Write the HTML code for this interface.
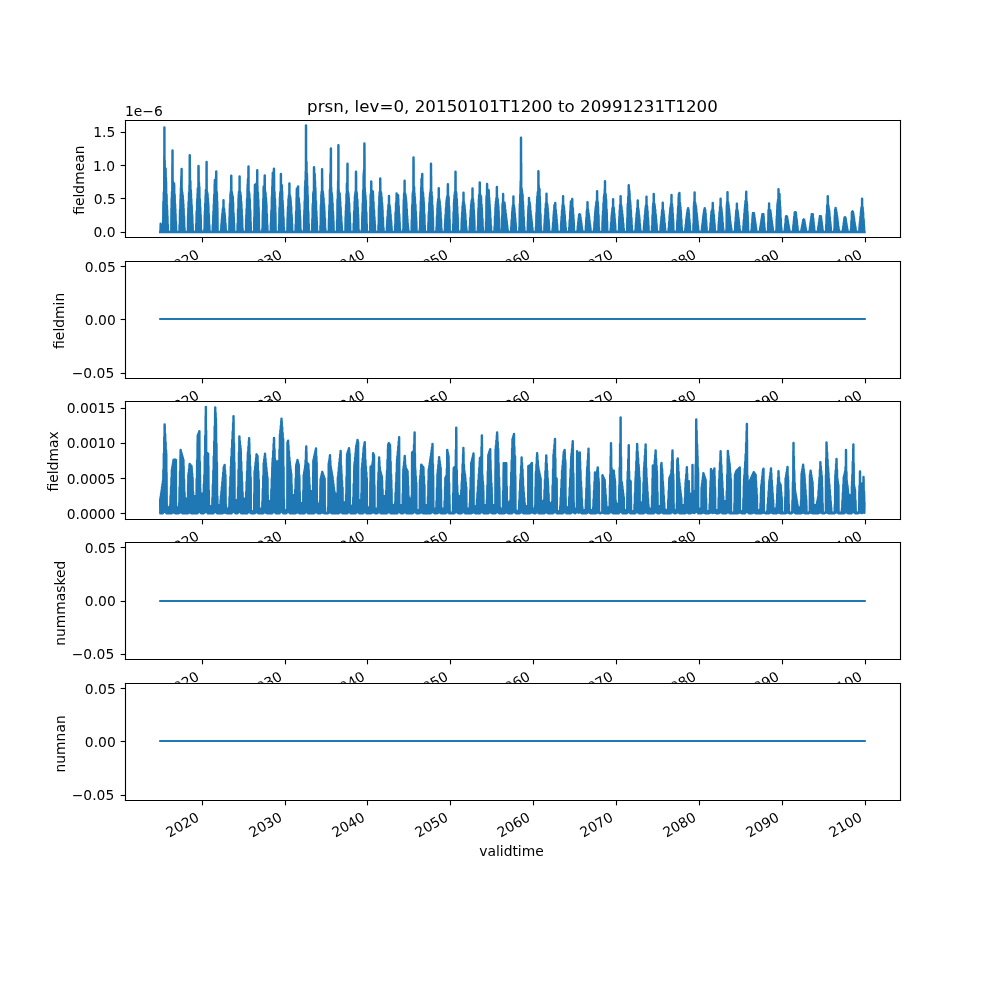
<!DOCTYPE html>
<html lang="en"><head><meta charset="utf-8"><title>prsn, lev=0</title>
<style>html,body{margin:0;padding:0;background:#fff;overflow:hidden;width:1000px;height:1000px}svg{display:block;will-change:transform;transform:translateZ(0)}text{font-family:"DejaVu Sans","Liberation Sans",sans-serif}</style></head>
<body>
<svg width="1000" height="1000" viewBox="0 0 720 720"><defs><style type="text/css">*{stroke-linejoin: round; stroke-linecap: butt}</style></defs><g id="figure_1"><g id="patch_1"><path d="M 0 720 L 720 720 L 720 0 L 0 0 z" style="fill: #ffffff"/></g><g id="axes_1"><g id="patch_2"><path d="M 90 170.81 L 648 170.81 L 648 86.4 L 90 86.4 z" style="fill: #ffffff"/></g><g id="matplotlib.axis_1"><g id="xtick_1"><g id="line2d_1"><defs><path id="m1504cfccaf" d="M 0 0 L 0 3.5" style="stroke: #000000; stroke-width: 0.8"/></defs><g><use href="#m1504cfccaf" x="145.8" y="171" style="stroke: #000000; stroke-width: 0.8"/></g></g><g id="text_1"><g transform="translate(0 0.9)"><text style="font-size: 10px; font-family: 'DejaVu Sans', 'Liberation Sans', sans-serif" transform="translate(122.111965 197.119233) rotate(-30)">2020</text></g></g></g><g id="xtick_2"><g id="line2d_2"><g><use href="#m1504cfccaf" x="205.56" y="171" style="stroke: #000000; stroke-width: 0.8"/></g></g><g id="text_2"><g transform="translate(0 0.9)"><text style="font-size: 10px; font-family: 'DejaVu Sans', 'Liberation Sans', sans-serif" transform="translate(181.801682 197.119233) rotate(-30)">2030</text></g></g></g><g id="xtick_3"><g id="line2d_3"><g><use href="#m1504cfccaf" x="264.6" y="171" style="stroke: #000000; stroke-width: 0.8"/></g></g><g id="text_3"><g transform="translate(0 0.9)"><text style="font-size: 10px; font-family: 'DejaVu Sans', 'Liberation Sans', sans-serif" transform="translate(241.475059 197.119233) rotate(-30)">2040</text></g></g></g><g id="xtick_4"><g id="line2d_4"><g><use href="#m1504cfccaf" x="324.36" y="171" style="stroke: #000000; stroke-width: 0.8"/></g></g><g id="text_4"><g transform="translate(0.18 0.9)"><text style="font-size: 10px; font-family: 'DejaVu Sans', 'Liberation Sans', sans-serif" transform="translate(301.164777 197.119233) rotate(-30)">2050</text></g></g></g><g id="xtick_5"><g id="line2d_5"><g><use href="#m1504cfccaf" x="384.12" y="171" style="stroke: #000000; stroke-width: 0.8"/></g></g><g id="text_5"><g transform="translate(-0.36 0.9)"><text style="font-size: 10px; font-family: 'DejaVu Sans', 'Liberation Sans', sans-serif" transform="translate(360.838154 197.119233) rotate(-30)">2060</text></g></g></g><g id="xtick_6"><g id="line2d_6"><g><use href="#m1504cfccaf" x="443.88" y="171" style="stroke: #000000; stroke-width: 0.8"/></g></g><g id="text_6"><g transform="translate(-0.36 0.9)"><text style="font-size: 10px; font-family: 'DejaVu Sans', 'Liberation Sans', sans-serif" transform="translate(420.527871 197.119233) rotate(-30)">2070</text></g></g></g><g id="xtick_7"><g id="line2d_7"><g><use href="#m1504cfccaf" x="503.64" y="171" style="stroke: #000000; stroke-width: 0.8"/></g></g><g id="text_7"><g transform="translate(-0.36 0.9)"><text style="font-size: 10px; font-family: 'DejaVu Sans', 'Liberation Sans', sans-serif" transform="translate(480.201249 197.119233) rotate(-30)">2080</text></g></g></g><g id="xtick_8"><g id="line2d_8"><g><use href="#m1504cfccaf" x="563.4" y="171" style="stroke: #000000; stroke-width: 0.8"/></g></g><g id="text_8"><g transform="translate(-0.18 0.9)"><text style="font-size: 10px; font-family: 'DejaVu Sans', 'Liberation Sans', sans-serif" transform="translate(539.890966 197.119233) rotate(-30)">2090</text></g></g></g><g id="xtick_9"><g id="line2d_9"><g><use href="#m1504cfccaf" x="623.16" y="171" style="stroke: #000000; stroke-width: 0.8"/></g></g><g id="text_9"><g transform="translate(-0.18 0.9)"><text style="font-size: 10px; font-family: 'DejaVu Sans', 'Liberation Sans', sans-serif" transform="translate(599.564343 197.119233) rotate(-30)">2100</text></g></g></g></g><g id="matplotlib.axis_2"><g id="ytick_1"><g id="line2d_10"><defs><path id="m5d545ce8f8" d="M 0 0 L -3.5 0" style="stroke: #000000; stroke-width: 0.8"/></defs><g><use href="#m5d545ce8f8" x="90.36" y="167.4" style="stroke: #000000; stroke-width: 0.8"/></g></g><g id="text_10"><g transform="translate(0.18 0)"><text style="font-size: 10px; font-family: 'DejaVu Sans', 'Liberation Sans', sans-serif; text-anchor: end" x="83" y="170.776021" transform="rotate(-0 83 170.776021)">0.0</text></g></g></g><g id="ytick_2"><g id="line2d_11"><g><use href="#m5d545ce8f8" x="90.36" y="142.92" style="stroke: #000000; stroke-width: 0.8"/></g></g><g id="text_11"><g transform="translate(0.36 0)"><text style="font-size: 10px; font-family: 'DejaVu Sans', 'Liberation Sans', sans-serif; text-anchor: end" x="83" y="146.69852" transform="rotate(-0 83 146.69852)">0.5</text></g></g></g><g id="ytick_3"><g id="line2d_12"><g><use href="#m5d545ce8f8" x="90.36" y="119.16" style="stroke: #000000; stroke-width: 0.8"/></g></g><g id="text_12"><g transform="translate(-0.18 0.72)"><text style="font-size: 10px; font-family: 'DejaVu Sans', 'Liberation Sans', sans-serif; text-anchor: end" x="83" y="122.621019" transform="rotate(-0 83 122.621019)">1.0</text></g></g></g><g id="ytick_4"><g id="line2d_13"><g><use href="#m5d545ce8f8" x="90.36" y="95.4" style="stroke: #000000; stroke-width: 0.8"/></g></g><g id="text_13"><text style="font-size: 10px; font-family: 'DejaVu Sans', 'Liberation Sans', sans-serif; text-anchor: end" x="83" y="98.543518" transform="rotate(-0 83 98.543518)">1.5</text></g></g><g id="text_14"><g transform="translate(-0.72 1.08)"><text style="font-size: 10px; font-family: 'DejaVu Sans', 'Liberation Sans', sans-serif; text-anchor: middle" x="61.017187" y="128.606897" transform="rotate(-90 61.017187 128.606897)">fieldmean</text></g></g><g id="text_15"><text style="font-size: 10px; font-family: 'DejaVu Sans', 'Liberation Sans', sans-serif; text-anchor: start" x="90" y="83.4" transform="rotate(-0 90 83.4)">1e−6</text></g></g><g id="line2d_14"><path d="M 115.36 166.98 L 115.53 166.98 L 115.69 161.04 L 115.85 166.98 L 116.01 163.6 L 116.17 166.98 L 117.27 166.98 L 117.31 162.04 L 117.47 166.98 L 117.63 146.66 L 117.66 166.98 L 117.67 145.15 L 117.81 166.98 L 117.96 138.5 L 118.01 138.18 L 118.06 166.98 L 118.12 138.18 L 118.2 166.98 L 118.28 112.69 L 118.32 166.98 L 118.37 91.83 L 118.47 166.98 L 118.57 115.53 L 118.67 166.98 L 118.73 121.25 L 118.83 166.98 L 118.93 121.25 L 118.97 166.98 L 119.02 121.25 L 119.13 166.98 L 119.23 121.25 L 119.24 166.98 L 119.25 121.79 L 119.36 166.98 L 119.47 127.9 L 119.52 166.98 L 119.58 130.9 L 119.74 166.98 L 119.9 140 L 119.94 166.98 L 119.95 141.48 L 120.09 166.98 L 120.22 147.89 L 120.3 166.98 L 120.37 151.27 L 120.46 166.98 L 120.55 155.54 L 120.68 166.98 L 120.82 161.88 L 120.95 166.98 L 123.33 166.98 L 123.46 149.83 L 123.54 166.98 L 123.62 142.79 L 123.71 166.98 L 123.84 138.18 L 123.95 137.68 L 124 166.98 L 124.11 118.68 L 124.16 166.98 L 124.2 108.39 L 124.32 166.98 L 124.44 130.49 L 124.52 166.98 L 124.56 132.05 L 124.66 166.98 L 124.76 132.05 L 124.84 166.98 L 124.92 132.05 L 125 166.98 L 125.08 132.05 L 125.22 166.98 L 125.35 132.05 L 125.38 166.98 L 125.41 133.22 L 125.57 166.98 L 125.73 140.09 L 125.76 166.98 L 125.78 141.2 L 125.92 166.98 L 126.06 146.96 L 126.14 166.98 L 126.22 150.36 L 126.3 166.98 L 126.38 153.82 L 126.51 166.98 L 126.65 159.51 L 126.68 166.98 L 126.7 160.69 L 126.85 166.98 L 129.23 166.98 L 129.3 161.9 L 129.46 166.98 L 129.62 151.41 L 129.63 166.98 L 129.64 150.94 L 129.79 166.98 L 129.94 143.52 L 130.03 166.98 L 130.11 139.69 L 130.19 166.98 L 130.27 135.23 L 130.33 166.98 L 130.46 129.6 L 130.54 166.98 L 130.59 126.74 L 130.67 166.98 L 130.75 121.71 L 130.83 166.98 L 130.92 136.17 L 131.03 166.98 L 131.11 138.18 L 131.18 166.98 L 131.24 138.51 L 131.39 166.98 L 131.54 140.68 L 131.55 166.98 L 131.56 140.91 L 131.7 166.98 L 131.83 144 L 131.95 166.98 L 132.02 146.86 L 132.11 166.98 L 132.21 150.21 L 132.35 166.98 L 132.49 155.75 L 132.51 166.98 L 132.54 156.68 L 132.7 166.98 L 132.86 164.22 L 132.91 166.98 L 132.97 166.97 L 135.29 166.98 L 135.45 154.62 L 135.53 166.98 L 135.6 149.78 L 135.69 166.98 L 135.78 145.18 L 135.93 166.98 L 136.08 139.52 L 136.1 139.29 L 136.18 166.98 L 136.26 138.18 L 136.4 166.98 L 136.42 133.32 L 136.49 166.98 L 136.62 111.81 L 136.68 166.98 L 136.75 121.17 L 136.81 166.98 L 136.87 130.32 L 137.01 166.98 L 137.05 130.32 L 137.07 130.7 L 137.23 166.98 L 137.4 137 L 137.45 166.98 L 137.51 139.2 L 137.61 166.98 L 137.72 143.3 L 137.85 166.98 L 137.98 147.66 L 138.01 166.98 L 138.04 148.6 L 138.21 166.98 L 138.37 154.42 L 138.41 166.98 L 138.46 156.27 L 138.58 166.98 L 138.69 161.22 L 138.81 166.98 L 141.19 166.98 L 141.28 161.11 L 141.43 166.98 L 141.57 153.13 L 141.59 166.98 L 141.61 152.25 L 141.77 166.98 L 141.93 145.22 L 141.99 166.98 L 142.05 143.17 L 142.15 166.98 L 142.26 139.46 L 142.34 166.98 L 142.42 135.65 L 142.54 166.98 L 142.67 135.65 L 142.79 166.98 L 142.9 120.54 L 142.96 166.98 L 142.92 119.48 L 143 123.35 L 143.09 166.98 L 143.17 131.58 L 143.25 166.98 L 143.28 131.58 L 143.41 166.98 L 143.48 134.42 L 143.55 136.13 L 143.71 166.98 L 143.88 143.51 L 143.91 166.98 L 143.95 144.8 L 144.08 166.98 L 144.2 149.33 L 144.31 166.98 L 144.43 154.33 L 144.48 166.98 L 144.52 156.62 L 144.69 166.98 L 144.85 165.31 L 144.88 166.98 L 144.9 166.97 L 146.63 166.98 L 147.09 166.98 L 147.12 165.16 L 147.28 166.98 L 147.44 154.74 L 147.49 166.98 L 147.54 151.91 L 147.65 166.98 L 147.76 146.46 L 147.89 166.98 L 148.02 141.68 L 148.05 166.98 L 148.09 140.65 L 148.17 166.98 L 148.25 136.8 L 148.32 166.98 L 148.41 136.8 L 148.5 166.98 L 148.5 136.8 L 148.62 166.98 L 148.74 117.99 L 148.74 166.98 L 148.75 116.67 L 148.86 166.98 L 148.97 138.18 L 149.09 166.98 L 149.11 138.18 L 149.25 166.98 L 149.38 139.45 L 149.41 166.98 L 149.44 139.97 L 149.58 166.98 L 149.71 142.9 L 149.81 166.98 L 149.92 146.05 L 149.98 166.98 L 150.03 147.93 L 150.19 166.98 L 150.36 154.31 L 150.38 166.98 L 150.4 155.2 L 150.54 166.98 L 150.68 161.9 L 150.87 166.98 L 153.14 166.98 L 153.25 162.14 L 153.26 166.98 L 153.27 161.71 L 153.43 166.98 L 153.6 154.57 L 153.65 166.98 L 153.7 152.25 L 153.81 166.98 L 153.92 147.43 L 154.03 166.98 L 154.15 142.36 L 154.2 166.98 L 154.24 140.28 L 154.41 166.98 L 154.57 133.14 L 154.6 132.47 L 154.66 166.98 L 154.73 129.6 L 154.81 166.98 L 154.89 129.6 L 154.97 166.98 L 155.05 129.6 L 155.13 166.98 L 155.22 129.6 L 155.28 166.98 L 155.34 129.6 L 155.47 166.98 L 155.54 127.39 L 155.62 166.98 L 155.7 123.51 L 155.78 166.98 L 155.86 137.6 L 156.01 166.98 L 156.06 138.18 L 156.12 166.98 L 156.19 139.58 L 156.29 166.98 L 156.39 145.12 L 156.45 166.98 L 156.51 149.73 L 156.67 166.98 L 156.84 166.64 L 156.84 166.98 L 159.05 166.98 L 159.1 165.64 L 159.27 166.98 L 159.43 161.56 L 159.45 166.98 L 159.48 160.95 L 159.61 166.98 L 159.75 157.7 L 159.85 166.98 L 159.95 155.44 L 160.01 166.98 L 160.08 154.13 L 160.24 166.98 L 160.4 151.03 L 160.43 150.79 L 160.49 166.98 L 160.56 149.9 L 160.7 166.98 L 160.72 149.9 L 160.81 166.98 L 160.92 144.21 L 160.98 166.98 L 161.05 149.9 L 161.11 166.98 L 161.17 149.9 L 161.33 166.98 L 161.37 150.49 L 161.38 150.57 L 161.54 166.98 L 161.7 153.5 L 161.78 166.98 L 161.86 155.23 L 161.94 166.98 L 162.02 157.07 L 162.18 166.98 L 162.33 160.84 L 162.34 166.98 L 162.34 160.97 L 162.51 166.98 L 162.67 165.11 L 162.81 166.98 L 165.11 166.98 L 165.26 156.09 L 165.35 166.98 L 165.45 150.24 L 165.51 166.98 L 165.58 146.51 L 165.75 166.98 L 165.91 140.12 L 165.91 166.98 L 165.92 139.94 L 166.03 166.98 L 166.14 138.18 L 166.24 166.98 L 166.25 138.18 L 166.32 166.98 L 166.4 134.74 L 166.45 166.98 L 166.5 126.46 L 166.56 129.84 L 166.65 166.98 L 166.75 138.18 L 166.87 166.98 L 166.87 138.18 L 166.88 138.19 L 167.04 166.98 L 167.2 139.82 L 167.28 166.98 L 167.35 141.13 L 167.44 166.98 L 167.53 141.84 L 167.59 166.98 L 167.65 141.84 L 167.74 166.98 L 167.83 145.72 L 167.85 146.3 L 168.01 166.98 L 168.18 153.53 L 168.24 166.98 L 168.3 156.08 L 168.4 166.98 L 168.5 160.36 L 168.64 166.98 L 171.01 166.98 L 171.09 161.15 L 171.25 166.98 L 171.41 150.75 L 171.41 166.98 L 171.42 150.69 L 171.58 166.98 L 171.74 142.94 L 171.81 166.98 L 171.89 140.42 L 171.98 166.98 L 172.06 138.54 L 172.15 138.18 L 172.21 166.98 L 172.37 138.18 L 172.39 136.96 L 172.45 166.98 L 172.51 127.11 L 172.61 166.98 L 172.71 138.18 L 172.8 166.98 L 172.87 138.18 L 172.95 166.98 L 173.04 138.67 L 173.18 166.98 L 173.32 140.81 L 173.34 166.98 L 173.36 141.23 L 173.52 166.98 L 173.68 145.32 L 173.74 166.98 L 173.79 147.01 L 173.9 166.98 L 174.01 150.68 L 174.14 166.98 L 174.27 155.85 L 174.3 166.98 L 174.33 157.17 L 174.49 166.98 L 174.66 164.71 L 174.75 166.98 L 176.91 166.98 L 176.92 166.46 L 177.09 166.98 L 177.25 157.75 L 177.31 166.98 L 177.38 154.54 L 177.48 166.98 L 177.57 150.38 L 177.71 166.98 L 177.86 144.06 L 177.88 166.98 L 177.9 143.14 L 178.06 166.98 L 178.22 135.34 L 178.28 166.98 L 178.33 132.61 L 178.41 166.98 L 178.54 128.88 L 178.61 166.98 L 178.67 128.88 L 178.74 166.98 L 178.87 121.78 L 178.89 166.98 L 178.92 119.91 L 179.05 166.98 L 179.17 138.18 L 179.28 166.98 L 179.29 138.18 L 179.4 166.98 L 179.52 139.6 L 179.64 166.98 L 179.76 142.85 L 179.8 166.98 L 179.84 144.18 L 180 166.98 L 180.16 151.03 L 180.2 166.98 L 180.24 152.88 L 180.36 166.98 L 180.49 159.81 L 180.6 166.98 L 182.98 166.98 L 183.08 156.35 L 183.21 166.98 L 183.35 142.42 L 183.4 139.63 L 183.47 166.98 L 183.53 133.2 L 183.63 166.98 L 183.73 133.2 L 183.78 166.98 L 183.83 133.2 L 183.94 166.98 L 184.05 133.2 L 184.18 166.98 L 184.3 133.2 L 184.34 166.98 L 184.38 133.2 L 184.54 166.98 L 184.7 133.2 L 184.82 166.98 L 184.97 133.2 L 185 166.98 L 185.02 130.87 L 185.12 166.98 L 185.22 122.61 L 185.3 166.98 L 185.35 133.83 L 185.41 166.98 L 185.47 138.18 L 185.63 166.98 L 185.67 138.63 L 185.73 139.21 L 185.86 166.98 L 186 143.85 L 186.1 166.98 L 186.21 149.39 L 186.26 166.98 L 186.32 152.99 L 186.48 166.98 L 186.64 165.33 L 186.66 166.98 L 186.68 166.97 L 188.88 166.98 L 188.91 164.66 L 189.07 166.98 L 189.24 153.92 L 189.28 166.98 L 189.32 151.2 L 189.44 166.98 L 189.56 143.18 L 189.68 166.98 L 189.79 135.43 L 189.86 166.98 L 189.83 134.28 L 189.88 134.28 L 190.05 166.98 L 190.21 134.28 L 190.32 166.98 L 190.37 134.28 L 190.45 166.98 L 190.53 129.16 L 190.62 126.39 L 190.68 166.98 L 190.75 136.54 L 190.86 166.98 L 190.98 138.18 L 191.08 166.98 L 191.18 139.01 L 191.2 166.98 L 191.22 139.33 L 191.36 166.98 L 191.5 142.34 L 191.6 166.98 L 191.7 145.23 L 191.76 166.98 L 191.83 147.48 L 191.99 166.98 L 192.15 154.13 L 192.16 166.98 L 192.17 154.64 L 192.32 166.98 L 192.48 162.14 L 192.56 166.98 L 192.65 166.97 L 194.26 166.98 L 194.82 166.98 L 194.83 166.39 L 194.95 166.98 L 195.07 160.15 L 195.19 166.98 L 195.31 153.84 L 195.35 166.98 L 195.39 151.55 L 195.55 166.98 L 195.72 142.96 L 195.75 166.98 L 195.78 141.28 L 195.91 166.98 L 196.04 134.37 L 196.15 166.98 L 196.25 128.73 L 196.31 166.98 L 196.42 124.38 L 196.55 166.98 L 196.69 124.38 L 196.71 166.98 L 196.72 124.38 L 196.82 166.98 L 196.92 124.38 L 197.02 166.98 L 197.03 124.38 L 197.11 166.98 L 197.2 122.38 L 197.28 121.42 L 197.31 166.98 L 197.34 126.43 L 197.43 166.98 L 197.53 138.18 L 197.65 166.98 L 197.66 138.22 L 197.67 138.27 L 197.83 166.98 L 197.98 143.21 L 198.06 166.98 L 198.14 147.74 L 198.23 166.98 L 198.31 153.41 L 198.46 166.98 L 199.77 166.98 L 200.84 166.98 L 200.9 161.92 L 201.06 166.98 L 201.22 150.43 L 201.24 166.98 L 201.25 149.51 L 201.4 166.98 L 201.55 142.2 L 201.64 166.98 L 201.73 139.29 L 201.8 166.98 L 201.89 138.18 L 201.94 166.98 L 202 138.18 L 202.1 166.98 L 202.21 128.76 L 202.23 166.98 L 202.25 125.31 L 202.37 166.98 L 202.5 133.38 L 202.56 166.98 L 202.61 133.38 L 202.65 166.98 L 202.68 133.38 L 202.76 166.98 L 202.84 133.38 L 202.89 166.98 L 202.93 133.38 L 203.05 166.98 L 203.16 137.97 L 203.16 166.98 L 203.17 138.16 L 203.33 166.98 L 203.49 144.74 L 203.56 166.98 L 203.63 147.64 L 203.72 166.98 L 203.82 150.83 L 203.96 166.98 L 204.11 156.38 L 204.12 166.98 L 204.14 156.98 L 204.3 166.98 L 204.46 164.06 L 204.52 166.98 L 204.59 166.97 L 206.08 166.98 L 206.9 166.98 L 207.06 157.18 L 207.14 166.98 L 207.22 152.68 L 207.3 166.98 L 207.38 149 L 207.54 166.98 L 207.7 143.32 L 207.7 166.98 L 207.7 143.25 L 207.86 166.98 L 208.01 140.8 L 208.07 166.98 L 208.12 140.8 L 208.15 166.98 L 208.17 140.8 L 208.26 166.98 L 208.37 132.08 L 208.49 166.98 L 208.62 140.8 L 208.7 166.98 L 208.73 140.8 L 208.86 166.98 L 209 141.89 L 209.06 166.98 L 209.13 142.87 L 209.22 166.98 L 209.32 144.84 L 209.46 166.98 L 209.6 148.47 L 209.62 166.98 L 209.65 149.14 L 209.81 166.98 L 209.97 154.59 L 210.02 166.98 L 210.08 156.62 L 210.19 166.98 L 210.3 161.09 L 210.43 166.98 L 212.8 166.98 L 212.89 161.83 L 213.04 166.98 L 213.19 152.82 L 213.2 166.98 L 213.21 152.2 L 213.37 166.98 L 213.54 142.56 L 213.6 166.98 L 213.67 138.67 L 213.77 135.65 L 213.81 166.98 L 213.86 135.65 L 214 166.98 L 214.14 135.65 L 214.23 166.98 L 214.38 135.65 L 214.44 166.98 L 214.51 134.97 L 214.56 166.98 L 214.63 134.31 L 214.73 166.98 L 214.83 142.48 L 214.94 166.98 L 214.99 142.48 L 215.09 142.79 L 215.12 166.98 L 215.16 143.14 L 215.32 166.98 L 215.48 146.35 L 215.52 166.98 L 215.57 147.58 L 215.69 166.98 L 215.8 151.29 L 215.93 166.98 L 216.05 155.92 L 216.09 166.98 L 216.13 157.62 L 216.29 166.98 L 216.45 165.17 L 216.52 166.98 L 218.7 166.98 L 218.72 165.6 L 218.88 166.98 L 219.04 154.74 L 219.1 166.98 L 219.16 151.41 L 219.26 166.98 L 219.37 144.83 L 219.5 166.98 L 219.63 136.19 L 219.69 134.35 L 219.75 166.98 L 219.82 130.32 L 219.89 166.98 L 220.02 130.32 L 220.09 166.98 L 220.11 123.59 L 220.22 166.98 L 220.32 90.39 L 220.33 166.98 L 220.34 92.41 L 220.46 166.98 L 220.57 116.64 L 220.67 166.98 L 220.68 116.64 L 220.83 166.98 L 220.99 125.19 L 221.02 166.98 L 221.06 127.27 L 221.19 166.98 L 221.31 134.19 L 221.42 166.98 L 221.54 140.5 L 221.59 166.98 L 221.64 143.2 L 221.8 166.98 L 221.96 152.21 L 221.99 166.98 L 222.01 153.75 L 222.15 166.98 L 222.28 161.22 L 222.49 166.98 L 224.76 166.98 L 224.88 157.61 L 225 166.98 L 225.13 148.96 L 225.16 166.98 L 225.2 146.85 L 225.36 166.98 L 225.52 139.89 L 225.6 138.9 L 225.66 166.98 L 225.72 138.18 L 225.84 166.98 L 225.85 138.18 L 225.96 166.98 L 226.08 120.47 L 226.13 166.98 L 226.08 120.34 L 226.17 122.13 L 226.25 166.98 L 226.33 125.28 L 226.47 166.98 L 226.58 125.28 L 226.7 166.98 L 226.82 130.52 L 226.92 166.98 L 227.03 135.21 L 227.09 166.98 L 227.14 137.72 L 227.31 166.98 L 227.47 144.93 L 227.49 166.98 L 227.51 145.81 L 227.65 166.98 L 227.79 152.13 L 227.89 166.98 L 227.98 156.39 L 228.05 166.98 L 228.12 159.29 L 228.28 166.98 L 228.44 166.52 L 228.46 166.98 L 230.66 166.98 L 230.71 162.56 L 230.87 166.98 L 231.03 149.06 L 231.06 166.98 L 231.09 147.22 L 231.22 166.98 L 231.36 140.32 L 231.45 166.98 L 231.55 138.18 L 231.67 166.98 L 231.68 138.18 L 231.8 166.98 L 231.91 121.89 L 232.01 166.98 L 232.02 128.68 L 232.09 166.98 L 232.16 137.52 L 232.29 166.98 L 232.32 137.52 L 232.33 137.69 L 232.41 166.98 L 232.49 138.84 L 232.57 166.98 L 232.65 139.86 L 232.8 166.98 L 232.96 142.67 L 232.97 166.98 L 232.98 142.87 L 233.14 166.98 L 233.3 147.01 L 233.36 166.98 L 233.42 148.88 L 233.52 166.98 L 233.62 152.12 L 233.76 166.98 L 233.89 157.04 L 233.92 166.98 L 233.95 158.13 L 234.11 166.98 L 234.27 164.81 L 234.39 166.98 L 236.73 166.98 L 236.86 157.52 L 236.96 166.98 L 237.06 151.66 L 237.13 166.98 L 237.19 147.72 L 237.35 166.98 L 237.51 137.33 L 237.53 166.98 L 237.54 136.45 L 237.69 166.98 L 237.84 126.94 L 237.87 125.71 L 237.94 166.98 L 238.01 124.31 L 238.09 166.98 L 238.16 113.5 L 238.2 166.98 L 238.25 106.88 L 238.37 166.98 L 238.48 134.95 L 238.55 166.98 L 238.61 138.18 L 238.71 166.98 L 238.81 138.92 L 238.89 166.98 L 238.97 140.16 L 239.05 166.98 L 239.13 141.9 L 239.29 166.98 L 239.44 146.28 L 239.45 166.98 L 239.46 146.48 L 239.62 166.98 L 239.78 152.42 L 239.85 166.98 L 239.92 155.36 L 240.01 166.98 L 240.1 159.58 L 240.25 166.98 L 242.63 166.98 L 242.7 158.39 L 242.85 166.98 L 243 144.32 L 243.01 166.98 L 243.02 143.58 L 243.15 166.98 L 243.29 138.18 L 243.4 135.79 L 243.42 166.98 L 243.44 130.27 L 243.54 166.98 L 243.65 104.61 L 243.66 166.98 L 243.67 107.28 L 243.78 166.98 L 243.88 136.87 L 244 166.98 L 244.01 138.18 L 244.16 166.98 L 244.32 139.25 L 244.32 166.98 L 244.33 139.25 L 244.45 166.98 L 244.58 139.25 L 244.7 166.98 L 244.77 142.12 L 244.87 166.98 L 244.96 145.16 L 245.09 166.98 L 245.21 149.02 L 245.25 166.98 L 245.29 150.21 L 245.45 166.98 L 245.61 155.26 L 245.63 166.98 L 245.65 155.91 L 245.79 166.98 L 245.94 160.31 L 246.02 166.98 L 246.1 162.81 L 246.18 166.98 L 246.26 165.36 L 246.31 166.98 L 246.36 166.97 L 248.53 166.98 L 248.53 166.82 L 248.69 166.98 L 248.85 156.04 L 248.93 166.98 L 249 151.82 L 249.09 166.98 L 249.18 147.39 L 249.33 166.98 L 249.47 140.27 L 249.49 166.98 L 249.5 139.58 L 249.63 166.98 L 249.77 132.05 L 249.89 166.98 L 249.95 131.84 L 250.05 166.98 L 250.15 120.79 L 250.17 166.98 L 250.2 117.82 L 250.31 166.98 L 250.43 138.18 L 250.52 166.98 L 250.56 138.18 L 250.68 166.98 L 250.8 139.17 L 250.85 166.98 L 250.9 140.05 L 251.01 166.98 L 251.12 142.39 L 251.25 166.98 L 251.38 146.14 L 251.41 166.98 L 251.44 147.21 L 251.61 166.98 L 251.77 153.38 L 251.81 166.98 L 251.86 155.27 L 251.97 166.98 L 252.09 160.77 L 252.21 166.98 L 254.59 166.98 L 254.68 160.98 L 254.83 166.98 L 254.97 153.18 L 254.99 166.98 L 255.01 152.17 L 255.17 166.98 L 255.33 145.18 L 255.39 166.98 L 255.53 141.48 L 255.59 166.98 L 255.66 140.27 L 255.79 166.98 L 255.92 138.25 L 255.96 138.18 L 256.02 166.98 L 256.07 138.18 L 256.19 166.98 L 256.3 124.86 L 256.36 166.98 L 256.32 123.69 L 256.4 128.05 L 256.48 166.98 L 256.57 138.18 L 256.65 166.98 L 256.68 138.18 L 256.78 166.98 L 256.87 139 L 256.91 166.98 L 256.95 139.64 L 257.11 166.98 L 257.28 143.61 L 257.31 166.98 L 257.35 144.75 L 257.47 166.98 L 257.6 149.39 L 257.71 166.98 L 257.82 154.3 L 257.87 166.98 L 257.92 156.72 L 258.09 166.98 L 258.25 165.45 L 258.27 166.98 L 258.3 166.97 L 260.19 166.98 L 260.49 166.98 L 260.52 165.27 L 260.68 166.98 L 260.84 155.88 L 260.89 166.98 L 260.94 153.06 L 261.05 166.98 L 261.16 146.41 L 261.29 166.98 L 261.41 139.15 L 261.45 166.98 L 261.49 136.95 L 261.65 166.98 L 261.81 127.48 L 261.89 125.25 L 261.91 166.98 L 262.01 123.84 L 262.13 166.98 L 262.14 122.25 L 262.25 166.98 L 262.36 103.63 L 262.41 166.98 L 262.37 103.28 L 262.46 114.83 L 262.54 166.98 L 262.62 135.13 L 262.76 166.98 L 262.78 138.29 L 262.84 138.54 L 262.97 166.98 L 263.11 140.97 L 263.21 166.98 L 263.32 143.96 L 263.37 166.98 L 263.43 145.98 L 263.59 166.98 L 263.76 152.85 L 263.77 166.98 L 263.79 153.72 L 263.94 166.98 L 264.08 161.35 L 264.17 166.98 L 264.27 166.97 L 264.89 166.98 L 266.55 166.98 L 266.67 149.05 L 266.76 166.98 L 266.84 141.48 L 266.94 139.78 L 266.97 166.98 L 267.05 139.78 L 267.15 166.98 L 267.26 133.77 L 267.31 166.98 L 267.3 130.71 L 267.32 131.26 L 267.44 166.98 L 267.55 137.88 L 267.67 166.98 L 267.67 137.88 L 267.82 166.98 L 267.97 137.88 L 268.03 166.98 L 268.09 137.88 L 268.19 166.98 L 268.29 137.88 L 268.37 166.98 L 268.45 137.88 L 268.5 138.71 L 268.56 166.98 L 268.62 140.55 L 268.77 166.98 L 268.92 145.48 L 268.93 166.98 L 268.94 145.83 L 269.1 166.98 L 269.26 151.12 L 269.3 166.98 L 269.33 152.25 L 269.46 166.98 L 269.59 156.4 L 269.67 166.98 L 269.75 159.02 L 269.83 166.98 L 269.91 161.69 L 270.07 166.98 L 272.45 166.98 L 272.5 162.11 L 272.67 166.98 L 272.83 149.75 L 272.85 166.98 L 272.87 148.33 L 273.01 166.98 L 273.15 141.27 L 273.25 166.98 L 273.35 138.52 L 273.42 138.18 L 273.45 166.98 L 273.53 138.18 L 273.65 166.98 L 273.78 128.48 L 273.81 166.98 L 273.82 131.83 L 273.93 166.98 L 274.03 138.18 L 274.13 166.98 L 274.14 138.18 L 274.22 166.98 L 274.3 138.58 L 274.37 166.98 L 274.45 139.38 L 274.61 166.98 L 274.77 142.18 L 274.77 166.98 L 274.78 142.22 L 274.94 166.98 L 275.1 146.15 L 275.17 166.98 L 275.25 148.45 L 275.34 166.98 L 275.42 151.16 L 275.57 166.98 L 275.73 156.79 L 275.74 166.98 L 275.74 157.08 L 275.91 166.98 L 276.07 163.87 L 276.2 166.98 L 278.51 166.98 L 278.66 161.66 L 278.75 166.98 L 278.84 158.62 L 278.91 166.98 L 278.98 156.33 L 279.15 166.98 L 279.31 151.68 L 279.31 166.98 L 279.32 151.57 L 279.47 166.98 L 279.63 148.11 L 279.72 147.55 L 279.76 166.98 L 279.83 147.55 L 279.89 166.98 L 279.96 147.48 L 280.02 166.98 L 280.08 141.08 L 280.17 166.98 L 280.28 147.55 L 280.39 166.98 L 280.44 147.55 L 280.52 166.98 L 280.6 148.45 L 280.67 166.98 L 280.74 149.57 L 280.84 166.98 L 280.93 151.29 L 281.07 166.98 L 281.22 154.44 L 281.24 166.98 L 281.25 154.8 L 281.41 166.98 L 281.58 158.77 L 281.64 166.98 L 281.7 160.34 L 281.8 166.98 L 281.9 163.1 L 282.04 166.98 L 284.41 166.98 L 284.49 161.89 L 284.64 166.98 L 284.79 153.5 L 284.8 166.98 L 284.82 152.9 L 284.98 166.98 L 285.14 146.65 L 285.19 146.2 L 285.27 166.98 L 285.3 146.2 L 285.38 166.98 L 285.46 144.14 L 285.51 166.98 L 285.55 139.28 L 285.63 166.98 L 285.71 140.08 L 285.86 166.98 L 285.91 140.58 L 286.01 166.98 L 286.11 140.58 L 286.14 166.98 L 286.17 140.58 L 286.3 166.98 L 286.44 140.58 L 286.53 166.98 L 286.63 140.58 L 286.7 166.98 L 286.76 142.81 L 286.92 166.98 L 287.08 148.47 L 287.08 166.98 L 287.08 148.48 L 287.25 166.98 L 287.41 154.15 L 287.47 166.98 L 287.54 156.49 L 287.64 166.98 L 287.73 159.82 L 287.87 166.98 L 288 164.52 L 288.1 166.98 L 290.31 166.98 L 290.32 165.36 L 290.49 166.98 L 290.65 147.08 L 290.69 166.98 L 290.73 143.78 L 290.84 166.98 L 290.95 139.29 L 291.02 166.98 L 291.06 139.29 L 291.11 166.98 L 291.17 139.29 L 291.23 166.98 L 291.31 130.06 L 291.44 166.98 L 291.56 139.29 L 291.65 166.98 L 291.67 139.29 L 291.76 166.98 L 291.85 139.76 L 291.99 166.98 L 292.03 140.75 L 292.15 166.98 L 292.27 142.71 L 292.37 166.98 L 292.46 144.78 L 292.53 166.98 L 292.59 146.35 L 292.74 166.98 L 292.9 150.65 L 292.91 166.98 L 292.92 150.96 L 293.05 166.98 L 293.18 155.46 L 293.28 166.98 L 293.33 158.09 L 293.45 166.98 L 293.56 160.97 L 293.66 166.98 L 293.76 163.13 L 293.82 166.98 L 293.89 164.54 L 294.11 166.98 L 296.37 166.98 L 296.48 158.31 L 296.61 166.98 L 296.74 149.26 L 296.77 166.98 L 296.8 147.55 L 296.97 166.98 L 297.13 140.37 L 297.17 166.98 L 297.22 139.11 L 297.29 166.98 L 297.36 138.18 L 297.46 166.98 L 297.47 138.18 L 297.58 166.98 L 297.7 115.88 L 297.75 166.98 L 297.72 113.36 L 297.78 118.04 L 297.87 166.98 L 297.97 134.64 L 298.09 166.98 L 298.15 134.64 L 298.17 134.99 L 298.3 166.98 L 298.42 139.2 L 298.54 166.98 L 298.65 141.73 L 298.7 166.98 L 298.75 142.81 L 298.91 166.98 L 299.07 147.14 L 299.1 166.98 L 299.12 147.96 L 299.26 166.98 L 299.4 152.54 L 299.5 166.98 L 299.6 156.47 L 299.66 166.98 L 299.72 158.91 L 299.88 166.98 L 300.04 166.18 L 300.06 166.98 L 300.08 166.97 L 302.27 166.98 L 302.31 164.5 L 302.47 166.98 L 302.64 154.76 L 302.67 166.98 L 302.71 152.4 L 302.84 166.98 L 302.96 144.83 L 303.07 166.98 L 303.19 137.81 L 303.24 166.98 L 303.28 134.9 L 303.38 166.98 L 303.48 128.88 L 303.54 166.98 L 303.66 128.88 L 303.72 166.98 L 303.77 128.88 L 303.85 166.98 L 303.93 126.56 L 304.02 125.31 L 304.08 166.98 L 304.14 135.31 L 304.26 166.98 L 304.38 138.18 L 304.48 166.98 L 304.58 139.02 L 304.6 166.98 L 304.62 139.29 L 304.76 166.98 L 304.9 142.36 L 305 166.98 L 305.09 145.18 L 305.16 166.98 L 305.23 147.52 L 305.39 166.98 L 305.55 154.21 L 305.56 166.98 L 305.57 154.6 L 305.72 166.98 L 305.88 162.26 L 305.96 166.98 L 306.04 166.97 L 307.98 166.98 L 308.34 166.98 L 308.47 160.16 L 308.57 166.98 L 308.68 155.18 L 308.74 166.98 L 308.79 152.8 L 308.95 166.98 L 309.12 146.69 L 309.14 166.98 L 309.16 146.01 L 309.3 166.98 L 309.44 141.98 L 309.54 166.98 L 309.63 139.93 L 309.7 166.98 L 309.82 138.62 L 309.89 166.98 L 309.96 138.18 L 310.08 166.98 L 310.11 136.48 L 310.21 166.98 L 310.32 117.82 L 310.37 166.98 L 310.41 126.74 L 310.49 166.98 L 310.58 138.18 L 310.71 166.98 L 310.74 138.32 L 310.9 166.98 L 311.06 141.72 L 311.06 166.98 L 311.06 141.75 L 311.22 166.98 L 311.38 148.1 L 311.46 166.98 L 311.54 151.96 L 311.62 166.98 L 311.71 156.84 L 311.86 166.98 L 313.81 166.98 L 314.24 166.98 L 314.3 163.68 L 314.46 166.98 L 314.62 156.07 L 314.64 166.98 L 314.65 155.53 L 314.8 166.98 L 314.95 149.82 L 315.04 166.98 L 315.13 147.07 L 315.2 166.98 L 315.27 145.24 L 315.41 166.98 L 315.54 143.34 L 315.62 166.98 L 315.65 143.34 L 315.77 166.98 L 315.9 135.46 L 316 166.98 L 316.08 143.34 L 316.2 166.98 L 316.26 143.34 L 316.41 166.98 L 316.55 144.86 L 316.56 166.98 L 316.57 144.98 L 316.73 166.98 L 316.89 148.34 L 316.96 166.98 L 317.03 150.13 L 317.12 166.98 L 317.22 152.84 L 317.36 166.98 L 317.5 157.65 L 317.52 166.98 L 317.54 158.27 L 317.7 166.98 L 317.86 164.52 L 317.92 166.98 L 317.98 166.97 L 319.81 166.98 L 320.3 166.98 L 320.46 160.56 L 320.54 166.98 L 320.62 157.55 L 320.7 166.98 L 320.78 154.74 L 320.94 166.98 L 321.09 149.93 L 321.1 166.98 L 321.1 149.79 L 321.27 166.98 L 321.43 145.79 L 321.5 166.98 L 321.57 144.36 L 321.66 166.98 L 321.77 142.75 L 321.91 166.98 L 322.05 141.39 L 322.1 166.98 L 322.13 141.26 L 322.18 166.98 L 322.24 141.26 L 322.32 166.98 L 322.4 136.41 L 322.49 132.69 L 322.5 166.98 L 322.52 134.94 L 322.62 166.98 L 322.74 141.26 L 322.79 166.98 L 322.85 141.26 L 322.92 166.98 L 323 142.18 L 323.05 142.75 L 323.21 166.98 L 323.37 148.71 L 323.42 166.98 L 323.47 151.26 L 323.58 166.98 L 323.7 157.88 L 323.82 166.98 L 326.2 166.98 L 326.29 161.47 L 326.44 166.98 L 326.59 153.34 L 326.6 166.98 L 326.61 152.7 L 326.75 166.98 L 326.88 146.74 L 326.94 145.67 L 327 166.98 L 327.06 143.45 L 327.16 166.98 L 327.26 140.64 L 327.4 166.98 L 327.54 138.32 L 327.6 138.18 L 327.65 166.98 L 327.71 138.18 L 327.81 166.98 L 327.91 129.28 L 327.99 166.98 L 327.96 123.69 L 328.01 128.26 L 328.11 166.98 L 328.23 138.18 L 328.28 166.98 L 328.32 138.18 L 328.4 166.98 L 328.49 138.86 L 328.52 166.98 L 328.56 139.36 L 328.72 166.98 L 328.88 143.19 L 328.92 166.98 L 328.97 144.53 L 329.08 166.98 L 329.2 148.91 L 329.32 166.98 L 329.44 154.14 L 329.48 166.98 L 329.53 156.24 L 329.69 166.98 L 329.85 165.02 L 329.92 166.98 L 332.1 166.98 L 332.12 166.02 L 332.28 166.98 L 332.44 159.09 L 332.5 166.98 L 332.55 156.93 L 332.66 166.98 L 332.77 153.07 L 332.9 166.98 L 333.03 149.06 L 333.06 166.98 L 333.09 148.25 L 333.23 166.98 L 333.36 145.85 L 333.49 166.98 L 333.51 145.85 L 333.61 166.98 L 333.72 138.81 L 333.73 166.98 L 333.74 139.9 L 333.86 166.98 L 333.97 145.85 L 334.07 166.98 L 334.08 145.85 L 334.23 166.98 L 334.39 147.65 L 334.42 166.98 L 334.46 148.25 L 334.58 166.98 L 334.71 150.75 L 334.82 166.98 L 334.93 153.3 L 334.98 166.98 L 335.04 154.57 L 335.2 166.98 L 335.36 158.94 L 335.38 166.98 L 335.41 159.66 L 335.55 166.98 L 335.68 163.76 L 335.89 166.98 L 338.16 166.98 L 338.28 162.52 L 338.4 166.98 L 338.52 158.11 L 338.56 166.98 L 338.6 156.81 L 338.76 166.98 L 338.92 151.86 L 338.96 166.98 L 339 150.84 L 339.11 166.98 L 339.23 147.31 L 339.24 166.98 L 339.25 147.31 L 339.36 166.98 L 339.47 145.54 L 339.52 166.98 L 339.57 144.77 L 339.71 166.98 L 339.84 143.5 L 339.95 166.98 L 339.95 143.5 L 340.07 166.98 L 340.2 135.68 L 340.21 166.98 L 340.22 136.88 L 340.32 166.98 L 340.43 143.5 L 340.5 166.98 L 340.56 143.5 L 340.71 166.98 L 340.87 146.08 L 340.88 166.98 L 340.9 146.54 L 341.05 166.98 L 341.19 151.29 L 341.28 166.98 L 341.38 155.1 L 341.45 166.98 L 341.52 158.23 L 341.68 166.98 L 341.84 166.58 L 341.85 166.98 L 344.06 166.98 L 344.11 163.11 L 344.27 166.98 L 344.43 151.69 L 344.46 166.98 L 344.49 149.98 L 344.62 166.98 L 344.76 143.68 L 344.86 166.98 L 344.97 140.75 L 345.06 140.26 L 345.07 166.98 L 345.17 140.26 L 345.29 166.98 L 345.4 132.53 L 345.43 166.98 L 345.42 131.36 L 345.44 132.22 L 345.56 166.98 L 345.67 140.26 L 345.75 166.98 L 345.78 140.26 L 345.85 166.98 L 345.92 140.56 L 345.98 166.98 L 346.05 141.19 L 346.19 166.98 L 346.32 141.48 L 346.38 166.98 L 346.39 142.74 L 346.55 166.98 L 346.7 147.33 L 346.78 166.98 L 346.87 149.65 L 346.95 166.98 L 347.02 151.95 L 347.18 166.98 L 347.35 157.43 L 347.35 166.98 L 347.35 157.45 L 347.51 166.98 L 347.67 163.78 L 347.82 166.98 L 349.89 166.98 L 349.94 159.64 L 350.1 166.98 L 350.26 142.59 L 350.31 166.98 L 350.35 141.13 L 350.41 166.98 L 350.46 141.13 L 350.52 166.98 L 350.68 134.97 L 350.69 166.98 L 350.71 132.51 L 350.81 166.98 L 350.91 136.05 L 351.02 166.98 L 351.09 136.98 L 351.16 166.98 L 351.24 136.98 L 351.37 166.98 L 351.5 136.98 L 351.53 166.98 L 351.56 136.98 L 351.71 166.98 L 351.86 136.98 L 351.9 166.98 L 351.92 137.82 L 352.06 166.98 L 352.21 142.33 L 352.27 166.98 L 352.33 144.27 L 352.43 166.98 L 352.53 147.37 L 352.64 166.98 L 352.75 150.72 L 352.8 166.98 L 352.86 152.42 L 353.01 166.98 L 353.16 157.16 L 353.17 166.98 L 353.18 157.47 L 353.34 166.98 L 353.5 162.51 L 353.65 166.98 L 356.02 166.98 L 356.1 163.23 L 356.26 166.98 L 356.42 155.76 L 356.42 166.98 L 356.43 155.62 L 356.58 166.98 L 356.74 149.62 L 356.82 166.98 L 356.9 147.18 L 356.97 166.98 L 357.07 145.08 L 357.22 166.98 L 357.38 142.74 L 357.41 142.69 L 357.46 166.98 L 357.52 142.69 L 357.62 166.98 L 357.72 137.61 L 357.77 134.6 L 357.81 166.98 L 357.85 140.15 L 357.94 166.98 L 358.04 142.69 L 358.08 166.98 L 358.13 142.69 L 358.23 166.98 L 358.33 143.56 L 358.35 166.98 L 358.36 143.8 L 358.53 166.98 L 358.69 147.1 L 358.75 166.98 L 358.81 148.69 L 358.91 166.98 L 359.01 151.83 L 359.15 166.98 L 359.28 156.69 L 359.31 166.98 L 359.34 157.73 L 359.5 166.98 L 359.66 164.67 L 359.71 166.98 L 359.76 166.97 L 361.49 166.98 L 361.6 155.25 L 361.69 166.98 L 361.78 148.51 L 361.87 146.53 L 361.9 166.98 L 361.98 146.53 L 362.09 166.98 L 362.2 141.66 L 362.24 166.98 L 362.23 139.71 L 362.25 140.19 L 362.37 166.98 L 362.48 145.98 L 362.6 166.98 L 362.61 145.98 L 362.75 166.98 L 362.9 145.98 L 362.96 166.98 L 363.02 145.98 L 363.12 166.98 L 363.24 145.98 L 363.34 166.98 L 363.44 147.65 L 363.49 166.98 L 363.55 148.58 L 363.7 166.98 L 363.85 151.15 L 363.86 166.98 L 363.87 151.31 L 364.03 166.98 L 364.2 154.05 L 364.23 166.98 L 364.27 154.64 L 364.39 166.98 L 364.52 156.78 L 364.6 166.98 L 364.68 158.14 L 364.76 166.98 L 364.84 159.52 L 365.01 166.98 L 365.17 162.26 L 365.33 166.98 L 365.49 164.99 L 365.61 166.98 L 367.98 166.98 L 368.08 163.6 L 368.22 166.98 L 368.36 159.09 L 368.38 166.98 L 368.41 158.39 L 368.57 166.98 L 368.73 153.71 L 368.79 166.98 L 368.84 152.3 L 368.95 166.98 L 369.06 149.78 L 369.17 166.98 L 369.29 147.88 L 369.39 166.98 L 369.4 147.88 L 369.52 166.98 L 369.65 141.51 L 369.75 166.98 L 369.9 147.88 L 370.02 166.98 L 370.03 147.94 L 370.15 166.98 L 370.27 149.59 L 370.31 166.98 L 370.35 150.35 L 370.51 166.98 L 370.68 153.68 L 370.71 166.98 L 370.74 154.44 L 370.87 166.98 L 371 157.53 L 371.11 166.98 L 371.22 160.35 L 371.27 166.98 L 371.32 161.76 L 371.49 166.98 L 371.65 166.29 L 371.67 166.98 L 371.69 166.97 L 373.88 166.98 L 373.92 163.82 L 374.08 166.98 L 374.24 149.62 L 374.28 166.98 L 374.32 146.87 L 374.44 166.98 L 374.56 140.43 L 374.66 166.98 L 374.78 135.93 L 374.87 133.09 L 374.88 166.98 L 374.89 130.48 L 375 166.98 L 375.12 99.21 L 375.23 166.98 L 375.25 117.53 L 375.31 166.98 L 375.37 135.65 L 375.51 166.98 L 375.55 135.65 L 375.63 166.98 L 375.71 136.74 L 375.79 166.98 L 375.86 137.75 L 376.02 166.98 L 376.18 139.92 L 376.23 166.98 L 376.27 140.58 L 376.39 166.98 L 376.51 145.05 L 376.57 166.98 L 376.64 147.56 L 376.74 166.98 L 376.83 151.2 L 376.97 166.98 L 377.1 156.37 L 377.13 166.98 L 377.16 157.35 L 377.32 166.98 L 377.48 163.5 L 377.62 166.98 L 378.29 166.98 L 379.95 166.98 L 380.07 159.24 L 380.17 166.98 L 380.26 154.01 L 380.33 166.98 L 380.4 150.82 L 380.46 166.98 L 380.52 148.69 L 380.66 166.98 L 380.72 148.69 L 380.8 166.98 L 380.88 142.59 L 380.96 166.98 L 381.04 144.79 L 381.19 166.98 L 381.24 145.98 L 381.3 166.98 L 381.38 145.98 L 381.48 166.98 L 381.58 147.77 L 381.63 166.98 L 381.69 148.85 L 381.85 166.98 L 382.01 151.86 L 382.01 166.98 L 382.02 151.88 L 382.18 166.98 L 382.34 154.91 L 382.4 166.98 L 382.45 155.96 L 382.56 166.98 L 382.66 157.94 L 382.78 166.98 L 382.89 160.05 L 382.94 166.98 L 382.99 160.96 L 383.15 166.98 L 383.31 163.99 L 383.32 166.98 L 383.33 164.15 L 383.48 166.98 L 385.85 166.98 L 385.9 163.46 L 386.07 166.98 L 386.23 154.39 L 386.25 166.98 L 386.27 153.39 L 386.41 166.98 L 386.55 147.01 L 386.65 166.98 L 386.75 143.44 L 386.81 166.98 L 386.88 141.54 L 387.04 166.98 L 387.2 138.44 L 387.25 166.98 L 387.29 138.18 L 387.34 166.98 L 387.4 138.18 L 387.46 166.98 L 387.52 138.18 L 387.59 166.98 L 387.65 123.33 L 387.69 125.7 L 387.77 166.98 L 387.85 133.42 L 387.9 136.08 L 387.95 166.98 L 388.01 136.08 L 388.09 166.98 L 388.17 136.08 L 388.31 166.98 L 388.44 136.08 L 388.57 166.98 L 388.65 141.59 L 388.73 166.98 L 388.82 146.2 L 388.97 166.98 L 389.12 154.11 L 389.13 166.98 L 389.14 154.59 L 389.31 166.98 L 389.47 163.12 L 389.6 166.98 L 391.91 166.98 L 392.06 161.01 L 392.15 166.98 L 392.24 157.79 L 392.31 166.98 L 392.38 155.25 L 392.55 166.98 L 392.71 150.36 L 392.71 166.98 L 392.71 150.31 L 392.87 166.98 L 393.03 146.81 L 393.12 146.31 L 393.15 166.98 L 393.23 146.31 L 393.29 166.98 L 393.36 146.23 L 393.42 166.98 L 393.48 139.42 L 393.57 166.98 L 393.68 146.31 L 393.79 166.98 L 393.84 146.31 L 393.92 166.98 L 394 147.14 L 394.07 166.98 L 394.14 148.19 L 394.23 166.98 L 394.33 149.99 L 394.47 166.98 L 394.61 153.23 L 394.63 166.98 L 394.65 153.68 L 394.81 166.98 L 394.98 157.97 L 395.03 166.98 L 395.09 159.62 L 395.2 166.98 L 395.3 162.73 L 395.43 166.98 L 397.81 166.98 L 397.89 164.79 L 398.05 166.98 L 398.2 160.63 L 398.21 166.98 L 398.22 160.47 L 398.38 166.98 L 398.54 156.15 L 398.61 166.98 L 398.68 154.29 L 398.77 166.98 L 398.86 151.84 L 399.01 166.98 L 399.16 147.95 L 399.18 166.98 L 399.17 147.78 L 399.19 147.78 L 399.3 166.98 L 399.42 147.78 L 399.52 166.98 L 399.53 147.78 L 399.58 166.98 L 399.63 147.13 L 399.71 166.98 L 399.78 146.19 L 399.84 148.48 L 399.93 166.98 L 400.03 151.14 L 400.15 166.98 L 400.16 151.26 L 400.32 166.98 L 400.48 154.32 L 400.53 166.98 L 400.58 155.4 L 400.7 166.98 L 400.81 157.95 L 400.93 166.98 L 401.06 160.96 L 401.1 166.98 L 401.13 161.85 L 401.29 166.98 L 401.46 165.94 L 401.54 166.98 L 403.71 166.98 L 403.72 166.47 L 403.89 166.98 L 404.05 160.88 L 404.11 166.98 L 404.17 158.86 L 404.27 166.98 L 404.37 155.78 L 404.51 166.98 L 404.65 151.95 L 404.67 166.98 L 404.7 151.35 L 404.86 166.98 L 405.02 148.02 L 405.07 147.74 L 405.15 166.98 L 405.18 147.74 L 405.26 166.98 L 405.34 145.84 L 405.39 166.98 L 405.43 141.33 L 405.52 166.98 L 405.6 147.74 L 405.74 166.98 L 405.79 147.74 L 405.89 166.98 L 405.99 148.94 L 406.03 166.98 L 406.08 149.63 L 406.2 166.98 L 406.32 151.91 L 406.43 166.98 L 406.55 154.48 L 406.6 166.98 L 406.64 155.5 L 406.8 166.98 L 406.96 159.53 L 407 166.98 L 407.03 160.37 L 407.16 166.98 L 407.29 163.9 L 407.5 166.98 L 409.77 166.98 L 409.88 163.56 L 410.01 166.98 L 410.14 159.45 L 410.17 166.98 L 410.2 158.44 L 410.37 166.98 L 410.53 153.31 L 410.57 166.98 L 410.62 151.92 L 410.73 166.98 L 410.85 148.19 L 410.95 166.98 L 411.05 145.08 L 411.13 166.98 L 411.18 145.08 L 411.34 166.98 L 411.5 145.08 L 411.61 166.98 L 411.77 145.08 L 411.8 166.98 L 411.82 144.69 L 411.92 166.98 L 412.02 143.31 L 412.04 144.42 L 412.1 166.98 L 412.15 149.23 L 412.21 166.98 L 412.27 149.23 L 412.43 166.98 L 412.47 150.08 L 412.52 150.66 L 412.66 166.98 L 412.8 154.67 L 412.9 166.98 L 413 158.04 L 413.06 166.98 L 413.12 160.25 L 413.28 166.98 L 413.44 166.42 L 413.46 166.98 L 413.47 166.98 L 415.67 166.98 L 415.71 166.2 L 415.87 166.98 L 416.04 163.09 L 416.07 166.98 L 416.11 162.4 L 416.23 166.98 L 416.36 160 L 416.47 166.98 L 416.58 157.89 L 416.63 166.98 L 416.68 156.96 L 416.82 166.98 L 416.95 154.54 L 417.06 166.98 L 417.06 154.54 L 417.19 166.98 L 417.31 154.54 L 417.32 166.98 L 417.33 154.54 L 417.43 166.98 L 417.54 154.54 L 417.61 166.98 L 417.67 154.54 L 417.83 166.98 L 417.98 156.6 L 418 166.98 L 418.01 156.83 L 418.16 166.98 L 418.3 158.86 L 418.4 166.98 L 418.49 160.16 L 418.56 166.98 L 418.63 161.15 L 418.79 166.98 L 418.95 163.46 L 418.96 166.98 L 418.96 163.55 L 419.12 166.98 L 419.28 165.79 L 419.44 166.98 L 421.73 166.98 L 421.87 162.31 L 421.97 166.98 L 422.08 158.84 L 422.13 166.98 L 422.19 156.99 L 422.35 166.98 L 422.52 152.29 L 422.55 151.84 L 422.6 166.98 L 422.75 150.9 L 422.79 166.98 L 422.84 150.9 L 422.92 166.98 L 423 145.54 L 423.03 146.74 L 423.1 166.98 L 423.16 150.9 L 423.31 166.98 L 423.36 150.9 L 423.42 166.98 L 423.49 151.55 L 423.5 151.65 L 423.66 166.98 L 423.81 153.71 L 423.9 166.98 L 423.98 154.95 L 424.06 166.98 L 424.14 156.14 L 424.3 166.98 L 424.46 158.71 L 424.46 166.98 L 424.46 158.74 L 424.62 166.98 L 424.78 161.47 L 424.86 166.98 L 424.93 162.75 L 425.02 166.98 L 425.11 164.29 L 425.26 166.98 L 427.63 166.98 L 427.7 164.9 L 427.86 166.98 L 428.02 160.07 L 428.03 166.98 L 428.04 159.78 L 428.2 166.98 L 428.35 155.68 L 428.43 166.98 L 428.52 153.53 L 428.6 166.98 L 428.67 151.78 L 428.77 166.98 L 428.87 149.7 L 428.93 166.98 L 429 148.47 L 429.16 166.98 L 429.32 145.96 L 429.4 166.98 L 429.47 145.17 L 429.55 144.96 L 429.6 166.98 L 429.66 144.96 L 429.79 166.98 L 429.91 137.62 L 429.96 166.98 L 429.97 140.85 L 430.07 166.98 L 430.16 144.96 L 430.28 166.98 L 430.29 145.02 L 430.36 166.98 L 430.42 146.22 L 430.52 166.98 L 430.62 149.04 L 430.76 166.98 L 430.9 154.71 L 430.92 166.98 L 430.94 155.61 L 431.1 166.98 L 431.26 163.81 L 431.32 166.98 L 431.38 166.97 L 432.88 166.98 L 433.7 166.98 L 433.86 158.96 L 433.93 166.98 L 434.01 155.43 L 434.1 166.98 L 434.18 152 L 434.33 166.98 L 434.49 146.57 L 434.5 166.98 L 434.5 146.34 L 434.67 166.98 L 434.83 142.14 L 434.88 141.48 L 434.92 166.98 L 434.96 140.88 L 435.06 166.98 L 435.15 139.76 L 435.24 139.56 L 435.29 166.98 L 435.44 137.44 L 435.48 135.89 L 435.54 166.98 L 435.6 130.42 L 435.7 166.98 L 435.8 139.56 L 435.88 166.98 L 435.96 139.56 L 436.04 166.98 L 436.12 140.34 L 436.26 166.98 L 436.39 143.5 L 436.42 166.98 L 436.45 144.37 L 436.61 166.98 L 436.77 150.82 L 436.82 166.98 L 436.87 153.14 L 436.98 166.98 L 437.1 159.27 L 437.22 166.98 L 439.6 166.98 L 439.69 164.5 L 439.83 166.98 L 439.98 160.7 L 440 166.98 L 440.01 160.31 L 440.17 166.98 L 440.34 156.39 L 440.4 166.98 L 440.46 155.01 L 440.56 166.98 L 440.66 152.83 L 440.8 166.98 L 440.93 150.29 L 440.98 149.89 L 441.03 166.98 L 441.18 149.36 L 441.24 166.98 L 441.31 149.29 L 441.36 166.98 L 441.43 143.49 L 441.53 166.98 L 441.63 149.36 L 441.74 166.98 L 441.79 149.36 L 441.88 149.94 L 441.92 166.98 L 441.96 150.53 L 442.12 166.98 L 442.28 153.77 L 442.32 166.98 L 442.36 154.68 L 442.48 166.98 L 442.6 157.57 L 442.72 166.98 L 442.84 160.51 L 442.88 166.98 L 442.93 161.71 L 443.09 166.98 L 443.25 166.12 L 443.31 166.98 L 445.5 166.98 L 445.52 165.81 L 445.68 166.98 L 445.84 158.25 L 445.9 166.98 L 445.95 156.02 L 446.06 166.98 L 446.17 151.8 L 446.3 166.98 L 446.42 148.03 L 446.47 147.66 L 446.54 166.98 L 446.58 147.66 L 446.7 166.98 L 446.82 142.07 L 446.87 166.98 L 446.83 141.22 L 446.9 144.72 L 446.99 166.98 L 447.08 147.66 L 447.17 166.98 L 447.19 147.66 L 447.28 166.98 L 447.38 148.49 L 447.42 166.98 L 447.46 149.03 L 447.63 166.98 L 447.79 151.46 L 447.82 166.98 L 447.85 152.01 L 447.98 166.98 L 448.11 154.34 L 448.22 166.98 L 448.33 156.44 L 448.38 166.98 L 448.44 157.53 L 448.6 166.98 L 448.76 160.98 L 448.78 166.98 L 448.8 161.48 L 448.94 166.98 L 449.08 164.65 L 449.28 166.98 L 451.56 166.98 L 451.68 157.01 L 451.79 166.98 L 451.9 149.35 L 451.95 166.98 L 452 146.8 L 452.16 166.98 L 452.32 141.83 L 452.34 141.8 L 452.41 166.98 L 452.45 141.8 L 452.55 166.98 L 452.65 136.91 L 452.7 133.41 L 452.77 166.98 L 452.83 135.55 L 452.89 166.98 L 452.97 137.52 L 453.1 166.98 L 453.13 137.52 L 453.21 166.98 L 453.29 139.77 L 453.3 139.79 L 453.46 166.98 L 453.62 144.3 L 453.69 166.98 L 453.76 145.86 L 453.85 166.98 L 453.94 147.81 L 454.08 166.98 L 454.22 151.28 L 454.24 166.98 L 454.27 151.92 L 454.43 166.98 L 454.59 156.83 L 454.64 166.98 L 454.68 158.38 L 454.8 166.98 L 454.92 162.34 L 455.03 166.98 L 455.15 165.58 L 455.25 166.98 L 457.46 166.98 L 457.51 165.57 L 457.67 166.98 L 457.83 161.1 L 457.86 166.98 L 457.88 160.39 L 458.02 166.98 L 458.16 156.91 L 458.26 166.98 L 458.36 154.45 L 458.42 166.98 L 458.48 153.11 L 458.64 166.98 L 458.8 150.07 L 458.82 149.98 L 458.88 166.98 L 458.93 149.98 L 459.03 166.98 L 459.13 146.68 L 459.18 144.32 L 459.25 166.98 L 459.31 149.98 L 459.37 166.98 L 459.45 149.98 L 459.5 166.98 L 459.54 149.98 L 459.66 166.98 L 459.78 151.62 L 459.78 166.98 L 459.79 151.74 L 459.94 166.98 L 460.1 154.58 L 460.18 166.98 L 460.27 156.24 L 460.34 166.98 L 460.42 157.91 L 460.58 166.98 L 460.74 161.4 L 460.74 166.98 L 460.75 161.48 L 460.91 166.98 L 461.07 165.24 L 461.22 166.98 L 463.52 166.98 L 463.66 163.09 L 463.76 166.98 L 463.85 160.63 L 463.92 166.98 L 463.99 158.94 L 464.15 166.98 L 464.31 155.11 L 464.32 166.98 L 464.33 154.92 L 464.48 166.98 L 464.64 151.7 L 464.72 166.98 L 464.8 150.14 L 464.88 166.98 L 464.96 148.91 L 465.04 166.98 L 465.12 148.01 L 465.25 166.98 L 465.28 148.01 L 465.38 166.98 L 465.48 141.69 L 465.54 166.98 L 465.61 148.01 L 465.67 166.98 L 465.76 148.01 L 465.89 166.98 L 465.93 148.62 L 466.08 166.98 L 466.23 151.95 L 466.24 166.98 L 466.26 152.24 L 466.42 166.98 L 466.58 156.84 L 466.64 166.98 L 466.71 158.86 L 466.81 166.98 L 466.9 162.06 L 467.04 166.98 L 469.42 166.98 L 469.5 162.91 L 469.66 166.98 L 469.82 155.04 L 469.82 166.98 L 469.82 155.02 L 469.98 166.98 L 470.14 148.8 L 470.22 166.98 L 470.34 146.53 L 470.46 166.98 L 470.47 146.53 L 470.58 166.98 L 470.7 139.71 L 470.78 166.98 L 470.79 144.66 L 470.87 166.98 L 470.95 146.53 L 471.09 166.98 L 471.12 146.68 L 471.18 166.98 L 471.25 147.3 L 471.34 166.98 L 471.44 148.56 L 471.58 166.98 L 471.72 150.84 L 471.74 166.98 L 471.76 151.22 L 471.93 166.98 L 472.09 154.36 L 472.14 166.98 L 472.2 155.52 L 472.3 166.98 L 472.41 157.88 L 472.54 166.98 L 472.67 160.94 L 472.7 166.98 L 472.74 161.71 L 472.9 166.98 L 473.06 165.81 L 473.15 166.98 L 473.15 166.98 L 475.32 166.98 L 475.33 166.8 L 475.49 166.98 L 475.65 162.98 L 475.72 166.98 L 475.79 161.4 L 475.88 166.98 L 475.98 159.3 L 476.12 166.98 L 476.26 156.19 L 476.28 166.98 L 476.3 155.83 L 476.46 166.98 L 476.62 152.68 L 476.68 166.98 L 476.82 151.14 L 476.94 166.98 L 476.95 151.14 L 477.06 166.98 L 477.18 146.01 L 477.24 166.98 L 477.27 149.81 L 477.35 166.98 L 477.43 151.14 L 477.57 166.98 L 477.6 151.48 L 477.69 152.23 L 477.81 166.98 L 477.92 154.23 L 478.04 166.98 L 478.17 156.65 L 478.21 166.98 L 478.24 157.4 L 478.41 166.98 L 478.57 160.81 L 478.61 166.98 L 478.65 161.65 L 478.77 166.98 L 478.89 164.37 L 479.01 166.98 L 481.38 166.98 L 481.48 164.12 L 481.62 166.98 L 481.76 160.43 L 481.78 166.98 L 481.81 159.77 L 481.97 166.98 L 482.13 155.77 L 482.18 166.98 L 482.23 154.59 L 482.34 166.98 L 482.46 152.18 L 482.54 166.98 L 482.62 150.59 L 482.71 149.74 L 482.74 166.98 L 482.78 149.14 L 482.94 166.98 L 483.1 147.05 L 483.12 147.01 L 483.21 166.98 L 483.23 147.01 L 483.33 166.98 L 483.43 142.56 L 483.45 166.98 L 483.48 140.36 L 483.57 166.98 L 483.66 147.01 L 483.8 166.98 L 483.84 147.01 L 483.96 166.98 L 484.08 149.19 L 484.11 166.98 L 484.14 149.98 L 484.27 166.98 L 484.4 153.88 L 484.51 166.98 L 484.61 157.57 L 484.67 166.98 L 484.72 159.61 L 484.89 166.98 L 485.05 166.09 L 485.07 166.98 L 485.09 166.97 L 487.28 166.98 L 487.32 165.76 L 487.48 166.98 L 487.64 160.08 L 487.68 166.98 L 487.73 158.57 L 487.84 166.98 L 487.96 154.36 L 488.08 166.98 L 488.2 150.14 L 488.24 166.98 L 488.29 148.63 L 488.45 166.98 L 488.61 142.9 L 488.68 141.73 L 488.74 166.98 L 488.81 139.68 L 488.93 166.98 L 488.94 139.63 L 489.04 166.98 L 489.15 139.03 L 489.21 166.98 L 489.17 138.99 L 489.26 144.07 L 489.34 166.98 L 489.42 145.99 L 489.56 166.98 L 489.58 146.2 L 489.63 146.48 L 489.77 166.98 L 489.91 149.04 L 490.01 166.98 L 490.11 151.44 L 490.17 166.98 L 490.23 153.16 L 490.39 166.98 L 490.56 158.09 L 490.57 166.98 L 490.58 158.52 L 490.73 166.98 L 490.88 163.67 L 490.97 166.98 L 491.06 166.97 L 492.5 166.98 L 493.34 166.98 L 493.47 164.52 L 493.58 166.98 L 493.69 162.41 L 493.74 166.98 L 493.8 161.47 L 493.96 166.98 L 494.12 158.53 L 494.17 158.08 L 494.22 166.98 L 494.28 157.12 L 494.36 166.98 L 494.44 155.73 L 494.54 166.98 L 494.65 154.08 L 494.71 166.98 L 494.77 153.14 L 494.92 166.98 L 495.07 151.14 L 495.15 166.98 L 495.18 151.14 L 495.3 166.98 L 495.42 150.37 L 495.43 149.86 L 495.51 166.98 L 495.6 151.14 L 495.71 166.98 L 495.79 151.14 L 495.93 166.98 L 496.06 153.94 L 496.07 166.98 L 496.07 154.06 L 496.23 166.98 L 496.39 158.02 L 496.47 166.98 L 496.55 160.2 L 496.63 166.98 L 496.71 162.45 L 496.87 166.98 L 499.24 166.98 L 499.3 161.07 L 499.46 166.98 L 499.61 148.87 L 499.63 148.27 L 499.69 166.98 L 499.75 145.72 L 499.91 166.98 L 500.03 143.29 L 500.07 166.98 L 500.11 138.63 L 500.19 166.98 L 500.28 145.43 L 500.41 166.98 L 500.47 145.72 L 500.54 166.98 L 500.6 146.14 L 500.74 166.98 L 500.87 147.83 L 500.9 166.98 L 500.92 148.21 L 501.02 166.98 L 501.12 149.11 L 501.18 166.98 L 501.25 150.33 L 501.29 150.78 L 501.43 166.98 L 501.57 153.42 L 501.64 166.98 L 501.72 154.8 L 501.81 166.98 L 501.9 156.5 L 502.02 166.98 L 502.14 158.82 L 502.18 166.98 L 502.22 159.59 L 502.38 166.98 L 502.54 162.68 L 502.55 166.98 L 502.56 162.84 L 502.71 166.98 L 502.87 165.77 L 502.99 166.98 L 505.31 166.98 L 505.46 164.11 L 505.54 166.98 L 505.63 162.54 L 505.71 166.98 L 505.78 161.15 L 505.94 166.98 L 506.11 158.26 L 506.11 158.25 L 506.19 166.98 L 506.27 156.78 L 506.35 166.98 L 506.43 155.59 L 506.51 166.98 L 506.58 154.39 L 506.67 166.98 L 506.76 153.08 L 506.91 166.98 L 507.06 151.14 L 507.12 166.98 L 507.06 151.14 L 507.17 151.14 L 507.29 166.98 L 507.4 150.32 L 507.42 149.86 L 507.48 166.98 L 507.53 151.14 L 507.6 166.98 L 507.73 151.14 L 507.75 166.98 L 507.78 151.14 L 507.89 166.98 L 508.01 153.57 L 508.03 166.98 L 508.05 154.08 L 508.21 166.98 L 508.38 158.36 L 508.43 166.98 L 508.49 159.92 L 508.59 166.98 L 508.7 163.02 L 508.83 166.98 L 511.21 166.98 L 511.29 164.83 L 511.44 166.98 L 511.6 160.93 L 511.61 166.98 L 511.62 160.71 L 511.78 166.98 L 511.94 156.6 L 512.01 166.98 L 512.07 154.89 L 512.17 166.98 L 512.28 152.28 L 512.41 166.98 L 512.55 152.28 L 512.57 166.98 L 512.59 152.28 L 512.7 166.98 L 512.82 151.14 L 512.92 166.98 L 512.93 151.14 L 512.98 166.98 L 513.03 149.91 L 513.1 166.98 L 513.18 146.19 L 513.24 148.48 L 513.33 166.98 L 513.43 151.14 L 513.55 166.98 L 513.56 151.26 L 513.72 166.98 L 513.88 154.33 L 513.93 166.98 L 513.98 155.37 L 514.09 166.98 L 514.21 157.98 L 514.33 166.98 L 514.45 160.94 L 514.49 166.98 L 514.53 161.89 L 514.69 166.98 L 514.86 166.01 L 514.93 166.98 L 517.11 166.98 L 517.12 166.45 L 517.29 166.98 L 517.45 161.44 L 517.51 166.98 L 517.57 159.69 L 517.67 166.98 L 517.77 156.79 L 517.91 166.98 L 518.04 153.27 L 518.07 166.98 L 518.1 152.63 L 518.26 166.98 L 518.42 149.33 L 518.47 149.01 L 518.55 166.98 L 518.58 149.01 L 518.66 166.98 L 518.74 147.23 L 518.79 166.98 L 518.83 143.02 L 518.91 166.98 L 518.99 149.01 L 519.14 166.98 L 519.19 149.01 L 519.29 166.98 L 519.39 150.29 L 519.43 166.98 L 519.47 150.94 L 519.59 166.98 L 519.72 153.2 L 519.83 166.98 L 519.95 155.58 L 519.99 166.98 L 520.04 156.59 L 520.2 166.98 L 520.36 160.31 L 520.39 166.98 L 520.42 161.02 L 520.55 166.98 L 520.69 164.28 L 520.9 166.98 L 522.95 166.98 L 522.96 165.82 L 523.12 166.98 L 523.28 149.78 L 523.35 147.39 L 523.39 166.98 L 523.55 145.5 L 523.68 166.98 L 523.8 138.34 L 523.86 166.98 L 523.93 145.5 L 523.99 166.98 L 524.05 145.5 L 524.17 166.98 L 524.18 145.53 L 524.25 145.76 L 524.41 166.98 L 524.58 147.7 L 524.58 166.98 L 524.59 147.83 L 524.75 166.98 L 524.9 150.47 L 524.95 166.98 L 525.01 151.5 L 525.11 166.98 L 525.22 153.79 L 525.3 166.98 L 525.38 155.61 L 525.42 156.03 L 525.48 166.98 L 525.55 157.49 L 525.69 166.98 L 525.83 159.55 L 525.85 166.98 L 525.87 159.82 L 526.03 166.98 L 526.2 162.15 L 526.22 166.98 L 526.25 162.53 L 526.38 166.98 L 526.52 164.48 L 526.68 166.98 L 526.84 166.81 L 526.87 166.98 L 529.07 166.98 L 529.11 165.68 L 529.27 166.98 L 529.44 160.88 L 529.47 166.98 L 529.5 159.92 L 529.63 166.98 L 529.76 156.36 L 529.87 166.98 L 529.98 153.57 L 530.03 166.98 L 530.08 152.34 L 530.15 166.98 L 530.21 151.14 L 530.36 166.98 L 530.45 151.14 L 530.51 166.98 L 530.57 146.62 L 530.65 166.98 L 530.73 151.14 L 530.87 166.98 L 530.93 151.14 L 530.93 151.15 L 530.99 166.98 L 531.06 151.85 L 531.15 166.98 L 531.25 153.22 L 531.32 166.98 L 531.38 154.18 L 531.41 154.39 L 531.56 166.98 L 531.7 156.79 L 531.79 166.98 L 531.88 158.31 L 531.96 166.98 L 532.03 159.57 L 532.19 166.98 L 532.35 162.47 L 532.36 166.98 L 532.36 162.54 L 532.52 166.98 L 532.68 165.47 L 532.83 166.98 L 535.13 166.98 L 535.27 162.79 L 535.37 166.98 L 535.47 159.85 L 535.53 166.98 L 535.59 158.18 L 535.75 166.98 L 535.92 154.02 L 535.93 166.98 L 535.95 153.65 L 536.09 166.98 L 536.24 150.38 L 536.33 166.98 L 536.42 148.6 L 536.49 166.98 L 536.56 147.13 L 536.66 166.98 L 536.76 144.65 L 536.82 166.98 L 536.94 144.65 L 536.99 166.98 L 537.05 144.65 L 537.13 166.98 L 537.21 140.39 L 537.3 138.09 L 537.34 166.98 L 537.37 142.38 L 537.46 166.98 L 537.55 145.31 L 537.61 166.98 L 537.66 145.31 L 537.76 166.98 L 537.85 147.01 L 537.86 147.12 L 538.02 166.98 L 538.18 152.45 L 538.26 166.98 L 538.33 155.38 L 538.42 166.98 L 538.51 159.47 L 538.66 166.98 L 541.03 166.98 L 541.1 165.24 L 541.26 166.98 L 541.42 161.19 L 541.43 166.98 L 541.44 161 L 541.59 166.98 L 541.75 157.26 L 541.83 166.98 L 541.92 155.31 L 541.99 166.98 L 542.09 153.46 L 542.14 166.98 L 542.2 153.46 L 542.29 166.98 L 542.4 153.46 L 542.42 166.98 L 542.45 153.46 L 542.57 166.98 L 542.7 153.46 L 542.76 166.98 L 542.81 153.46 L 542.84 166.98 L 542.87 153.79 L 542.96 166.98 L 543.04 154.88 L 543.19 166.98 L 543.34 156.86 L 543.36 166.98 L 543.37 157.02 L 543.53 166.98 L 543.69 159.25 L 543.76 166.98 L 543.82 160.14 L 543.92 166.98 L 544.02 161.53 L 544.16 166.98 L 544.29 163.52 L 544.32 166.98 L 544.34 163.84 L 544.5 166.98 L 544.66 166.19 L 544.77 166.97 L 547.09 166.98 L 547.26 164.85 L 547.33 166.98 L 547.41 163.86 L 547.49 166.98 L 547.58 162.74 L 547.73 166.98 L 547.88 160.78 L 547.89 166.98 L 547.9 160.65 L 548.07 166.98 L 548.23 158.58 L 548.29 166.98 L 548.36 157.75 L 548.46 166.98 L 548.57 156.44 L 548.7 166.98 L 548.84 154.82 L 548.9 166.98 L 548.93 154.29 L 548.98 166.98 L 549.04 154.29 L 549.12 166.98 L 549.2 154.29 L 549.3 166.98 L 549.31 154.29 L 549.42 166.98 L 549.52 154.29 L 549.59 166.98 L 549.65 154.29 L 549.72 166.98 L 549.79 155.79 L 549.85 156.47 L 550.01 166.98 L 550.17 160.22 L 550.22 166.98 L 550.26 161.3 L 550.38 166.98 L 550.5 164.06 L 550.62 166.98 L 552.99 166.98 L 553.09 160.04 L 553.19 166.98 L 553.3 153.34 L 553.39 151.14 L 553.4 166.98 L 553.5 151.14 L 553.61 166.98 L 553.72 147.94 L 553.74 166.98 L 553.75 146.48 L 553.88 166.98 L 554 151.14 L 554.12 166.98 L 554.13 151.21 L 554.26 166.98 L 554.38 151.38 L 554.46 166.98 L 554.54 151.38 L 554.68 166.98 L 554.71 151.8 L 554.83 166.98 L 554.96 153.7 L 554.99 166.98 L 555.03 154.26 L 555.19 166.98 L 555.36 156.72 L 555.36 166.98 L 555.37 156.84 L 555.53 166.98 L 555.68 159.18 L 555.73 166.98 L 555.79 159.99 L 555.89 166.98 L 556 161.64 L 556.1 166.98 L 556.2 163.13 L 556.26 166.98 L 556.33 164.09 L 556.49 166.98 L 556.65 166.55 L 556.71 166.98 L 558.89 166.98 L 558.92 165.59 L 559.08 166.98 L 559.24 157.67 L 559.29 166.98 L 559.34 155.48 L 559.46 166.98 L 559.57 151.07 L 559.65 166.98 L 559.73 148.38 L 559.82 147.05 L 559.86 166.98 L 559.89 146.12 L 560.03 166.98 L 560.16 143.96 L 560.28 166.98 L 560.3 143.96 L 560.41 166.98 L 560.52 136.29 L 560.53 166.98 L 560.54 136.55 L 560.66 166.98 L 560.77 139.67 L 560.87 166.98 L 560.88 139.68 L 561.03 166.98 L 561.19 139.68 L 561.24 166.98 L 561.25 139.82 L 561.38 166.98 L 561.51 144.84 L 561.62 166.98 L 561.72 148.87 L 561.78 166.98 L 561.84 151 L 562 166.98 L 562.16 157.16 L 562.18 166.98 L 562.2 157.93 L 562.34 166.98 L 562.48 163.33 L 562.68 166.98 L 564.96 166.98 L 565.08 164.53 L 565.19 166.98 L 565.31 162.12 L 565.36 166.98 L 565.4 161.22 L 565.56 166.98 L 565.72 157.91 L 565.79 157.26 L 565.85 166.98 L 565.92 155.91 L 566.04 166.98 L 566.05 155.91 L 566.16 166.98 L 566.26 155.91 L 566.33 166.98 L 566.37 155.91 L 566.45 166.98 L 566.53 155.91 L 566.67 166.98 L 566.7 156.22 L 566.74 156.46 L 566.88 166.98 L 567.02 158 L 567.12 166.98 L 567.22 159.09 L 567.28 166.98 L 567.34 159.79 L 567.51 166.98 L 567.67 161.58 L 567.68 166.98 L 567.69 161.72 L 567.84 166.98 L 567.99 163.37 L 568.08 166.98 L 568.17 164.35 L 568.24 166.98 L 568.32 165.16 L 568.48 166.98 L 569.13 166.98 L 570.86 166.98 L 570.91 165.87 L 571.07 166.98 L 571.23 162.47 L 571.26 166.98 L 571.28 161.97 L 571.42 166.98 L 571.56 159.15 L 571.66 166.98 L 571.76 157.17 L 571.82 166.98 L 571.88 155.97 L 572.04 166.98 L 572.2 153.07 L 572.22 152.96 L 572.28 166.98 L 572.33 152.96 L 572.43 166.98 L 572.53 152.96 L 572.64 166.98 L 572.71 152.96 L 572.77 166.98 L 572.85 152.96 L 572.9 166.98 L 572.94 152.96 L 573.06 166.98 L 573.18 154.65 L 573.18 166.98 L 573.18 154.71 L 573.34 166.98 L 573.5 157.26 L 573.58 166.98 L 573.66 158.61 L 573.74 166.98 L 573.82 160 L 573.98 166.98 L 574.14 162.72 L 574.14 166.98 L 574.15 162.83 L 574.31 166.98 L 574.47 165.71 L 574.61 166.98 L 576.92 166.98 L 577.06 165.39 L 577.16 166.98 L 577.25 164.38 L 577.32 166.98 L 577.39 163.62 L 577.55 166.98 L 577.71 161.85 L 577.72 166.98 L 577.72 161.79 L 577.88 166.98 L 578.04 160.09 L 578.12 166.98 L 578.2 159.19 L 578.27 166.98 L 578.36 158.43 L 578.4 166.98 L 578.45 158.43 L 578.56 166.98 L 578.68 158.43 L 578.69 166.98 L 578.7 158.43 L 578.83 166.98 L 578.95 158.43 L 579.03 166.98 L 579.06 158.43 L 579.11 166.98 L 579.15 158.95 L 579.24 166.98 L 579.33 159.96 L 579.48 166.98 L 579.63 161.62 L 579.64 166.98 L 579.66 161.78 L 579.82 166.98 L 579.98 163.6 L 580.04 166.98 L 580.1 164.3 L 580.2 166.98 L 580.3 165.42 L 580.44 166.98 L 582.82 166.98 L 582.9 165.79 L 583.06 166.98 L 583.22 163.36 L 583.22 166.98 L 583.22 163.33 L 583.38 166.98 L 583.54 160.89 L 583.62 166.98 L 583.69 159.76 L 583.77 166.98 L 583.87 158.5 L 584.02 166.98 L 584.17 156.31 L 584.18 166.98 L 584.19 156.14 L 584.33 166.98 L 584.46 154.29 L 584.54 166.98 L 584.57 154.29 L 584.61 166.98 L 584.64 154.29 L 584.73 166.98 L 584.84 154.29 L 584.96 166.98 L 585.07 154.29 L 585.17 166.98 L 585.18 154.29 L 585.33 166.98 L 585.49 156.99 L 585.54 166.98 L 585.6 157.99 L 585.7 166.98 L 585.81 159.99 L 585.94 166.98 L 586.07 162.44 L 586.1 166.98 L 586.14 163.04 L 586.3 166.98 L 586.46 166.13 L 586.55 166.98 L 588.72 166.98 L 588.73 166.84 L 588.89 166.98 L 589.05 164.57 L 589.12 166.98 L 589.18 163.64 L 589.28 166.98 L 589.38 162.3 L 589.52 166.98 L 589.66 160.3 L 589.68 166.98 L 589.7 160.03 L 589.86 166.98 L 590.02 157.76 L 590.08 166.98 L 590.14 156.96 L 590.23 166.98 L 590.35 155.62 L 590.39 166.98 L 590.44 155.62 L 590.52 166.98 L 590.61 155.62 L 590.68 166.98 L 590.69 155.62 L 590.81 166.98 L 590.94 155.62 L 591.07 166.98 L 591.09 155.93 L 591.2 166.98 L 591.32 157.72 L 591.44 166.98 L 591.56 159.61 L 591.6 166.98 L 591.64 160.23 L 591.81 166.98 L 591.97 162.73 L 592 166.98 L 592.04 163.29 L 592.17 166.98 L 592.29 165.24 L 592.4 166.98 L 594.78 166.98 L 594.88 161.71 L 595.01 166.98 L 595.15 155.66 L 595.18 166.98 L 595.21 154.35 L 595.37 166.98 L 595.53 148.65 L 595.62 147.74 L 595.67 166.98 L 595.73 147.74 L 595.79 166.98 L 595.86 147.67 L 595.92 166.98 L 595.98 141.33 L 596.13 166.98 L 596.23 147.74 L 596.29 166.98 L 596.34 147.74 L 596.42 166.98 L 596.5 148.46 L 596.55 148.75 L 596.69 166.98 L 596.83 150.68 L 596.89 166.98 L 596.95 151.38 L 597.02 152.08 L 597.09 166.98 L 597.15 153.41 L 597.31 166.98 L 597.48 156.5 L 597.48 166.98 L 597.49 156.64 L 597.64 166.98 L 597.8 159.85 L 597.88 166.98 L 597.96 161.59 L 598.04 166.98 L 598.12 163.3 L 598.28 166.98 L 598.43 166.4 L 598.47 166.98 L 598.48 166.97 L 600.68 166.98 L 600.72 164.94 L 600.88 166.98 L 601.04 156.22 L 601.06 166.98 L 601.07 155.37 L 601.17 166.98 L 601.27 151.14 L 601.37 166.98 L 601.38 151.14 L 601.44 166.98 L 601.5 151.14 L 601.57 166.98 L 601.63 149.79 L 601.69 151.14 L 601.79 166.98 L 601.88 151.14 L 602 166.98 L 602.01 151.21 L 602.17 166.98 L 602.34 153.14 L 602.35 166.98 L 602.36 153.32 L 602.51 166.98 L 602.66 155.43 L 602.73 166.98 L 602.79 156.42 L 602.89 166.98 L 602.98 157.89 L 603.1 166.98 L 603.22 159.77 L 603.26 166.98 L 603.31 160.47 L 603.47 166.98 L 603.63 163.15 L 603.64 166.98 L 603.65 163.31 L 603.8 166.98 L 603.96 165.31 L 604.02 166.98 L 604.08 165.73 L 604.18 166.98 L 604.28 166.4 L 604.45 166.98 L 606.74 166.98 L 606.87 165.13 L 606.98 166.98 L 607.09 163.58 L 607.14 166.98 L 607.2 162.82 L 607.36 166.98 L 607.52 160.52 L 607.54 166.98 L 607.56 160.19 L 607.7 166.98 L 607.84 158.21 L 607.94 166.98 L 608.04 156.81 L 608.16 166.98 L 608.17 156.81 L 608.28 166.98 L 608.4 156.81 L 608.5 166.98 L 608.52 156.81 L 608.58 166.98 L 608.65 156.81 L 608.79 166.98 L 608.82 157.15 L 608.9 166.98 L 608.99 158.23 L 609.07 166.98 L 609.14 159.13 L 609.3 166.98 L 609.46 161.12 L 609.47 166.98 L 609.47 161.15 L 609.63 166.98 L 609.79 163.1 L 609.87 166.98 L 609.94 164.06 L 610.03 166.98 L 610.11 165.08 L 610.27 166.98 L 612.64 166.98 L 612.7 164.75 L 612.87 166.98 L 613.03 159.05 L 613.03 166.98 L 613.04 158.86 L 613.2 166.98 L 613.35 153.8 L 613.44 152.6 L 613.47 166.98 L 613.55 152.6 L 613.61 166.98 L 613.68 152.6 L 613.74 166.98 L 613.8 152.6 L 613.88 166.98 L 614 152.6 L 614.11 166.98 L 614.16 152.6 L 614.24 166.98 L 614.32 153.49 L 614.37 166.98 L 614.41 154.04 L 614.53 166.98 L 614.65 155.54 L 614.76 166.98 L 614.87 157.05 L 614.92 166.98 L 614.97 157.72 L 615.13 166.98 L 615.3 159.99 L 615.31 166.98 L 615.33 160.25 L 615.48 166.98 L 615.62 162.18 L 615.73 166.98 L 615.79 162.97 L 615.87 166.98 L 615.94 164 L 616.1 166.98 L 616.25 166.03 L 616.33 166.98 L 618.7 166.98 L 618.86 163.27 L 618.94 166.98 L 619.03 161.36 L 619.1 166.98 L 619.18 159.59 L 619.34 166.98 L 619.5 156.2 L 619.5 166.98 L 619.51 156.13 L 619.67 166.98 L 619.83 152.98 L 619.9 166.98 L 620.03 151.26 L 620.09 166.98 L 620.16 150.27 L 620.25 166.98 L 620.35 149.09 L 620.47 166.98 L 620.48 149.09 L 620.6 166.98 L 620.71 143.13 L 620.87 166.98 L 620.96 149.09 L 621.1 166.98 L 621.13 149.47 L 621.27 166.98 L 621.4 152.49 L 621.43 166.98 L 621.45 153.09 L 621.61 166.98 L 621.78 157.62 L 621.83 166.98 L 621.88 159.22 L 621.99 166.98 L 622.1 162.68 L 622.23 166.98 L 622.42 166.98 L 622.42 166.98" clip-path="url(#p4f396495b8)" style="fill: none; stroke: #1f77b4; stroke-width: 1.75; stroke-linecap: square"/></g><g id="patch_3"><path d="M 90.36 171 L 90.36 86.76" style="fill: none; stroke: #000000; stroke-width: 0.8; stroke-linejoin: miter; stroke-linecap: square"/></g><g id="patch_4"><path d="M 648.36 171 L 648.36 86.76" style="fill: none; stroke: #000000; stroke-width: 0.8; stroke-linejoin: miter; stroke-linecap: square"/></g><g id="patch_5"><path d="M 90.36 171 L 648.36 171" style="fill: none; stroke: #000000; stroke-width: 0.8; stroke-linejoin: miter; stroke-linecap: square"/></g><g id="patch_6"><path d="M 90.36 86.76 L 648.36 86.76" style="fill: none; stroke: #000000; stroke-width: 0.8; stroke-linejoin: miter; stroke-linecap: square"/></g><g id="text_16"><text style="font-size: 12px; font-family: 'DejaVu Sans', 'Liberation Sans', sans-serif; text-anchor: middle; letter-spacing: 0.028px" x="369" y="80.4" transform="rotate(-0 369 80.4)">prsn, lev=0, 20150101T1200 to 20991231T1200</text></g></g><g id="axes_2"><g id="patch_7"><path d="M 90 272.11 L 648 272.11 L 648 187.7 L 90 187.7 z" style="fill: #ffffff"/></g><g id="matplotlib.axis_3"><g id="xtick_10"><g id="line2d_15"><g><use href="#m1504cfccaf" x="145.8" y="272.52" style="stroke: #000000; stroke-width: 0.8"/></g></g><g id="text_17"><g transform="translate(0 0.9)"><text style="font-size: 10px; font-family: 'DejaVu Sans', 'Liberation Sans', sans-serif" transform="translate(122.111965 298.415785) rotate(-30)">2020</text></g></g></g><g id="xtick_11"><g id="line2d_16"><g><use href="#m1504cfccaf" x="205.56" y="272.52" style="stroke: #000000; stroke-width: 0.8"/></g></g><g id="text_18"><g transform="translate(0 0.9)"><text style="font-size: 10px; font-family: 'DejaVu Sans', 'Liberation Sans', sans-serif" transform="translate(181.801682 298.415785) rotate(-30)">2030</text></g></g></g><g id="xtick_12"><g id="line2d_17"><g><use href="#m1504cfccaf" x="264.6" y="272.52" style="stroke: #000000; stroke-width: 0.8"/></g></g><g id="text_19"><g transform="translate(0 0.9)"><text style="font-size: 10px; font-family: 'DejaVu Sans', 'Liberation Sans', sans-serif" transform="translate(241.475059 298.415785) rotate(-30)">2040</text></g></g></g><g id="xtick_13"><g id="line2d_18"><g><use href="#m1504cfccaf" x="324.36" y="272.52" style="stroke: #000000; stroke-width: 0.8"/></g></g><g id="text_20"><g transform="translate(0.18 0.9)"><text style="font-size: 10px; font-family: 'DejaVu Sans', 'Liberation Sans', sans-serif" transform="translate(301.164777 298.415785) rotate(-30)">2050</text></g></g></g><g id="xtick_14"><g id="line2d_19"><g><use href="#m1504cfccaf" x="384.12" y="272.52" style="stroke: #000000; stroke-width: 0.8"/></g></g><g id="text_21"><g transform="translate(-0.36 0.9)"><text style="font-size: 10px; font-family: 'DejaVu Sans', 'Liberation Sans', sans-serif" transform="translate(360.838154 298.415785) rotate(-30)">2060</text></g></g></g><g id="xtick_15"><g id="line2d_20"><g><use href="#m1504cfccaf" x="443.88" y="272.52" style="stroke: #000000; stroke-width: 0.8"/></g></g><g id="text_22"><g transform="translate(-0.36 0.9)"><text style="font-size: 10px; font-family: 'DejaVu Sans', 'Liberation Sans', sans-serif" transform="translate(420.527871 298.415785) rotate(-30)">2070</text></g></g></g><g id="xtick_16"><g id="line2d_21"><g><use href="#m1504cfccaf" x="503.64" y="272.52" style="stroke: #000000; stroke-width: 0.8"/></g></g><g id="text_23"><g transform="translate(-0.36 0.9)"><text style="font-size: 10px; font-family: 'DejaVu Sans', 'Liberation Sans', sans-serif" transform="translate(480.201249 298.415785) rotate(-30)">2080</text></g></g></g><g id="xtick_17"><g id="line2d_22"><g><use href="#m1504cfccaf" x="563.4" y="272.52" style="stroke: #000000; stroke-width: 0.8"/></g></g><g id="text_24"><g transform="translate(-0.18 0.9)"><text style="font-size: 10px; font-family: 'DejaVu Sans', 'Liberation Sans', sans-serif" transform="translate(539.890966 298.415785) rotate(-30)">2090</text></g></g></g><g id="xtick_18"><g id="line2d_23"><g><use href="#m1504cfccaf" x="623.16" y="272.52" style="stroke: #000000; stroke-width: 0.8"/></g></g><g id="text_25"><g transform="translate(-0.18 0.9)"><text style="font-size: 10px; font-family: 'DejaVu Sans', 'Liberation Sans', sans-serif" transform="translate(599.564343 298.415785) rotate(-30)">2100</text></g></g></g></g><g id="matplotlib.axis_4"><g id="ytick_5"><g id="line2d_24"><g><use href="#m5d545ce8f8" x="90.36" y="268.92" style="stroke: #000000; stroke-width: 0.8"/></g></g><g id="text_26"><g transform="translate(-0.72 0)"><text style="font-size: 10px; font-family: 'DejaVu Sans', 'Liberation Sans', sans-serif; text-anchor: end" x="83" y="272.072573" transform="rotate(-0 83 272.072573)">−0.05</text></g></g></g><g id="ytick_6"><g id="line2d_25"><g><use href="#m5d545ce8f8" x="90.36" y="230.04" style="stroke: #000000; stroke-width: 0.8"/></g></g><g id="text_27"><g transform="translate(0.36 0)"><text style="font-size: 10px; font-family: 'DejaVu Sans', 'Liberation Sans', sans-serif; text-anchor: end" x="83" y="233.702667" transform="rotate(-0 83 233.702667)">0.00</text></g></g></g><g id="ytick_7"><g id="line2d_26"><g><use href="#m5d545ce8f8" x="90.36" y="191.88" style="stroke: #000000; stroke-width: 0.8"/></g></g><g id="text_28"><g transform="translate(0.36 0.72)"><text style="font-size: 10px; font-family: 'DejaVu Sans', 'Liberation Sans', sans-serif; text-anchor: end" x="83" y="195.332761" transform="rotate(-0 83 195.332761)">0.05</text></g></g></g><g id="text_29"><g transform="translate(0 1.08)"><text style="font-size: 10px; font-family: 'DejaVu Sans', 'Liberation Sans', sans-serif; text-anchor: middle" x="46.275" y="229.903448" transform="rotate(-90 46.275 229.903448)">fieldmin</text></g></g></g><g id="line2d_27"><path d="M 115.36 229.68 L 622.64 229.68" clip-path="url(#p700bc494e0)" style="fill: none; stroke: #1f77b4; stroke-width: 1.5; stroke-linecap: square"/></g><g id="patch_8"><path d="M 90.36 272.52 L 90.36 188.28" style="fill: none; stroke: #000000; stroke-width: 0.8; stroke-linejoin: miter; stroke-linecap: square"/></g><g id="patch_9"><path d="M 648.36 272.52 L 648.36 188.28" style="fill: none; stroke: #000000; stroke-width: 0.8; stroke-linejoin: miter; stroke-linecap: square"/></g><g id="patch_10"><path d="M 90.36 272.52 L 648.36 272.52" style="fill: none; stroke: #000000; stroke-width: 0.8; stroke-linejoin: miter; stroke-linecap: square"/></g><g id="patch_11"><path d="M 90.36 188.28 L 648.36 188.28" style="fill: none; stroke: #000000; stroke-width: 0.8; stroke-linejoin: miter; stroke-linecap: square"/></g></g><g id="axes_3"><g id="patch_12"><path d="M 90 373.41 L 648 373.41 L 648 288.99 L 90 288.99 z" style="fill: #ffffff"/></g><g id="matplotlib.axis_5"><g id="xtick_19"><g id="line2d_28"><g><use href="#m1504cfccaf" x="145.8" y="374.04" style="stroke: #000000; stroke-width: 0.8"/></g></g><g id="text_30"><g transform="translate(0 0.9)"><text style="font-size: 10px; font-family: 'DejaVu Sans', 'Liberation Sans', sans-serif" transform="translate(122.111965 399.712336) rotate(-30)">2020</text></g></g></g><g id="xtick_20"><g id="line2d_29"><g><use href="#m1504cfccaf" x="205.56" y="374.04" style="stroke: #000000; stroke-width: 0.8"/></g></g><g id="text_31"><g transform="translate(0 0.9)"><text style="font-size: 10px; font-family: 'DejaVu Sans', 'Liberation Sans', sans-serif" transform="translate(181.801682 399.712336) rotate(-30)">2030</text></g></g></g><g id="xtick_21"><g id="line2d_30"><g><use href="#m1504cfccaf" x="264.6" y="374.04" style="stroke: #000000; stroke-width: 0.8"/></g></g><g id="text_32"><g transform="translate(0 0.9)"><text style="font-size: 10px; font-family: 'DejaVu Sans', 'Liberation Sans', sans-serif" transform="translate(241.475059 399.712336) rotate(-30)">2040</text></g></g></g><g id="xtick_22"><g id="line2d_31"><g><use href="#m1504cfccaf" x="324.36" y="374.04" style="stroke: #000000; stroke-width: 0.8"/></g></g><g id="text_33"><g transform="translate(0.18 0.9)"><text style="font-size: 10px; font-family: 'DejaVu Sans', 'Liberation Sans', sans-serif" transform="translate(301.164777 399.712336) rotate(-30)">2050</text></g></g></g><g id="xtick_23"><g id="line2d_32"><g><use href="#m1504cfccaf" x="384.12" y="374.04" style="stroke: #000000; stroke-width: 0.8"/></g></g><g id="text_34"><g transform="translate(-0.36 0.9)"><text style="font-size: 10px; font-family: 'DejaVu Sans', 'Liberation Sans', sans-serif" transform="translate(360.838154 399.712336) rotate(-30)">2060</text></g></g></g><g id="xtick_24"><g id="line2d_33"><g><use href="#m1504cfccaf" x="443.88" y="374.04" style="stroke: #000000; stroke-width: 0.8"/></g></g><g id="text_35"><g transform="translate(-0.36 0.9)"><text style="font-size: 10px; font-family: 'DejaVu Sans', 'Liberation Sans', sans-serif" transform="translate(420.527871 399.712336) rotate(-30)">2070</text></g></g></g><g id="xtick_25"><g id="line2d_34"><g><use href="#m1504cfccaf" x="503.64" y="374.04" style="stroke: #000000; stroke-width: 0.8"/></g></g><g id="text_36"><g transform="translate(-0.36 0.9)"><text style="font-size: 10px; font-family: 'DejaVu Sans', 'Liberation Sans', sans-serif" transform="translate(480.201249 399.712336) rotate(-30)">2080</text></g></g></g><g id="xtick_26"><g id="line2d_35"><g><use href="#m1504cfccaf" x="563.4" y="374.04" style="stroke: #000000; stroke-width: 0.8"/></g></g><g id="text_37"><g transform="translate(-0.18 0.9)"><text style="font-size: 10px; font-family: 'DejaVu Sans', 'Liberation Sans', sans-serif" transform="translate(539.890966 399.712336) rotate(-30)">2090</text></g></g></g><g id="xtick_27"><g id="line2d_36"><g><use href="#m1504cfccaf" x="623.16" y="374.04" style="stroke: #000000; stroke-width: 0.8"/></g></g><g id="text_38"><g transform="translate(-0.18 0.9)"><text style="font-size: 10px; font-family: 'DejaVu Sans', 'Liberation Sans', sans-serif" transform="translate(599.564343 399.712336) rotate(-30)">2100</text></g></g></g></g><g id="matplotlib.axis_6"><g id="ytick_8"><g id="line2d_37"><g><use href="#m5d545ce8f8" x="90.36" y="369.72" style="stroke: #000000; stroke-width: 0.8"/></g></g><g id="text_39"><text style="font-size: 10px; font-family: 'DejaVu Sans', 'Liberation Sans', sans-serif; text-anchor: end" x="83" y="373.369125" transform="rotate(-0 83 373.369125)">0.0000</text></g></g><g id="ytick_9"><g id="line2d_38"><g><use href="#m5d545ce8f8" x="90.36" y="344.52" style="stroke: #000000; stroke-width: 0.8"/></g></g><g id="text_40"><text style="font-size: 10px; font-family: 'DejaVu Sans', 'Liberation Sans', sans-serif; text-anchor: end" x="83" y="348.208531" transform="rotate(-0 83 348.208531)">0.0005</text></g></g><g id="ytick_10"><g id="line2d_39"><g><use href="#m5d545ce8f8" x="90.36" y="319.32" style="stroke: #000000; stroke-width: 0.8"/></g></g><g id="text_41"><g transform="translate(0 -0.54)"><text style="font-size: 10px; font-family: 'DejaVu Sans', 'Liberation Sans', sans-serif; text-anchor: end" x="83" y="323.047937" transform="rotate(-0 83 323.047937)">0.0010</text></g></g></g><g id="ytick_11"><g id="line2d_40"><g><use href="#m5d545ce8f8" x="90.36" y="294.12" style="stroke: #000000; stroke-width: 0.8"/></g></g><g id="text_42"><g transform="translate(0 -0.72)"><text style="font-size: 10px; font-family: 'DejaVu Sans', 'Liberation Sans', sans-serif; text-anchor: end" x="83" y="297.887342" transform="rotate(-0 83 297.887342)">0.0015</text></g></g></g><g id="text_43"><g transform="translate(0 1.008)"><text style="font-size: 10px; font-family: 'DejaVu Sans', 'Liberation Sans', sans-serif; text-anchor: middle" x="41.929688" y="331.2" transform="rotate(-90 41.929688 331.2)">fieldmax</text></g></g></g><g id="line2d_41"><path d="M 115.36 360.17 L 115.41 369.57 L 115.45 359.1 L 115.57 369.57 L 115.69 357.49 L 115.85 369.57 L 116.01 355.29 L 116.17 369.57 L 116.34 353.08 L 116.5 369.57 L 116.66 350.87 L 116.82 369.57 L 116.98 348.66 L 117.15 369.57 L 117.31 346.45 L 117.37 369.29 L 117.43 345.6 L 117.53 369.06 L 117.63 338.33 L 117.79 368.71 L 117.96 326.52 L 118.12 368.29 L 118.28 314.71 L 118.4 368.29 L 118.53 305.58 L 118.57 368.29 L 118.6 306.88 L 118.77 368.29 L 118.93 312.64 L 119.09 368.46 L 119.25 318.41 L 119.41 368.91 L 119.58 324.17 L 119.65 369.23 L 119.72 326.7 L 119.81 369.45 L 119.9 340.21 L 120.06 369.57 L 120.22 364.35 L 120.23 369.57 L 120.24 365.58 L 120.39 369.57 L 120.55 365.58 L 120.71 369.57 L 120.87 365.58 L 121.03 369.57 L 121.2 365.58 L 121.36 369.57 L 121.52 365.58 L 121.68 369.57 L 121.84 365.58 L 122.01 369.57 L 122.17 365.58 L 122.28 369.57 L 122.4 365.58 L 122.45 369.57 L 122.49 363.71 L 122.65 369.57 L 122.82 357.1 L 122.98 369.57 L 123.14 350.49 L 123.3 369.57 L 123.46 343.88 L 123.6 369.53 L 123.73 338.4 L 123.76 369.4 L 123.79 338.07 L 123.95 369.24 L 124.11 336.11 L 124.27 368.98 L 124.44 334.15 L 124.6 368.8 L 124.76 332.2 L 124.84 368.8 L 124.92 331.23 L 125 368.8 L 125.08 331.23 L 125.25 368.8 L 125.41 331.22 L 125.57 368.98 L 125.73 331.22 L 125.89 369.25 L 126.06 331.21 L 126.22 369.51 L 126.38 331.2 L 126.51 369.57 L 126.65 331.2 L 126.71 369.57 L 126.72 365.58 L 126.87 369.57 L 127.03 365.58 L 127.19 369.57 L 127.35 365.58 L 127.51 369.57 L 127.68 365.58 L 127.84 369.57 L 128 365.58 L 128.16 369.57 L 128.32 365.58 L 128.49 369.57 L 128.65 365.58 L 128.76 369.49 L 128.88 365.58 L 128.93 369.33 L 128.97 362.33 L 129.13 369.13 L 129.3 350.83 L 129.46 368.82 L 129.62 339.32 L 129.78 368.66 L 129.94 327.81 L 130 368.66 L 130.05 324.03 L 130.16 368.66 L 130.27 324.81 L 130.43 368.66 L 130.59 325.97 L 130.75 368.92 L 130.92 327.14 L 131.08 369.24 L 131.24 328.3 L 131.4 369.55 L 131.56 329.46 L 131.73 369.57 L 131.89 330.62 L 131.97 369.57 L 132.05 331.2 L 132.13 369.57 L 132.21 335.92 L 132.37 369.57 L 132.54 345.28 L 132.7 369.57 L 132.86 354.64 L 132.94 369.57 L 133.02 359.28 L 133.1 369.57 L 133.18 359.28 L 133.35 369.57 L 133.51 359.28 L 133.67 369.57 L 133.83 359.28 L 133.99 369.57 L 134.16 359.28 L 134.32 369.57 L 134.48 359.28 L 134.64 369.57 L 134.8 359.28 L 134.97 369.57 L 135.13 359.28 L 135.15 369.57 L 135.18 359.28 L 135.32 369.45 L 135.45 348.42 L 135.53 369.29 L 135.61 342 L 135.69 369.17 L 135.78 340.6 L 135.94 368.98 L 136.1 337.81 L 136.26 368.86 L 136.42 335.02 L 136.48 368.86 L 136.53 334.11 L 136.64 368.86 L 136.75 334.36 L 136.91 368.86 L 137.07 334.74 L 137.23 369.07 L 137.4 335.12 L 137.56 369.31 L 137.72 335.49 L 137.81 369.5 L 137.9 335.7 L 137.97 369.57 L 138.04 337.34 L 138.21 369.57 L 138.37 340.98 L 138.49 369.57 L 138.62 343.8 L 138.65 369.57 L 138.69 345.72 L 138.85 369.57 L 139.02 354.22 L 139.08 369.57 L 139.14 357.48 L 139.24 369.57 L 139.34 357.48 L 139.5 369.57 L 139.66 357.48 L 139.83 369.57 L 139.99 357.48 L 140.15 369.57 L 140.31 357.48 L 140.47 369.57 L 140.64 357.48 L 140.8 369.57 L 140.96 357.48 L 141.12 369.57 L 141.28 357.48 L 141.29 369.57 L 141.3 357.48 L 141.45 369.57 L 141.61 344.79 L 141.77 369.57 L 141.93 331.42 L 142.09 369.57 L 142.26 318.05 L 142.31 369.41 L 142.36 313.65 L 142.47 369.21 L 142.58 313.08 L 142.74 368.86 L 142.9 312.23 L 143.07 368.46 L 143.23 311.38 L 143.39 368.39 L 143.55 310.53 L 143.55 368.39 L 143.55 310.63 L 143.71 368.39 L 143.88 332.41 L 143.95 368.39 L 144.02 342 L 144.11 368.55 L 144.2 351.85 L 144.23 368.71 L 144.27 355.68 L 144.4 368.91 L 144.52 355.68 L 144.69 369.28 L 144.85 355.68 L 145.01 369.57 L 145.17 355.68 L 145.33 369.57 L 145.5 355.68 L 145.66 369.57 L 145.82 355.68 L 145.98 369.57 L 146.14 355.68 L 146.29 369.57 L 146.43 355.68 L 146.45 369.57 L 146.47 354.95 L 146.63 369.57 L 146.79 348.64 L 146.95 369.44 L 147.12 342.32 L 147.12 369.21 L 147.13 342 L 147.29 368.98 L 147.44 328.27 L 147.6 368.55 L 147.76 313.81 L 147.93 368.27 L 148.09 299.34 L 148.16 368.27 L 148.23 292.98 L 148.32 368.27 L 148.41 309.52 L 148.5 368.27 L 148.59 325.8 L 148.66 368.27 L 148.74 325.9 L 148.9 368.6 L 149.06 326.13 L 149.22 369.05 L 149.38 326.36 L 149.55 369.5 L 149.71 326.59 L 149.79 369.57 L 149.87 326.7 L 149.95 369.57 L 150.03 335.54 L 150.19 369.57 L 150.36 353.07 L 150.46 369.57 L 150.57 364.68 L 150.62 369.57 L 150.68 364.68 L 150.84 369.57 L 151 364.68 L 151.17 369.57 L 151.33 364.68 L 151.49 369.57 L 151.65 364.68 L 151.81 369.57 L 151.98 364.68 L 152.14 369.57 L 152.3 364.68 L 152.46 369.57 L 152.62 364.68 L 152.68 369.57 L 152.73 364.68 L 152.84 369.57 L 152.95 358.31 L 153.11 369.57 L 153.27 348.82 L 153.43 369.57 L 153.6 339.33 L 153.6 369.57 L 153.61 338.85 L 153.77 369.36 L 153.92 328.64 L 154.08 368.92 L 154.24 317.88 L 154.41 368.47 L 154.57 307.13 L 154.73 368.27 L 154.89 296.37 L 154.94 368.27 L 154.98 293.43 L 155.1 368.27 L 155.22 297.26 L 155.33 368.27 L 155.45 301.05 L 155.49 368.39 L 155.54 305.11 L 155.7 368.67 L 155.86 319.49 L 156.02 369.11 L 156.17 333 L 156.18 369.33 L 156.19 334.39 L 156.35 369.57 L 156.51 357.47 L 156.56 369.57 L 156.6 363.78 L 156.72 369.57 L 156.84 363.78 L 157 369.57 L 157.16 363.78 L 157.32 369.57 L 157.48 363.78 L 157.65 369.57 L 157.81 363.78 L 157.97 369.57 L 158.13 363.78 L 158.29 369.57 L 158.46 363.78 L 158.61 369.57 L 158.76 363.78 L 158.81 369.57 L 158.83 360 L 158.97 369.57 L 159.1 357.18 L 159.27 369.57 L 159.43 353.81 L 159.59 369.57 L 159.75 350.44 L 159.91 369.57 L 160.08 347.07 L 160.24 369.57 L 160.4 343.7 L 160.56 369.42 L 160.72 340.33 L 160.89 369.18 L 161.05 336.96 L 161.06 369.05 L 161.08 336.6 L 161.23 368.93 L 161.37 335.81 L 161.53 368.88 L 161.7 334.92 L 161.71 368.88 L 161.73 334.83 L 161.87 368.88 L 162.02 338.55 L 162.15 368.88 L 162.29 342 L 162.32 368.99 L 162.34 345.14 L 162.51 369.13 L 162.67 363.5 L 162.69 369.27 L 162.72 366.48 L 162.86 369.39 L 162.99 366.48 L 163.15 369.57 L 163.32 366.48 L 163.48 369.57 L 163.64 366.48 L 163.8 369.57 L 163.96 366.48 L 164.13 369.57 L 164.29 366.48 L 164.45 369.57 L 164.61 366.48 L 164.75 369.57 L 164.88 366.48 L 164.91 369.57 L 164.94 365.23 L 165.1 369.57 L 165.26 357.91 L 165.42 369.57 L 165.58 350.59 L 165.75 369.57 L 165.91 343.28 L 166.07 369.57 L 166.23 335.96 L 166.36 369.57 L 166.48 330.3 L 166.52 369.57 L 166.56 328.93 L 166.72 369.57 L 166.88 322.88 L 167.04 369.17 L 167.2 316.84 L 167.37 368.72 L 167.53 310.79 L 167.69 368.27 L 167.85 304.74 L 167.99 368.27 L 168.12 299.73 L 168.15 368.27 L 168.18 302.58 L 168.34 368.27 L 168.5 319.21 L 168.63 368.39 L 168.77 333 L 168.8 368.61 L 168.82 338.98 L 168.92 368.79 L 169.02 360.18 L 169.08 369.01 L 169.15 360.18 L 169.31 369.32 L 169.47 360.18 L 169.63 369.57 L 169.8 360.18 L 169.96 369.57 L 170.12 360.18 L 170.28 369.57 L 170.44 360.18 L 170.61 369.57 L 170.77 360.18 L 170.93 369.57 L 171.09 360.18 L 171.14 369.39 L 171.18 360.18 L 171.3 369.2 L 171.42 350.95 L 171.58 368.87 L 171.74 338.25 L 171.9 368.48 L 172.06 325.54 L 172.21 368.46 L 172.35 314.31 L 172.37 368.46 L 172.39 314.67 L 172.55 368.46 L 172.71 317.77 L 172.87 368.57 L 173.04 320.87 L 173.15 368.9 L 173.27 323.1 L 173.31 369.09 L 173.36 325.17 L 173.52 369.34 L 173.68 332.48 L 173.85 369.57 L 174.01 339.8 L 174.17 369.57 L 174.33 347.12 L 174.49 369.57 L 174.66 354.43 L 174.76 369.57 L 174.87 359.28 L 174.92 369.57 L 174.98 359.28 L 175.14 369.57 L 175.3 359.28 L 175.47 369.57 L 175.63 359.28 L 175.79 369.57 L 175.95 359.28 L 176.11 369.57 L 176.28 359.28 L 176.44 369.57 L 176.6 359.28 L 176.76 369.57 L 176.92 359.28 L 176.98 369.57 L 177.03 359.28 L 177.14 369.57 L 177.25 354.3 L 177.41 369.57 L 177.57 346.87 L 177.73 369.57 L 177.9 339.45 L 178.06 369.51 L 178.22 332.03 L 178.34 369.18 L 178.45 326.7 L 178.5 369 L 178.54 325.58 L 178.71 368.76 L 178.87 321.62 L 179.03 368.49 L 179.19 317.66 L 179.28 368.49 L 179.37 315.48 L 179.44 368.49 L 179.52 319.23 L 179.68 368.49 L 179.84 327.59 L 180 368.72 L 180.16 335.94 L 180.32 369.08 L 180.47 343.8 L 180.48 369.27 L 180.49 345.69 L 180.6 369.41 L 180.72 368.28 L 180.77 369.57 L 180.81 368.28 L 180.97 369.57 L 181.14 368.28 L 181.3 369.57 L 181.46 368.28 L 181.62 369.57 L 181.78 368.28 L 181.95 369.57 L 182.11 368.28 L 182.27 369.57 L 182.43 368.28 L 182.59 369.57 L 182.76 368.28 L 182.82 369.57 L 182.88 368.28 L 182.98 369.57 L 183.08 355.11 L 183.2 369.57 L 183.31 339.75 L 183.36 369.53 L 183.4 338.91 L 183.57 369.34 L 183.73 335.93 L 183.89 369.05 L 184.05 332.95 L 184.21 368.75 L 184.38 329.98 L 184.53 368.72 L 184.68 327.18 L 184.69 368.72 L 184.7 327.21 L 184.86 368.72 L 185.02 327.79 L 185.19 368.79 L 185.35 328.37 L 185.38 368.97 L 185.42 328.5 L 185.54 369.11 L 185.67 333.32 L 185.83 369.38 L 186 339.47 L 186.16 369.57 L 186.32 345.6 L 186.32 369.57 L 186.32 345.72 L 186.44 369.57 L 186.57 366.48 L 186.61 369.57 L 186.64 366.48 L 186.81 369.57 L 186.97 366.48 L 187.13 369.57 L 187.29 366.48 L 187.45 369.57 L 187.62 366.48 L 187.78 369.57 L 187.94 366.48 L 188.1 369.57 L 188.26 366.48 L 188.43 369.57 L 188.59 366.48 L 188.66 369.57 L 188.73 366.48 L 188.82 369.57 L 188.91 361.28 L 189.07 369.57 L 189.24 351.99 L 189.4 369.57 L 189.56 342.7 L 189.72 369.31 L 189.88 333.45 L 189.88 369.16 L 189.88 333.44 L 190.05 369.01 L 190.21 331.07 L 190.37 368.71 L 190.53 328.7 L 190.67 368.71 L 190.8 326.73 L 190.83 368.71 L 190.86 327.28 L 191.02 368.71 L 191.18 330.48 L 191.34 368.81 L 191.5 333.68 L 191.67 369.11 L 191.83 336.89 L 191.99 369.41 L 192.15 340.09 L 192.31 369.57 L 192.48 343.29 L 192.55 369.57 L 192.62 344.7 L 192.71 369.57 L 192.8 356.49 L 192.83 369.57 L 192.87 361.08 L 193 369.57 L 193.12 361.08 L 193.29 369.57 L 193.45 361.08 L 193.61 369.57 L 193.77 361.08 L 193.93 369.57 L 194.1 361.08 L 194.26 369.57 L 194.42 361.08 L 194.58 369.57 L 194.74 361.08 L 194.89 369.57 L 195.03 361.08 L 195.05 369.57 L 195.07 360.17 L 195.23 369.57 L 195.39 352.27 L 195.55 369.57 L 195.72 344.37 L 195.88 369.57 L 196.04 336.47 L 196.11 369.34 L 196.18 333 L 196.27 369.15 L 196.36 330.07 L 196.53 368.86 L 196.69 324.85 L 196.85 368.48 L 197.01 319.63 L 197.15 368.48 L 197.28 315.3 L 197.31 368.48 L 197.34 316.49 L 197.5 368.48 L 197.66 323.47 L 197.82 368.61 L 197.98 330.46 L 198 368.82 L 198.02 331.2 L 198.16 369.01 L 198.31 332.07 L 198.39 369.27 L 198.47 332.55 L 198.55 369.46 L 198.63 332.52 L 198.79 369.57 L 198.96 332.46 L 199.12 369.57 L 199.28 332.4 L 199.44 369.57 L 199.6 332.34 L 199.77 369.57 L 199.93 332.29 L 200.09 369.57 L 200.25 332.23 L 200.41 369.57 L 200.58 332.17 L 200.74 369.57 L 200.9 332.11 L 200.93 369.57 L 200.95 332.1 L 201.09 369.57 L 201.22 323.76 L 201.39 369.47 L 201.55 313.81 L 201.56 369.22 L 201.58 312.75 L 201.73 369 L 201.87 309.79 L 202.03 368.57 L 202.2 306.48 L 202.36 368.27 L 202.52 303.17 L 202.6 368.27 L 202.68 301.53 L 202.76 368.27 L 202.84 303.57 L 203.01 368.27 L 203.17 307.61 L 203.33 368.57 L 203.49 311.65 L 203.65 369.02 L 203.82 315.69 L 203.84 369.28 L 203.87 316.35 L 204 369.51 L 204.14 336.08 L 204.3 369.57 L 204.46 359.63 L 204.52 369.57 L 204.57 367.38 L 204.68 369.57 L 204.79 367.38 L 204.95 369.57 L 205.11 367.38 L 205.27 369.57 L 205.44 367.38 L 205.6 369.57 L 205.76 367.38 L 205.92 369.57 L 206.08 367.38 L 206.25 369.39 L 206.41 367.38 L 206.57 369.03 L 206.73 367.38 L 206.73 368.85 L 206.73 367.1 L 206.86 368.7 L 206.98 318.6 L 207.02 368.52 L 207.06 318.39 L 207.22 368.52 L 207.38 317.48 L 207.41 368.52 L 207.45 317.28 L 207.58 368.52 L 207.7 320.7 L 207.87 368.52 L 208.03 325.07 L 208.19 368.87 L 208.35 329.45 L 208.45 369.16 L 208.55 332.1 L 208.61 369.34 L 208.68 333.13 L 208.84 369.57 L 209 335.75 L 209.16 369.57 L 209.32 338.36 L 209.49 369.57 L 209.65 340.98 L 209.68 369.57 L 209.72 341.55 L 209.84 369.57 L 209.97 348.85 L 210.11 369.57 L 210.24 356.58 L 210.27 369.57 L 210.3 356.58 L 210.46 369.57 L 210.62 356.58 L 210.78 369.57 L 210.94 356.58 L 211.11 369.57 L 211.27 356.58 L 211.43 369.57 L 211.59 356.58 L 211.75 369.57 L 211.92 356.58 L 212.08 369.57 L 212.24 356.58 L 212.32 369.57 L 212.4 356.58 L 212.48 369.57 L 212.56 352.54 L 212.73 369.57 L 212.89 344.54 L 213.05 369.39 L 213.21 336.54 L 213.25 369.23 L 213.28 334.8 L 213.41 369.1 L 213.54 333.81 L 213.7 368.86 L 213.86 332.55 L 214.02 368.8 L 214.18 331.29 L 214.19 368.8 L 214.2 331.23 L 214.35 368.8 L 214.51 332.42 L 214.67 368.83 L 214.83 333.69 L 214.97 369.08 L 215.12 334.8 L 215.14 369.22 L 215.16 335.59 L 215.32 369.36 L 215.48 342.39 L 215.52 369.53 L 215.57 344.25 L 215.69 369.57 L 215.8 354.16 L 215.9 369.57 L 216 362.43 L 216.06 369.57 L 216.13 362.43 L 216.29 369.57 L 216.45 362.43 L 216.61 369.57 L 216.78 362.43 L 216.94 369.57 L 217.1 362.43 L 217.26 369.57 L 217.42 362.43 L 217.59 369.57 L 217.75 362.43 L 217.91 369.57 L 218.07 362.43 L 218.12 369.57 L 218.16 362.43 L 218.28 369.57 L 218.4 353.22 L 218.54 369.57 L 218.68 342 L 218.7 369.57 L 218.72 341.77 L 218.88 369.57 L 219.04 339.78 L 219.21 369.49 L 219.37 337.78 L 219.53 369.16 L 219.69 335.79 L 219.77 368.91 L 219.85 334.8 L 219.93 368.75 L 220.02 331.45 L 220.18 368.61 L 220.34 324.8 L 220.42 368.61 L 220.5 321.51 L 220.58 368.61 L 220.66 325.52 L 220.82 368.61 L 220.97 333 L 220.98 368.66 L 220.99 333.02 L 221.15 368.83 L 221.31 333.43 L 221.47 369.16 L 221.64 333.83 L 221.8 369.5 L 221.96 334.24 L 222 369.57 L 222.05 334.35 L 222.17 369.57 L 222.28 338.34 L 222.45 369.57 L 222.61 343.83 L 222.77 369.57 L 222.93 349.33 L 223.07 369.57 L 223.2 353.88 L 223.23 369.57 L 223.26 353.88 L 223.42 369.57 L 223.58 353.88 L 223.74 369.57 L 223.9 353.88 L 224.07 369.57 L 224.23 353.88 L 224.39 369.57 L 224.55 353.88 L 224.71 369.57 L 224.88 353.88 L 225.04 369.57 L 225.2 353.88 L 225.28 369.57 L 225.36 353.88 L 225.44 369.57 L 225.52 339.46 L 225.57 369.57 L 225.61 331.65 L 225.73 369.57 L 225.85 330.57 L 226.01 369.57 L 226.17 329.07 L 226.33 369.39 L 226.5 327.58 L 226.66 369.07 L 226.82 326.09 L 226.98 368.74 L 227.14 324.59 L 227.31 368.64 L 227.47 323.1 L 227.49 368.64 L 227.52 322.86 L 227.66 368.64 L 227.79 328.74 L 227.89 368.64 L 227.99 333 L 228.13 368.82 L 228.15 362.88 L 228.29 368.98 L 228.44 362.88 L 228.6 369.28 L 228.76 362.88 L 228.93 369.57 L 229.09 362.88 L 229.25 369.57 L 229.41 362.88 L 229.57 369.57 L 229.74 362.88 L 229.9 369.57 L 230.06 362.88 L 230.18 369.57 L 230.31 362.88 L 230.35 369.57 L 230.38 360.39 L 230.55 369.57 L 230.71 349.38 L 230.77 369.49 L 230.83 345.15 L 230.93 369.39 L 231.03 344.25 L 231.19 369.23 L 231.36 342.78 L 231.52 369.02 L 231.68 341.32 L 231.84 368.97 L 232 339.85 L 232.01 368.97 L 232.02 339.78 L 232.17 368.97 L 232.33 340.65 L 232.49 369 L 232.65 341.58 L 232.81 369.2 L 232.98 342.5 L 233.14 369.41 L 233.3 343.42 L 233.46 369.57 L 233.62 344.35 L 233.69 369.57 L 233.75 344.7 L 233.85 369.57 L 233.95 364.21 L 233.97 369.57 L 234 369.35 L 234.14 369.57 L 234.27 369.35 L 234.43 369.57 L 234.6 369.35 L 234.76 369.57 L 234.92 369.35 L 235.08 369.57 L 235.24 369.35 L 235.41 369.57 L 235.57 369.35 L 235.73 369.57 L 235.89 369.35 L 236.03 369.57 L 236.16 369.35 L 236.19 369.57 L 236.22 365.59 L 236.38 369.44 L 236.54 343.58 L 236.61 369.23 L 236.68 333.9 L 236.77 369.09 L 236.86 332.7 L 237.03 368.86 L 237.19 330.55 L 237.35 368.73 L 237.51 328.4 L 237.56 368.73 L 237.6 327.81 L 237.72 368.73 L 237.84 331.78 L 237.95 368.73 L 238.07 335.7 L 238.11 368.81 L 238.16 336.22 L 238.32 368.99 L 238.48 338.05 L 238.65 369.28 L 238.81 339.89 L 238.97 369.57 L 239.13 341.73 L 239.27 369.57 L 239.42 343.35 L 239.44 369.57 L 239.46 343.64 L 239.62 369.57 L 239.78 346.13 L 239.94 369.57 L 240.1 348.63 L 240.27 369.57 L 240.43 351.12 L 240.59 369.57 L 240.75 353.61 L 240.89 369.57 L 241.02 355.68 L 241.05 369.57 L 241.08 355.68 L 241.24 369.57 L 241.4 355.68 L 241.56 369.57 L 241.72 355.68 L 241.89 369.57 L 242.05 355.68 L 242.21 369.57 L 242.37 355.68 L 242.53 369.57 L 242.7 355.68 L 242.86 369.57 L 243.02 355.68 L 243.1 369.57 L 243.18 355.68 L 243.25 344.25 L 243.3 369.57 L 243.34 343.3 L 243.51 369.57 L 243.67 339.92 L 243.83 369.57 L 243.99 336.55 L 244.15 369.31 L 244.32 333.17 L 244.32 369.15 L 244.33 333 L 244.49 368.99 L 244.64 330.21 L 244.8 368.69 L 244.96 327.26 L 245.11 368.67 L 245.25 324.66 L 245.27 368.67 L 245.29 325.76 L 245.45 368.67 L 245.61 335.27 L 245.66 368.67 L 245.72 338.4 L 245.83 368.81 L 245.94 341.55 L 246.1 369.07 L 246.26 346.25 L 246.42 369.38 L 246.58 350.95 L 246.6 369.55 L 246.62 351.45 L 246.74 369.57 L 246.87 361.98 L 246.89 369.57 L 246.91 361.98 L 247.07 369.57 L 247.23 361.98 L 247.39 369.57 L 247.56 361.98 L 247.72 369.57 L 247.88 361.98 L 248.04 369.57 L 248.2 361.98 L 248.37 369.57 L 248.53 361.98 L 248.69 369.57 L 248.85 361.98 L 248.94 369.57 L 249.03 361.98 L 249.1 369.57 L 249.18 356.24 L 249.34 369.57 L 249.5 343.44 L 249.66 369.57 L 249.82 330.65 L 249.87 369.57 L 249.91 327.15 L 250.03 369.45 L 250.15 326.38 L 250.31 369.17 L 250.47 325.32 L 250.63 368.85 L 250.8 324.26 L 250.96 368.63 L 251.12 323.2 L 251.2 368.63 L 251.28 322.68 L 251.36 368.63 L 251.44 324.08 L 251.6 368.63 L 251.75 326.7 L 251.76 368.68 L 251.77 329.6 L 251.88 368.8 L 252 364.23 L 252.05 368.97 L 252.09 364.23 L 252.25 369.17 L 252.42 364.23 L 252.58 369.5 L 252.74 364.23 L 252.9 369.57 L 253.06 364.23 L 253.23 369.57 L 253.39 364.23 L 253.55 369.57 L 253.71 364.23 L 253.87 369.57 L 254.04 364.23 L 254.1 369.57 L 254.16 364.23 L 254.26 369.57 L 254.36 358.19 L 254.52 369.57 L 254.68 348.38 L 254.85 369.57 L 255.01 338.57 L 255.07 369.57 L 255.13 334.8 L 255.23 369.57 L 255.33 332.81 L 255.49 369.57 L 255.66 329.57 L 255.82 369.57 L 255.98 326.33 L 256.14 369.45 L 256.3 323.09 L 256.39 369.16 L 256.48 321.3 L 256.55 368.98 L 256.63 320.59 L 256.79 368.72 L 256.95 319.01 L 257.11 368.52 L 257.28 317.44 L 257.34 368.52 L 257.4 316.83 L 257.5 368.52 L 257.6 317.58 L 257.73 368.52 L 257.87 318.6 L 257.93 368.63 L 257.94 360.18 L 258.09 368.81 L 258.25 360.18 L 258.41 369.17 L 258.57 360.18 L 258.73 369.53 L 258.9 360.18 L 259.06 369.57 L 259.22 360.18 L 259.38 369.57 L 259.54 360.18 L 259.71 369.57 L 259.87 360.18 L 259.98 369.57 L 260.1 360.18 L 260.15 369.57 L 260.19 355.28 L 260.35 369.57 L 260.52 337.94 L 260.52 369.57 L 260.53 337.05 L 260.69 369.57 L 260.84 333.67 L 261 369.57 L 261.16 330.1 L 261.33 369.49 L 261.49 326.54 L 261.65 369.14 L 261.81 322.98 L 261.85 368.92 L 261.88 322.2 L 262.01 368.74 L 262.14 320.88 L 262.3 368.55 L 262.46 319.19 L 262.54 368.55 L 262.62 318.36 L 262.7 368.55 L 262.78 322.84 L 262.94 368.55 L 263.09 331.2 L 263.1 368.6 L 263.11 331.46 L 263.27 368.78 L 263.43 335.78 L 263.59 369.14 L 263.76 340.1 L 263.92 369.49 L 264.08 344.42 L 264.2 369.57 L 264.24 365.58 L 264.32 369.57 L 264.4 365.58 L 264.57 369.57 L 264.73 365.58 L 264.89 369.57 L 265.05 365.58 L 265.21 369.57 L 265.38 365.58 L 265.54 369.57 L 265.7 365.58 L 265.86 369.57 L 266.02 365.58 L 266.19 369.57 L 266.35 365.58 L 266.37 369.57 L 266.4 365.58 L 266.54 369.57 L 266.67 347.09 L 266.75 369.57 L 266.83 336.15 L 266.91 369.57 L 267 335.99 L 267.16 369.57 L 267.32 335.66 L 267.48 369.39 L 267.64 335.34 L 267.81 369.09 L 267.97 335.01 L 268.07 368.84 L 268.18 334.8 L 268.24 368.7 L 268.29 332.81 L 268.45 368.7 L 268.62 326.91 L 268.63 368.7 L 268.65 326.28 L 268.79 368.7 L 268.94 327.07 L 269.1 368.72 L 269.26 327.96 L 269.28 368.89 L 269.3 328.05 L 269.44 369.04 L 269.59 349.36 L 269.7 369.28 L 269.82 366.48 L 269.87 369.43 L 269.91 366.48 L 270.07 369.57 L 270.24 366.48 L 270.4 369.57 L 270.56 366.48 L 270.72 369.57 L 270.88 366.48 L 271.05 369.57 L 271.21 366.48 L 271.37 369.57 L 271.53 366.48 L 271.69 369.49 L 271.86 366.48 L 271.92 369.3 L 271.98 366.48 L 272.08 369.16 L 272.18 350.67 L 272.21 369.05 L 272.23 346.5 L 272.37 368.91 L 272.5 340.22 L 272.67 368.77 L 272.83 332.73 L 272.9 368.77 L 272.97 329.43 L 273.06 368.77 L 273.15 331.94 L 273.31 368.77 L 273.48 336.43 L 273.55 368.89 L 273.62 338.4 L 273.71 369.03 L 273.8 339.07 L 273.96 369.25 L 274.12 340.25 L 274.29 369.52 L 274.45 341.44 L 274.61 369.57 L 274.77 342.63 L 274.87 369.57 L 274.97 343.35 L 275.03 369.57 L 275.1 345.92 L 275.26 369.57 L 275.42 352.44 L 275.54 369.57 L 275.67 357.48 L 275.71 369.57 L 275.74 357.48 L 275.91 369.57 L 276.07 357.48 L 276.23 369.57 L 276.39 357.48 L 276.55 369.57 L 276.72 357.48 L 276.88 369.57 L 277.04 357.48 L 277.2 369.57 L 277.36 357.48 L 277.53 369.57 L 277.69 357.48 L 277.76 369.57 L 277.83 357.48 L 277.92 369.57 L 278.01 353.48 L 278.17 369.57 L 278.34 346.33 L 278.43 369.57 L 278.53 342 L 278.6 369.5 L 278.66 338.94 L 278.82 369.26 L 278.98 331.17 L 279.15 368.91 L 279.31 323.39 L 279.37 368.67 L 279.43 320.4 L 279.53 368.56 L 279.63 319.84 L 279.77 368.56 L 279.9 319.08 L 279.93 368.56 L 279.96 319.16 L 280.12 368.56 L 280.28 319.62 L 280.44 368.68 L 280.6 320.09 L 280.71 368.97 L 280.82 320.4 L 280.87 369.14 L 280.93 323.46 L 281.09 369.38 L 281.25 332.54 L 281.41 369.57 L 281.58 341.61 L 281.65 369.57 L 281.72 345.6 L 281.81 369.57 L 281.9 351.92 L 282.06 369.57 L 282.22 363.2 L 282.23 369.57 L 282.24 363.78 L 282.39 369.57 L 282.55 363.78 L 282.71 369.57 L 282.87 363.78 L 283.03 369.57 L 283.2 363.78 L 283.36 369.57 L 283.52 363.78 L 283.68 369.57 L 283.84 363.78 L 284.01 369.57 L 284.17 363.78 L 284.28 369.57 L 284.4 363.78 L 284.45 369.57 L 284.49 361.78 L 284.65 369.57 L 284.82 354.7 L 284.98 369.57 L 285.14 347.63 L 285.3 369.57 L 285.46 340.55 L 285.63 369.57 L 285.79 333.47 L 285.85 369.57 L 285.91 330.75 L 286.01 369.56 L 286.11 328.56 L 286.27 369.25 L 286.44 325.01 L 286.6 368.87 L 286.76 321.46 L 286.92 368.49 L 287.08 317.9 L 287.23 368.47 L 287.37 314.76 L 287.39 368.47 L 287.41 321.56 L 287.52 368.47 L 287.64 363.78 L 287.69 368.47 L 287.73 363.78 L 287.89 368.58 L 288.06 363.78 L 288.22 368.96 L 288.38 363.78 L 288.54 369.34 L 288.7 363.78 L 288.87 369.57 L 289.03 363.78 L 289.19 369.57 L 289.35 363.78 L 289.51 369.57 L 289.68 363.78 L 289.74 369.57 L 289.8 363.78 L 289.9 369.57 L 290 355.36 L 290.16 369.47 L 290.32 341.69 L 290.37 369.29 L 290.41 337.95 L 290.53 369.15 L 290.65 335.69 L 290.81 368.9 L 290.97 332.57 L 291.13 368.74 L 291.3 329.46 L 291.36 368.74 L 291.42 328.26 L 291.52 368.74 L 291.62 330.83 L 291.78 368.74 L 291.94 335 L 292.01 368.88 L 292.07 336.6 L 292.17 369.02 L 292.27 337 L 292.43 369.25 L 292.59 337.65 L 292.75 369.54 L 292.92 338.29 L 293.08 369.57 L 293.24 338.94 L 293.33 369.57 L 293.42 339.3 L 293.49 369.57 L 293.56 342.59 L 293.73 369.57 L 293.89 349.93 L 294.05 369.57 L 294.21 357.27 L 294.26 369.57 L 294.3 359.28 L 294.42 369.57 L 294.54 359.28 L 294.7 369.57 L 294.86 359.28 L 295.02 369.57 L 295.18 359.28 L 295.35 369.57 L 295.51 359.28 L 295.67 369.57 L 295.83 359.28 L 295.99 369.57 L 296.16 359.28 L 296.31 369.57 L 296.46 359.28 L 296.47 369.57 L 296.48 356.7 L 296.6 369.57 L 296.71 325.8 L 296.76 369.57 L 296.8 325.73 L 296.97 369.57 L 297.13 325.48 L 297.29 369.41 L 297.45 325.23 L 297.61 369.01 L 297.78 324.98 L 297.83 368.74 L 297.88 324.9 L 297.99 368.54 L 298.1 320.38 L 298.26 368.41 L 298.42 313.64 L 298.48 368.41 L 298.53 311.43 L 298.64 368.41 L 298.75 326.63 L 298.82 368.41 L 298.89 336.6 L 298.98 368.43 L 299.07 338.97 L 299.23 368.74 L 299.4 343.19 L 299.56 369.15 L 299.72 347.4 L 299.72 369.35 L 299.72 347.51 L 299.84 369.5 L 299.97 367.38 L 300.01 369.57 L 300.04 367.38 L 300.21 369.57 L 300.37 367.38 L 300.53 369.57 L 300.69 367.38 L 300.85 369.57 L 301.02 367.38 L 301.18 369.57 L 301.34 367.38 L 301.5 369.57 L 301.66 367.38 L 301.83 369.57 L 301.99 367.38 L 302.06 369.48 L 302.13 367.38 L 302.22 369.35 L 302.31 351.7 L 302.35 369.26 L 302.38 345.6 L 302.51 369.14 L 302.64 342.55 L 302.8 368.92 L 302.96 338.65 L 303.12 368.87 L 303.28 334.76 L 303.29 368.87 L 303.3 334.56 L 303.45 368.87 L 303.61 334.96 L 303.77 368.9 L 303.93 335.39 L 304.09 369.14 L 304.26 335.82 L 304.42 369.38 L 304.58 336.25 L 304.71 369.57 L 304.85 336.6 L 304.88 369.57 L 304.9 337.57 L 305.07 369.57 L 305.23 343.24 L 305.39 369.57 L 305.55 348.91 L 305.56 369.57 L 305.57 349.2 L 305.69 369.57 L 305.82 363.78 L 305.85 369.57 L 305.88 363.78 L 306.04 369.57 L 306.2 363.78 L 306.36 369.57 L 306.52 363.78 L 306.69 369.57 L 306.85 363.78 L 307.01 369.57 L 307.17 363.78 L 307.33 369.57 L 307.5 363.78 L 307.66 369.57 L 307.82 363.78 L 307.9 369.57 L 307.98 363.78 L 308.06 369.57 L 308.14 357.87 L 308.31 369.57 L 308.47 346.16 L 308.57 369.57 L 308.68 338.4 L 308.74 369.57 L 308.79 337.67 L 308.95 369.57 L 309.12 335.51 L 309.28 369.57 L 309.44 333.35 L 309.6 369.57 L 309.76 331.19 L 309.9 369.57 L 310.03 329.4 L 310.06 369.54 L 310.09 329.01 L 310.25 369.34 L 310.41 326.71 L 310.57 368.99 L 310.74 324.42 L 310.9 368.65 L 311.06 322.12 L 311.22 368.57 L 311.38 319.83 L 311.39 368.57 L 311.4 319.71 L 311.55 368.57 L 311.71 334.35 L 311.79 368.57 L 311.87 342 L 311.99 368.74 L 312.03 366.48 L 312.19 368.96 L 312.36 366.48 L 312.52 369.3 L 312.68 366.48 L 312.84 369.57 L 313 366.48 L 313.17 369.57 L 313.33 366.48 L 313.49 369.57 L 313.65 366.48 L 313.81 369.57 L 313.98 366.48 L 314.04 369.57 L 314.1 366.48 L 314.2 369.57 L 314.3 360.74 L 314.46 369.57 L 314.62 351.42 L 314.79 369.57 L 314.95 342.09 L 314.96 369.43 L 314.98 341.1 L 315.13 369.29 L 315.27 338.21 L 315.43 369.03 L 315.6 334.98 L 315.76 368.76 L 315.92 331.75 L 316.04 368.76 L 316.17 329.25 L 316.21 368.76 L 316.24 329.77 L 316.41 368.76 L 316.57 332.07 L 316.73 368.87 L 316.89 334.37 L 317.05 369.15 L 317.22 336.68 L 317.24 369.31 L 317.27 337.05 L 317.4 369.45 L 317.54 352.35 L 317.66 369.57 L 317.79 366.48 L 317.83 369.57 L 317.86 366.48 L 318.03 369.57 L 318.19 366.48 L 318.35 369.57 L 318.51 366.48 L 318.67 369.57 L 318.84 366.48 L 319 369.57 L 319.16 366.48 L 319.32 369.57 L 319.48 366.48 L 319.65 369.57 L 319.81 366.48 L 319.88 369.57 L 319.95 366.48 L 320.04 369.57 L 320.13 360.73 L 320.29 369.57 L 320.46 350.47 L 320.55 369.57 L 320.65 344.25 L 320.72 369.51 L 320.78 343.97 L 320.94 369.29 L 321.1 343.24 L 321.27 368.97 L 321.43 342.52 L 321.54 368.7 L 321.66 342 L 321.71 368.66 L 321.75 337.44 L 321.89 368.66 L 322.02 324.03 L 322.05 368.66 L 322.08 324.3 L 322.24 368.66 L 322.4 325.88 L 322.56 368.77 L 322.72 327.45 L 322.83 369.03 L 322.94 328.5 L 322.99 369.19 L 323.05 333.35 L 323.21 369.4 L 323.37 347.7 L 323.47 369.57 L 323.57 356.4 L 323.63 369.57 L 323.7 362.86 L 323.76 369.57 L 323.82 369.18 L 323.92 369.57 L 324.02 369.18 L 324.18 369.57 L 324.34 369.18 L 324.51 369.57 L 324.67 369.18 L 324.83 369.57 L 324.99 369.18 L 325.15 369.57 L 325.32 369.18 L 325.48 369.57 L 325.64 369.18 L 325.8 369.57 L 325.96 369.18 L 325.97 369.57 L 325.98 369.18 L 326.13 369.57 L 326.29 355.11 L 326.45 369.57 L 326.61 340.28 L 326.65 369.57 L 326.68 337.05 L 326.81 369.57 L 326.94 336.8 L 327.1 369.57 L 327.26 336.47 L 327.42 369.19 L 327.58 336.15 L 327.75 368.76 L 327.91 335.82 L 327.97 368.47 L 328.03 335.7 L 328.13 368.34 L 328.23 323.9 L 328.37 368.34 L 328.5 308.01 L 328.53 368.34 L 328.56 312.46 L 328.72 368.34 L 328.88 338.49 L 328.92 368.34 L 328.97 345.6 L 329.09 368.54 L 329.2 349.58 L 329.37 368.91 L 329.53 355.07 L 329.6 369.22 L 329.67 357.48 L 329.76 369.43 L 329.85 357.48 L 330.01 369.57 L 330.18 357.48 L 330.34 369.57 L 330.5 357.48 L 330.66 369.57 L 330.82 357.48 L 330.99 369.57 L 331.15 357.48 L 331.31 369.57 L 331.47 357.48 L 331.63 369.57 L 331.8 357.48 L 331.81 369.57 L 331.83 357.48 L 331.97 369.57 L 332.12 352.95 L 332.28 369.55 L 332.44 347.89 L 332.49 369.34 L 332.53 346.5 L 332.65 369.18 L 332.77 341.35 L 332.93 368.9 L 333.09 334.27 L 333.25 368.63 L 333.42 327.19 L 333.52 368.63 L 333.63 322.5 L 333.68 368.63 L 333.74 325.62 L 333.9 368.63 L 334.06 334.85 L 334.13 368.69 L 334.19 338.4 L 334.29 368.86 L 334.39 339.54 L 334.55 369.12 L 334.71 341.39 L 334.76 369.34 L 334.82 342 L 334.93 369.5 L 335.04 344.17 L 335.2 369.57 L 335.36 347.41 L 335.52 369.57 L 335.68 350.65 L 335.7 369.57 L 335.72 351 L 335.84 369.57 L 335.97 366.48 L 335.99 369.57 L 336.01 366.48 L 336.17 369.57 L 336.33 366.48 L 336.49 369.57 L 336.66 366.48 L 336.82 369.57 L 336.98 366.48 L 337.14 369.57 L 337.3 366.48 L 337.47 369.57 L 337.63 366.48 L 337.79 369.57 L 337.95 366.48 L 338.04 369.57 L 338.13 366.48 L 338.2 369.57 L 338.28 362.31 L 338.44 369.57 L 338.6 353.02 L 338.76 369.57 L 338.92 343.73 L 339.09 369.57 L 339.25 334.44 L 339.26 369.57 L 339.28 333.45 L 339.43 369.57 L 339.57 332.23 L 339.73 369.4 L 339.9 330.87 L 340.06 369.11 L 340.22 329.5 L 340.38 368.81 L 340.54 328.14 L 340.71 368.71 L 340.87 326.77 L 340.89 368.71 L 340.92 326.55 L 341.03 368.71 L 341.14 364.68 L 341.16 368.71 L 341.19 364.68 L 341.35 368.71 L 341.52 364.68 L 341.68 369.01 L 341.84 364.68 L 342 369.31 L 342.16 364.68 L 342.33 369.57 L 342.49 364.68 L 342.65 369.57 L 342.81 364.68 L 342.95 369.57 L 343.08 364.68 L 343.11 369.57 L 343.14 363.91 L 343.3 369.57 L 343.46 359.4 L 343.62 369.57 L 343.78 354.89 L 343.95 369.57 L 344.11 350.38 L 344.27 369.57 L 344.43 345.87 L 344.59 369.57 L 344.76 341.36 L 344.92 369.57 L 345.08 336.85 L 345.24 369.57 L 345.4 332.34 L 345.49 369.57 L 345.58 329.85 L 345.65 369.48 L 345.73 329.7 L 345.89 369.2 L 346.05 329.38 L 346.21 368.81 L 346.38 329.06 L 346.43 368.56 L 346.48 328.95 L 346.59 368.45 L 346.7 321.77 L 346.82 368.45 L 346.95 313.5 L 346.99 368.45 L 347.02 319.31 L 347.17 368.45 L 347.31 342 L 347.33 368.45 L 347.35 342.48 L 347.51 368.6 L 347.67 346.66 L 347.77 368.91 L 347.87 349.2 L 347.93 369.11 L 348 353.5 L 348.15 369.37 L 348.3 363.78 L 348.31 369.56 L 348.32 363.78 L 348.48 369.57 L 348.64 363.78 L 348.81 369.57 L 348.97 363.78 L 349.13 369.57 L 349.29 363.78 L 349.45 369.57 L 349.62 363.78 L 349.78 369.57 L 349.94 363.78 L 350.1 369.57 L 350.26 363.78 L 350.36 369.57 L 350.46 363.78 L 350.52 369.57 L 350.59 359.78 L 350.75 369.57 L 350.91 349.6 L 351.07 369.57 L 351.24 339.43 L 351.4 369.57 L 351.56 329.25 L 351.59 369.57 L 351.61 327.6 L 351.75 369.44 L 351.88 326.77 L 352.05 369.14 L 352.21 325.77 L 352.37 368.82 L 352.53 324.78 L 352.69 368.65 L 352.86 323.78 L 352.92 368.65 L 352.98 323.4 L 353.08 368.65 L 353.18 331.71 L 353.26 368.65 L 353.34 338.4 L 353.42 368.66 L 353.5 341.58 L 353.67 368.9 L 353.83 347.88 L 353.91 369.14 L 353.99 351 L 354.07 369.3 L 354.15 355.84 L 354.29 369.51 L 354.42 363.78 L 354.45 369.57 L 354.48 363.78 L 354.64 369.57 L 354.8 363.78 L 354.96 369.57 L 355.12 363.78 L 355.29 369.57 L 355.45 363.78 L 355.61 369.57 L 355.77 363.78 L 355.93 369.57 L 356.1 363.78 L 356.26 369.57 L 356.42 363.78 L 356.5 369.57 L 356.58 363.78 L 356.66 369.45 L 356.74 337.69 L 356.79 369.29 L 356.83 323.55 L 356.95 369.09 L 357.07 320.95 L 357.23 368.74 L 357.39 317.37 L 357.55 368.41 L 357.72 313.8 L 357.82 368.41 L 357.93 311.43 L 357.98 368.41 L 358.04 313.16 L 358.2 368.41 L 358.36 318.28 L 358.52 368.6 L 358.67 323.1 L 358.68 368.8 L 358.69 323.7 L 358.85 369.01 L 359.01 333.75 L 359.17 369.42 L 359.34 343.79 L 359.45 369.57 L 359.57 351 L 359.61 369.57 L 359.66 356.62 L 359.74 369.57 L 359.82 366.48 L 359.9 369.57 L 359.98 366.48 L 360.15 369.57 L 360.31 366.48 L 360.47 369.57 L 360.63 366.48 L 360.79 369.57 L 360.96 366.48 L 361.12 369.57 L 361.28 366.48 L 361.44 369.57 L 361.6 366.48 L 361.77 369.57 L 361.93 366.48 L 361.95 369.57 L 361.98 366.48 L 362.12 369.57 L 362.25 353.71 L 362.41 369.57 L 362.58 338.46 L 362.63 369.57 L 362.68 333.45 L 362.79 369.57 L 362.9 333.45 L 363.06 369.57 L 363.22 333.46 L 363.39 369.37 L 363.55 333.46 L 363.71 369.12 L 363.87 333.47 L 364.03 368.87 L 364.2 333.47 L 364.35 368.85 L 364.5 333.48 L 364.51 368.85 L 364.52 334.42 L 364.68 368.85 L 364.84 350.19 L 364.85 368.85 L 364.86 351 L 365.01 368.91 L 365.17 360.38 L 365.19 369.05 L 365.22 361.98 L 365.36 369.17 L 365.49 361.98 L 365.65 369.4 L 365.82 361.98 L 365.98 369.57 L 366.14 361.98 L 366.3 369.57 L 366.46 361.98 L 366.63 369.57 L 366.79 361.98 L 366.95 369.57 L 367.11 361.98 L 367.25 369.57 L 367.38 361.98 L 367.41 369.57 L 367.44 360.26 L 367.6 369.57 L 367.76 350.21 L 367.92 369.57 L 368.08 340.2 L 368.08 369.57 L 368.08 340.16 L 368.25 369.57 L 368.41 331.58 L 368.57 369.57 L 368.73 322.99 L 368.86 369.39 L 368.98 316.35 L 369.02 369.2 L 369.06 316.09 L 369.22 368.95 L 369.38 314.96 L 369.54 368.56 L 369.7 313.83 L 369.87 368.43 L 370.03 312.69 L 370.05 368.43 L 370.08 312.51 L 370.22 368.43 L 370.35 321.78 L 370.45 368.43 L 370.55 328.5 L 370.61 368.55 L 370.68 328.5 L 370.75 368.71 L 370.82 328.5 L 370.91 368.91 L 371 342.33 L 371.16 369.22 L 371.32 367.02 L 371.33 369.43 L 371.34 368.28 L 371.49 369.57 L 371.65 368.28 L 371.81 369.57 L 371.97 368.28 L 372.13 369.57 L 372.3 368.28 L 372.46 369.57 L 372.62 368.28 L 372.78 369.57 L 372.94 368.28 L 373.11 369.57 L 373.27 368.28 L 373.38 369.57 L 373.5 368.28 L 373.55 369.57 L 373.59 366.48 L 373.75 369.57 L 373.92 360.1 L 374.08 369.57 L 374.24 353.72 L 374.4 369.4 L 374.56 347.34 L 374.61 369.22 L 374.65 345.6 L 374.77 369.08 L 374.89 341.45 L 375.05 368.84 L 375.21 335.75 L 375.37 368.77 L 375.54 330.04 L 375.55 368.77 L 375.57 329.43 L 375.71 368.77 L 375.86 333.44 L 376.02 368.78 L 376.18 337.92 L 376.2 368.94 L 376.22 338.4 L 376.36 369.08 L 376.51 344.19 L 376.67 369.34 L 376.83 350.67 L 376.84 369.49 L 376.85 351 L 377 369.57 L 377.16 354.65 L 377.32 369.57 L 377.48 358.5 L 377.64 369.57 L 377.8 362.35 L 377.9 369.57 L 378 364.68 L 378.06 369.57 L 378.13 364.68 L 378.29 369.57 L 378.45 364.68 L 378.61 369.57 L 378.78 364.68 L 378.94 369.57 L 379.1 364.68 L 379.26 369.57 L 379.42 364.68 L 379.59 369.57 L 379.75 364.68 L 379.91 369.57 L 380.07 364.68 L 380.12 369.57 L 380.16 364.68 L 380.28 369.57 L 380.4 337.6 L 380.4 369.57 L 380.41 335.7 L 380.57 369.57 L 380.72 335.53 L 380.88 369.57 L 381.04 335.35 L 381.21 369.57 L 381.37 335.17 L 381.53 369.57 L 381.69 334.99 L 381.85 369.36 L 382.02 334.81 L 382.02 369.23 L 382.03 334.8 L 382.19 369.1 L 382.34 334.3 L 382.5 368.86 L 382.66 333.77 L 382.81 368.84 L 382.95 333.3 L 383.08 368.84 L 383.17 366.48 L 383.24 368.84 L 383.31 366.48 L 383.47 368.92 L 383.64 366.48 L 383.8 369.17 L 383.96 366.48 L 384.12 369.42 L 384.28 366.48 L 384.45 369.57 L 384.61 366.48 L 384.77 369.57 L 384.93 366.48 L 385.07 369.57 L 385.2 366.48 L 385.23 369.57 L 385.26 364.18 L 385.42 369.52 L 385.58 350.74 L 385.7 369.26 L 385.81 341.1 L 385.86 369.11 L 385.9 339.62 L 386.07 368.92 L 386.23 334.39 L 386.39 368.7 L 386.55 329.16 L 386.64 368.7 L 386.73 326.28 L 386.8 368.7 L 386.88 327.99 L 387.04 368.7 L 387.2 331.79 L 387.36 368.89 L 387.52 335.59 L 387.59 369.1 L 387.65 337.05 L 387.75 369.25 L 387.85 337.99 L 388.01 369.49 L 388.17 339.52 L 388.33 369.57 L 388.5 341.05 L 388.66 369.57 L 388.82 342.58 L 388.98 369.57 L 389.14 344.11 L 389.21 369.57 L 389.27 344.7 L 389.37 369.57 L 389.47 357.66 L 389.49 369.57 L 389.52 361.08 L 389.66 369.57 L 389.79 361.08 L 389.95 369.57 L 390.12 361.08 L 390.28 369.57 L 390.44 361.08 L 390.6 369.57 L 390.76 361.08 L 390.93 369.57 L 391.09 361.08 L 391.25 369.57 L 391.41 361.08 L 391.55 369.57 L 391.68 361.08 L 391.71 369.57 L 391.74 359.86 L 391.9 369.57 L 392.06 352.71 L 392.22 369.31 L 392.38 345.6 L 392.38 369.17 L 392.38 345.57 L 392.55 369.02 L 392.71 339.32 L 392.87 368.74 L 393.03 333.08 L 393.17 368.74 L 393.3 327.9 L 393.33 368.74 L 393.36 328.79 L 393.52 368.74 L 393.68 333.98 L 393.84 368.83 L 394 339.18 L 394.17 369.12 L 394.33 344.38 L 394.41 369.34 L 394.49 346.95 L 394.57 369.48 L 394.65 349.82 L 394.81 369.57 L 394.98 355.51 L 395.14 369.57 L 395.3 361.19 L 395.33 369.57 L 395.37 362.43 L 395.5 369.57 L 395.62 362.43 L 395.79 369.57 L 395.95 362.43 L 396.11 369.57 L 396.27 362.43 L 396.43 369.57 L 396.6 362.43 L 396.76 369.57 L 396.92 362.43 L 397.08 369.57 L 397.24 362.43 L 397.39 369.57 L 397.53 362.43 L 397.55 369.57 L 397.57 361.09 L 397.73 369.57 L 397.89 349.48 L 398.05 369.57 L 398.22 337.87 L 398.36 369.43 L 398.5 327.6 L 398.52 369.24 L 398.54 327.21 L 398.7 369.03 L 398.86 323.82 L 399.03 368.66 L 399.19 320.43 L 399.35 368.5 L 399.51 317.04 L 399.56 368.5 L 399.6 316.11 L 399.72 368.5 L 399.84 330.04 L 399.95 368.5 L 400.07 343.8 L 400.11 368.59 L 400.16 343.91 L 400.32 368.83 L 400.48 344.32 L 400.64 369.19 L 400.79 344.7 L 400.8 369.38 L 400.81 346.52 L 400.92 369.52 L 401.04 368.28 L 401.09 369.57 L 401.13 368.28 L 401.29 369.57 L 401.46 368.28 L 401.62 369.57 L 401.78 368.28 L 401.94 369.57 L 402.1 368.28 L 402.27 369.57 L 402.43 368.28 L 402.59 369.57 L 402.75 368.28 L 402.91 369.57 L 403.08 368.28 L 403.14 369.57 L 403.2 368.28 L 403.3 369.57 L 403.4 364.4 L 403.56 369.57 L 403.72 358.09 L 403.89 369.57 L 404.05 351.79 L 404.21 369.57 L 404.37 345.48 L 404.53 369.57 L 404.7 339.17 L 404.7 369.57 L 404.71 338.85 L 404.87 369.57 L 405.02 335.42 L 405.18 369.55 L 405.34 331.81 L 405.51 369.24 L 405.67 328.19 L 405.77 368.97 L 405.88 325.8 L 405.94 368.82 L 405.99 325.5 L 406.15 368.66 L 406.32 324.62 L 406.42 368.66 L 406.53 324.03 L 406.58 368.66 L 406.64 325.79 L 406.8 368.66 L 406.96 331 L 407.03 368.72 L 407.09 333 L 407.19 368.88 L 407.29 358.78 L 407.31 369 L 407.34 365.58 L 407.48 369.16 L 407.61 365.58 L 407.77 369.45 L 407.94 365.58 L 408.1 369.57 L 408.26 365.58 L 408.42 369.57 L 408.58 365.58 L 408.75 369.57 L 408.91 365.58 L 409.07 369.57 L 409.23 365.58 L 409.37 369.57 L 409.5 365.58 L 409.53 369.57 L 409.56 364.44 L 409.72 369.57 L 409.88 357.78 L 410.04 369.57 L 410.2 351.12 L 410.37 369.57 L 410.53 344.46 L 410.69 369.57 L 410.85 337.8 L 411.01 369.57 L 411.18 331.14 L 411.23 369.33 L 411.28 328.95 L 411.39 369.15 L 411.5 326.73 L 411.66 368.85 L 411.82 323.42 L 411.99 368.53 L 412.15 320.11 L 412.26 368.53 L 412.38 317.73 L 412.43 368.53 L 412.47 322.82 L 412.63 368.53 L 412.8 340.87 L 412.82 368.54 L 412.85 343.8 L 412.98 368.72 L 413.12 361.8 L 413.15 368.91 L 413.19 366.48 L 413.32 369.09 L 413.44 366.48 L 413.61 369.41 L 413.77 366.48 L 413.93 369.57 L 414.09 366.48 L 414.25 369.48 L 414.42 366.48 L 414.58 369.17 L 414.74 366.48 L 414.9 368.86 L 415.06 366.48 L 415.19 368.68 L 415.31 366.48 L 415.35 368.68 L 415.53 324.93 L 415.62 368.68 L 415.71 325.73 L 415.87 368.68 L 416.04 327.16 L 416.2 368.9 L 416.36 328.59 L 416.52 369.13 L 416.68 330.02 L 416.82 368.85 L 416.95 331.2 L 416.98 368.7 L 417.01 330.56 L 417.17 368.7 L 417.33 326.85 L 417.38 368.7 L 417.42 325.83 L 417.54 368.7 L 417.66 332.15 L 417.77 368.7 L 417.89 338.4 L 417.93 368.77 L 417.98 340.23 L 418.14 368.97 L 418.3 346.71 L 418.41 369.22 L 418.52 351 L 418.57 369.37 L 418.63 353.03 L 418.79 369.57 L 418.95 359.05 L 419.11 369.57 L 419.28 365.07 L 419.34 369.57 L 419.4 367.38 L 419.5 369.57 L 419.6 367.38 L 419.76 369.57 L 419.92 367.38 L 420.09 369.57 L 420.25 367.38 L 420.41 369.57 L 420.57 367.38 L 420.73 369.57 L 420.9 367.38 L 421.06 369.57 L 421.22 367.38 L 421.38 369.57 L 421.54 367.38 L 421.55 369.57 L 421.56 367.38 L 421.71 369.57 L 421.87 359.65 L 422.03 369.57 L 422.19 351.5 L 422.35 369.57 L 422.52 343.34 L 422.61 369.31 L 422.71 338.4 L 422.78 369.15 L 422.84 336.47 L 423 368.93 L 423.16 331.56 L 423.33 368.64 L 423.49 326.65 L 423.6 368.64 L 423.72 323.13 L 423.77 368.64 L 423.81 326.81 L 423.97 368.64 L 424.14 339.84 L 424.25 368.74 L 424.37 349.2 L 424.41 368.9 L 424.46 353.05 L 424.62 369.11 L 424.78 366.68 L 424.79 369.28 L 424.8 367.38 L 424.95 369.44 L 425.11 367.38 L 425.27 369.57 L 425.43 367.38 L 425.59 369.57 L 425.76 367.38 L 425.92 369.57 L 426.08 367.38 L 426.24 369.57 L 426.4 367.38 L 426.57 369.57 L 426.73 367.38 L 426.84 369.57 L 426.96 367.38 L 427.01 369.57 L 427.05 365.63 L 427.21 369.57 L 427.38 359.44 L 427.54 369.57 L 427.7 353.25 L 427.86 369.57 L 428.02 347.05 L 428.19 369.57 L 428.35 340.86 L 428.36 369.57 L 428.38 340.2 L 428.53 369.57 L 428.67 340.42 L 428.83 369.57 L 429 340.67 L 429.16 369.47 L 429.32 340.92 L 429.44 369.27 L 429.55 341.1 L 429.6 369.16 L 429.64 340.61 L 429.81 369.01 L 429.97 338.86 L 430.13 368.91 L 430.29 337.11 L 430.34 368.91 L 430.38 336.63 L 430.5 368.91 L 430.62 339.92 L 430.78 368.91 L 430.94 344.45 L 431.03 369.06 L 431.12 346.95 L 431.19 369.18 L 431.26 359.78 L 431.32 369.27 L 431.37 369.18 L 431.48 369.38 L 431.59 369.18 L 431.75 369.57 L 431.91 369.18 L 432.07 369.57 L 432.24 369.18 L 432.4 369.57 L 432.56 369.18 L 432.72 369.4 L 432.88 369.18 L 433.21 369.18 L 433.37 369.02 L 433.53 369.18 L 433.53 369.02 L 433.53 369.04 L 433.67 369.02 L 433.8 342.21 L 433.83 369.02 L 433.86 342.33 L 434.02 369.02 L 434.18 343.04 L 434.34 369.09 L 434.5 343.75 L 434.67 369.28 L 434.83 344.46 L 434.99 369.47 L 435.15 345.17 L 435.25 369.57 L 435.35 345.6 L 435.41 369.57 L 435.48 347.39 L 435.64 369.57 L 435.8 351.94 L 435.96 369.57 L 436.12 356.5 L 436.29 369.57 L 436.45 361.05 L 436.61 369.57 L 436.77 365.58 L 436.77 369.57 L 436.77 365.58 L 436.93 369.57 L 437.1 365.58 L 437.26 369.57 L 437.42 365.58 L 437.58 369.57 L 437.74 365.58 L 437.91 369.57 L 438.07 365.58 L 438.23 369.57 L 438.39 365.58 L 438.55 369.57 L 438.72 365.58 L 438.82 369.28 L 438.93 365.58 L 438.98 369.1 L 439.04 358.47 L 439.11 368.97 L 439.18 349.2 L 439.27 368.79 L 439.36 341.79 L 439.53 368.56 L 439.69 328.57 L 439.8 368.56 L 439.92 319.08 L 439.97 368.56 L 440.01 323.03 L 440.17 368.56 L 440.34 337.03 L 440.36 368.57 L 440.39 339.3 L 440.52 368.75 L 440.66 339.22 L 440.82 369.07 L 440.98 339.12 L 441.15 369.42 L 441.31 339.03 L 441.47 369.57 L 441.63 338.93 L 441.77 369.57 L 441.92 338.85 L 441.94 369.57 L 441.96 339.17 L 442.12 369.57 L 442.28 341.92 L 442.44 369.57 L 442.6 344.68 L 442.71 369.57 L 442.82 346.5 L 442.87 369.57 L 442.93 349.93 L 443.09 369.57 L 443.25 360.1 L 443.3 369.57 L 443.34 362.88 L 443.46 369.57 L 443.58 362.88 L 443.74 369.57 L 443.9 362.88 L 444.06 369.57 L 444.22 362.88 L 444.39 369.57 L 444.55 362.88 L 444.71 369.57 L 444.87 362.88 L 445.03 369.57 L 445.2 362.88 L 445.35 369.57 L 445.5 362.88 L 445.51 369.53 L 445.52 362.26 L 445.68 369.29 L 445.84 352 L 445.89 369.01 L 445.93 349.2 L 446.05 368.78 L 446.17 336.74 L 446.33 368.4 L 446.49 319.6 L 446.65 368.27 L 446.82 302.46 L 446.83 368.27 L 446.85 300.63 L 446.99 368.27 L 447.14 329 L 447.23 368.27 L 447.32 346.5 L 447.39 368.42 L 447.46 346.79 L 447.62 368.74 L 447.77 347.4 L 447.78 368.96 L 447.79 347.56 L 447.95 369.2 L 448.11 350.15 L 448.27 369.57 L 448.44 352.74 L 448.6 369.57 L 448.76 355.33 L 448.92 369.57 L 449.08 357.92 L 449.1 369.57 L 449.12 358.2 L 449.24 369.57 L 449.37 367.38 L 449.39 369.57 L 449.41 367.38 L 449.57 369.57 L 449.73 367.38 L 449.89 369.57 L 450.06 367.38 L 450.22 369.57 L 450.38 367.38 L 450.54 369.57 L 450.7 367.38 L 450.87 369.57 L 451.03 367.38 L 451.19 369.57 L 451.35 367.38 L 451.44 369.46 L 451.53 367.38 L 451.6 369.29 L 451.68 354.81 L 451.73 369.15 L 451.78 345.6 L 451.89 368.99 L 452 339.68 L 452.16 368.7 L 452.32 330.86 L 452.49 368.59 L 452.65 322.04 L 452.67 368.59 L 452.7 320.61 L 452.84 368.59 L 452.97 339.45 L 453.02 368.59 L 453.06 345.6 L 453.18 368.64 L 453.3 345.81 L 453.46 368.93 L 453.62 346.1 L 453.78 369.27 L 453.94 346.39 L 454.01 369.5 L 454.07 346.5 L 454.17 369.57 L 454.27 356.56 L 454.38 369.57 L 454.5 368.28 L 454.55 369.57 L 454.59 368.28 L 454.75 369.57 L 454.92 368.28 L 455.08 369.57 L 455.24 368.28 L 455.4 369.57 L 455.56 368.28 L 455.73 369.57 L 455.89 368.28 L 456.05 369.57 L 456.21 368.28 L 456.37 369.57 L 456.54 368.28 L 456.6 369.57 L 456.66 368.28 L 456.76 369.57 L 456.86 363.26 L 457.02 369.57 L 457.18 355.1 L 457.35 369.57 L 457.51 346.94 L 457.57 369.35 L 457.63 343.8 L 457.73 369.18 L 457.83 339.42 L 457.99 368.9 L 458.16 332.32 L 458.32 368.57 L 458.48 325.21 L 458.6 368.57 L 458.73 319.71 L 458.77 368.57 L 458.8 320.75 L 458.97 368.57 L 459.13 325.36 L 459.29 368.71 L 459.45 329.97 L 459.61 369.05 L 459.78 334.57 L 459.85 369.3 L 459.92 336.6 L 460.01 369.47 L 460.1 339.19 L 460.26 369.57 L 460.42 343.82 L 460.49 369.57 L 460.55 345.6 L 460.58 369.57 L 460.62 361.98 L 460.68 369.57 L 460.75 361.98 L 460.91 369.57 L 461.07 361.98 L 461.23 369.57 L 461.4 361.98 L 461.56 369.57 L 461.72 361.98 L 461.88 369.57 L 462.04 361.98 L 462.21 369.57 L 462.37 361.98 L 462.53 369.57 L 462.69 361.98 L 462.74 369.57 L 462.78 361.98 L 462.9 369.57 L 463.02 355.83 L 463.18 369.57 L 463.34 347.37 L 463.5 369.55 L 463.66 338.91 L 463.71 369.33 L 463.75 336.6 L 463.87 369.16 L 463.99 333.04 L 464.15 368.86 L 464.31 328.13 L 464.47 368.58 L 464.64 323.23 L 464.74 368.58 L 464.85 319.98 L 464.9 368.58 L 464.96 324.29 L 465.12 368.58 L 465.28 337.04 L 465.3 368.6 L 465.32 338.4 L 465.46 368.77 L 465.61 344.19 L 465.69 369.01 L 465.77 347.4 L 465.85 369.18 L 465.93 349.74 L 466.09 369.44 L 466.26 354.38 L 466.42 369.57 L 466.58 359.02 L 466.74 369.57 L 466.9 363.66 L 467 369.57 L 467.1 366.48 L 467.16 369.57 L 467.23 366.48 L 467.39 369.57 L 467.55 366.48 L 467.71 369.57 L 467.88 366.48 L 468.04 369.57 L 468.2 366.48 L 468.36 369.57 L 468.52 366.48 L 468.69 369.57 L 468.85 366.48 L 469.01 369.57 L 469.17 366.48 L 469.22 369.57 L 469.26 366.48 L 469.38 369.57 L 469.5 357.2 L 469.66 369.57 L 469.82 344.42 L 469.94 369.57 L 470.05 335.25 L 470.1 369.57 L 470.14 335.21 L 470.31 369.57 L 470.47 335.08 L 470.63 369.57 L 470.79 334.94 L 470.95 369.31 L 471.12 334.81 L 471.12 369.14 L 471.13 334.8 L 471.29 368.99 L 471.44 331.28 L 471.6 368.68 L 471.76 327.58 L 471.91 368.66 L 472.05 324.3 L 472.07 368.66 L 472.09 324.91 L 472.25 368.66 L 472.41 330.21 L 472.57 368.75 L 472.74 335.5 L 472.85 369.02 L 472.97 339.3 L 473.01 369.18 L 473.06 342.61 L 473.22 369.38 L 473.38 354.32 L 473.53 369.57 L 473.67 364.68 L 473.69 369.57 L 473.71 364.68 L 473.87 369.57 L 474.03 364.68 L 474.19 369.57 L 474.36 364.68 L 474.52 369.57 L 474.68 364.68 L 474.84 369.57 L 475 364.68 L 475.17 369.37 L 475.33 364.68 L 475.49 369.12 L 475.65 364.68 L 475.74 368.93 L 475.83 364.68 L 475.9 368.84 L 475.98 334.75 L 476.13 368.84 L 476.28 333.3 L 476.29 368.84 L 476.3 333.51 L 476.46 368.84 L 476.62 337.04 L 476.69 368.84 L 476.75 338.4 L 476.85 368.95 L 476.95 341.64 L 477.11 369.15 L 477.27 346.91 L 477.37 369.35 L 477.47 350.1 L 477.53 369.48 L 477.6 352.01 L 477.76 369.57 L 477.92 356.87 L 478.08 369.57 L 478.24 361.73 L 478.41 369.57 L 478.57 366.59 L 478.59 369.57 L 478.62 367.38 L 478.76 369.57 L 478.89 367.38 L 479.05 369.57 L 479.22 367.38 L 479.38 369.57 L 479.54 367.38 L 479.7 369.57 L 479.86 367.38 L 480.03 369.57 L 480.19 367.38 L 480.35 369.57 L 480.51 367.38 L 480.65 369.57 L 480.78 367.38 L 480.81 369.57 L 480.84 366.27 L 481 369.57 L 481.16 359.76 L 481.32 369.57 L 481.48 353.26 L 481.65 369.57 L 481.81 346.75 L 481.87 369.57 L 481.93 344.25 L 482.03 369.57 L 482.13 343.78 L 482.29 369.57 L 482.46 343.03 L 482.62 369.57 L 482.78 342.27 L 482.94 369.46 L 483.1 341.52 L 483.19 369.22 L 483.28 341.1 L 483.35 369.06 L 483.43 338.44 L 483.59 368.84 L 483.75 332.51 L 483.91 368.66 L 484.08 326.58 L 484.14 368.66 L 484.2 324.3 L 484.3 368.66 L 484.4 330.85 L 484.56 368.66 L 484.72 341.51 L 484.79 368.81 L 484.85 345.6 L 484.95 368.97 L 485.05 362.84 L 485.07 369.09 L 485.1 367.38 L 485.24 369.25 L 485.37 367.38 L 485.53 369.54 L 485.7 367.38 L 485.86 369.57 L 486.02 367.38 L 486.18 369.57 L 486.34 367.38 L 486.51 369.57 L 486.67 367.38 L 486.83 369.39 L 486.99 367.38 L 487.13 369.14 L 487.26 367.38 L 487.29 369 L 487.32 362.43 L 487.48 368.84 L 487.64 333.48 L 487.65 368.78 L 487.66 331.23 L 487.81 368.78 L 487.96 330.2 L 487.97 368.78 L 487.98 330.15 L 488.13 368.78 L 488.29 334.86 L 488.45 368.81 L 488.61 339.83 L 488.77 369.09 L 488.94 344.79 L 488.96 369.24 L 488.99 345.6 L 489.12 369.38 L 489.26 347.84 L 489.42 369.57 L 489.58 350.5 L 489.75 369.57 L 489.91 353.17 L 490.07 369.57 L 490.23 355.84 L 490.37 369.57 L 490.52 358.2 L 490.54 369.57 L 490.56 359.03 L 490.66 369.57 L 490.77 363.78 L 490.82 369.57 L 490.88 363.78 L 491.04 369.57 L 491.2 363.78 L 491.37 369.57 L 491.53 363.78 L 491.69 369.57 L 491.85 363.78 L 492.01 369.57 L 492.18 363.78 L 492.34 369.57 L 492.5 363.78 L 492.66 369.57 L 492.82 363.78 L 492.88 369.57 L 492.93 363.78 L 493.04 369.57 L 493.15 358.71 L 493.31 369.48 L 493.47 351.15 L 493.55 369.31 L 493.63 347.4 L 493.71 369.19 L 493.8 345.43 L 493.96 369.02 L 494.12 341.54 L 494.28 368.91 L 494.44 337.64 L 494.5 368.91 L 494.55 336.36 L 494.66 368.91 L 494.77 341.07 L 494.89 368.91 L 495.02 346.5 L 495.05 368.96 L 495.09 346.5 L 495.25 369.1 L 495.42 346.5 L 495.58 369.33 L 495.74 346.5 L 495.83 369.51 L 495.92 346.5 L 495.99 369.57 L 496.06 351.8 L 496.12 369.57 L 496.17 355.68 L 496.28 369.57 L 496.39 355.68 L 496.55 369.57 L 496.71 355.68 L 496.87 369.57 L 497.04 355.68 L 497.2 369.57 L 497.36 355.68 L 497.52 369.36 L 497.68 355.68 L 497.85 369.11 L 498.01 355.68 L 498.17 368.88 L 498.33 355.68 L 498.33 368.88 L 498.33 355.57 L 498.47 368.88 L 498.6 334.83 L 498.74 368.88 L 498.82 353.88 L 498.9 368.88 L 498.98 353.88 L 499.14 368.96 L 499.3 353.88 L 499.47 369.2 L 499.63 353.88 L 499.79 369.44 L 499.95 353.88 L 500.11 369.32 L 500.28 353.88 L 500.43 368.88 L 500.58 353.88 L 500.59 368.66 L 500.6 352.96 L 500.72 368.48 L 500.83 342 L 500.88 368.27 L 500.92 334.18 L 501.09 368.27 L 501.25 306.47 L 501.27 368.27 L 501.3 301.98 L 501.44 368.27 L 501.57 310.08 L 501.73 368.28 L 501.9 319.75 L 501.97 368.6 L 502.04 324 L 502.13 368.82 L 502.22 328.67 L 502.38 369.17 L 502.54 337 L 502.61 369.48 L 502.67 340.2 L 502.7 369.57 L 502.74 366.48 L 502.8 369.57 L 502.87 366.48 L 503.03 369.57 L 503.19 366.48 L 503.35 369.57 L 503.52 366.48 L 503.68 369.57 L 503.84 366.48 L 504 369.57 L 504.16 366.48 L 504.33 369.57 L 504.49 366.48 L 504.65 369.57 L 504.81 366.48 L 504.86 369.57 L 504.9 366.48 L 505.02 369.57 L 505.14 352.02 L 505.14 369.52 L 505.15 351 L 505.31 369.42 L 505.46 348.52 L 505.62 369.22 L 505.78 345.9 L 505.95 369.02 L 506.11 343.28 L 506.27 368.99 L 506.43 340.68 L 506.43 368.99 L 506.43 340.68 L 506.59 368.99 L 506.76 341.66 L 506.92 369.03 L 507.08 342.63 L 507.24 369.23 L 507.4 343.6 L 507.57 369.43 L 507.73 344.58 L 507.89 369.57 L 508.05 345.55 L 508.06 369.57 L 508.07 345.6 L 508.22 369.57 L 508.38 358.96 L 508.48 369.57 L 508.59 368.28 L 508.64 369.57 L 508.7 368.28 L 508.86 369.57 L 509.02 368.28 L 509.19 369.57 L 509.35 368.28 L 509.51 369.57 L 509.67 368.28 L 509.83 369.57 L 510 368.28 L 510.16 369.57 L 510.32 368.28 L 510.48 369.57 L 510.64 368.28 L 510.7 369.47 L 510.75 368.28 L 510.86 369.36 L 510.97 362.93 L 511.13 369.18 L 511.29 354.95 L 511.37 369.01 L 511.45 351 L 511.53 368.93 L 511.62 346.39 L 511.77 368.93 L 511.92 337.8 L 511.93 368.93 L 511.94 337.84 L 512.1 368.93 L 512.26 338.47 L 512.43 368.98 L 512.59 339.1 L 512.75 369.2 L 512.91 339.73 L 513.07 369.42 L 513.24 340.37 L 513.4 369.28 L 513.56 341 L 513.59 369.15 L 513.61 341.1 L 513.75 369.04 L 513.88 339.72 L 514.05 368.93 L 514.21 338.07 L 514.28 368.93 L 514.35 337.35 L 514.44 368.93 L 514.53 342.64 L 514.67 368.93 L 514.82 351 L 514.84 368.96 L 514.86 353.43 L 514.96 369.05 L 515.07 367.38 L 515.12 369.16 L 515.18 367.38 L 515.34 369.31 L 515.5 367.38 L 515.67 369.53 L 515.83 367.38 L 515.99 369.57 L 516.15 367.38 L 516.31 369.57 L 516.48 367.38 L 516.64 369.57 L 516.8 367.38 L 516.96 369.57 L 517.12 367.38 L 517.18 369.57 L 517.23 367.38 L 517.34 369.57 L 517.45 358.31 L 517.6 369.46 L 517.75 345.6 L 517.76 369.3 L 517.77 345.23 L 517.93 369.14 L 518.1 339.13 L 518.26 368.83 L 518.42 333.03 L 518.58 368.68 L 518.74 326.93 L 518.8 368.68 L 518.85 324.93 L 518.96 368.68 L 519.07 328.97 L 519.23 368.68 L 519.39 335 L 519.55 368.94 L 519.72 341.02 L 519.74 369.12 L 519.77 342 L 519.9 369.27 L 520.04 346.5 L 520.2 369.55 L 520.36 351.86 L 520.53 369.57 L 520.69 357.23 L 520.8 369.57 L 520.92 361.08 L 520.97 369.57 L 521.01 361.08 L 521.17 369.57 L 521.34 361.08 L 521.5 369.57 L 521.66 361.08 L 521.82 369.57 L 521.98 361.08 L 522.15 369.57 L 522.31 361.08 L 522.47 369.57 L 522.63 361.08 L 522.79 369.48 L 522.96 361.08 L 523.02 369.27 L 523.08 361.08 L 523.18 369.11 L 523.28 353.79 L 523.44 368.86 L 523.6 342 L 523.6 368.71 L 523.6 341.95 L 523.77 368.67 L 523.93 330 L 524 368.67 L 524.07 324.75 L 524.16 368.67 L 524.25 326.11 L 524.41 368.67 L 524.58 328.55 L 524.74 368.9 L 524.9 330.98 L 525.06 369.21 L 525.22 333.41 L 525.29 369.42 L 525.35 334.35 L 525.45 369.57 L 525.55 336.84 L 525.71 369.57 L 525.87 340.89 L 526.03 369.57 L 526.2 344.94 L 526.22 369.57 L 526.25 345.6 L 526.37 369.57 L 526.5 369.18 L 526.51 369.57 L 526.52 369.18 L 526.68 369.57 L 526.84 369.18 L 527.01 369.57 L 527.17 369.18 L 527.33 369.57 L 527.49 369.18 L 527.65 369.57 L 527.82 369.18 L 527.98 369.57 L 528.14 369.18 L 528.3 369.57 L 528.46 369.18 L 528.56 369.57 L 528.66 369.18 L 528.72 369.57 L 528.79 362.54 L 528.95 369.57 L 529.11 345.67 L 529.15 369.57 L 529.18 342 L 529.31 369.57 L 529.44 341.24 L 529.6 369.57 L 529.76 340.27 L 529.92 369.57 L 530.08 339.3 L 530.08 369.57 L 530.08 339.3 L 530.25 369.57 L 530.41 338.96 L 530.57 369.57 L 530.73 338.62 L 530.89 369.57 L 531.06 338.28 L 531.22 369.57 L 531.38 337.93 L 531.54 369.37 L 531.7 337.59 L 531.87 369.14 L 532.03 337.25 L 532.19 368.91 L 532.35 336.91 L 532.49 368.91 L 532.62 336.63 L 532.76 368.91 L 532.84 368.28 L 532.92 368.91 L 533 368.28 L 533.16 368.99 L 533.32 368.28 L 533.49 369.22 L 533.65 368.28 L 533.81 369.44 L 533.97 368.28 L 534.13 369.57 L 534.3 368.28 L 534.46 369.57 L 534.62 368.28 L 534.78 369.57 L 534.94 368.28 L 534.95 369.57 L 534.96 368.28 L 535.11 369.57 L 535.27 359.13 L 535.43 369.57 L 535.59 349.48 L 535.67 369.57 L 535.75 344.7 L 535.83 369.57 L 535.92 342.25 L 536.08 369.57 L 536.24 337.39 L 536.4 369.54 L 536.56 332.53 L 536.7 369.14 L 536.83 328.5 L 536.86 368.91 L 536.89 327.1 L 537.05 368.65 L 537.21 318.91 L 537.37 368.28 L 537.54 310.73 L 537.64 368.28 L 537.75 305.31 L 537.8 368.28 L 537.86 316.46 L 537.98 368.28 L 538.11 342 L 538.15 368.28 L 538.18 342.96 L 538.34 368.5 L 538.49 346.95 L 538.5 368.72 L 538.51 346.95 L 538.67 368.95 L 538.83 346.95 L 538.99 369.4 L 539.16 346.95 L 539.32 369.57 L 539.48 346.95 L 539.52 369.57 L 539.57 346.95 L 539.69 369.57 L 539.8 346.42 L 539.97 369.57 L 540.13 345.7 L 540.29 369.57 L 540.45 344.97 L 540.61 369.57 L 540.78 344.25 L 540.94 369.57 L 541.1 343.53 L 541.26 369.57 L 541.42 342.8 L 541.59 369.41 L 541.75 342.08 L 541.76 369.3 L 541.78 342 L 541.93 369.19 L 542.07 341.36 L 542.23 369 L 542.4 340.64 L 542.55 368.98 L 542.7 339.96 L 542.71 368.98 L 542.72 339.99 L 542.88 368.98 L 543.04 340.47 L 543.21 369.02 L 543.37 340.95 L 543.53 369.23 L 543.69 341.44 L 543.85 369.43 L 544.02 341.92 L 544.04 369.55 L 544.07 342 L 544.2 369.57 L 544.34 346.34 L 544.5 369.57 L 544.66 351.53 L 544.82 369.57 L 544.97 356.4 L 544.98 369.57 L 544.99 357.25 L 545.1 369.57 L 545.22 367.38 L 545.27 369.57 L 545.31 367.38 L 545.47 369.57 L 545.64 367.38 L 545.8 369.57 L 545.96 367.38 L 546.12 369.57 L 546.28 367.38 L 546.45 369.57 L 546.61 367.38 L 546.77 369.57 L 546.93 367.38 L 547.09 369.57 L 547.26 367.38 L 547.32 369.57 L 547.38 367.38 L 547.48 369.57 L 547.58 362.47 L 547.74 369.57 L 547.9 354.5 L 547.99 369.57 L 548.08 350.1 L 548.15 369.57 L 548.23 348.77 L 548.39 369.54 L 548.55 345.8 L 548.71 369.32 L 548.88 342.84 L 549.04 369.1 L 549.2 339.87 L 549.28 368.93 L 549.36 338.4 L 549.44 368.93 L 549.52 338 L 549.62 368.93 L 549.72 337.53 L 549.78 368.93 L 549.85 346.49 L 550.01 368.93 L 550.17 369.18 L 550.17 368.94 L 550.17 369.18 L 550.33 369.05 L 550.66 369.28 L 550.82 369.18 L 550.98 369.5 L 551.14 369.18 L 551.31 369.57 L 551.47 369.18 L 551.63 369.57 L 551.79 369.18 L 551.95 369.57 L 552.12 369.18 L 552.22 369.57 L 552.33 369.18 L 552.38 369.57 L 552.44 367.63 L 552.6 369.57 L 552.76 363.04 L 552.93 369.57 L 553.09 358.46 L 553.25 369.57 L 553.41 353.87 L 553.57 369.57 L 553.74 349.28 L 553.83 369.51 L 553.93 346.5 L 554 369.4 L 554.06 345.52 L 554.22 369.25 L 554.38 343.02 L 554.55 369.02 L 554.71 340.53 L 554.87 368.93 L 555.03 338.03 L 555.08 368.93 L 555.12 337.35 L 555.24 368.93 L 555.36 340.97 L 555.52 368.93 L 555.68 345.96 L 555.81 369.11 L 555.95 350.1 L 555.98 369.22 L 556 350.86 L 556.17 369.35 L 556.33 355.32 L 556.49 369.57 L 556.65 359.77 L 556.66 369.57 L 556.67 360 L 556.79 369.57 L 556.92 366.48 L 556.95 369.57 L 556.98 366.48 L 557.14 369.57 L 557.3 366.48 L 557.46 369.57 L 557.62 366.48 L 557.79 369.57 L 557.95 366.48 L 558.11 369.57 L 558.27 366.48 L 558.43 369.57 L 558.6 366.48 L 558.76 369.57 L 558.92 366.48 L 559 369.57 L 559.08 366.48 L 559.16 369.56 L 559.24 362.88 L 559.41 369.41 L 559.57 355.73 L 559.67 369.23 L 559.78 351 L 559.84 369.13 L 559.89 349.27 L 560.05 368.99 L 560.22 344.15 L 560.37 368.97 L 560.52 339.33 L 560.53 368.97 L 560.54 339.57 L 560.7 368.97 L 560.86 343.61 L 561.02 369.01 L 561.17 347.4 L 561.18 369.11 L 561.19 347.44 L 561.35 369.22 L 561.51 348.09 L 561.67 369.43 L 561.84 348.73 L 561.95 369.57 L 562.07 349.2 L 562.11 369.57 L 562.16 350.3 L 562.32 369.57 L 562.48 354.19 L 562.65 369.57 L 562.81 358.07 L 562.89 369.57 L 562.97 360 L 563.09 369.57 L 563.13 369.18 L 563.29 369.57 L 563.46 369.18 L 563.62 369.57 L 563.78 369.18 L 563.94 369.57 L 564.1 369.18 L 564.27 369.57 L 564.43 369.18 L 564.59 369.57 L 564.75 369.18 L 564.91 369.57 L 565.08 369.18 L 565.14 369.57 L 565.2 369.18 L 565.3 369.57 L 565.4 357.88 L 565.52 369.57 L 565.63 344.7 L 565.68 369.54 L 565.72 344.13 L 565.89 369.39 L 566.05 342.11 L 566.21 369.16 L 566.37 340.09 L 566.53 368.93 L 566.7 338.08 L 566.85 368.9 L 567 336.18 L 567.01 368.9 L 567.02 336.57 L 567.18 368.9 L 567.34 343.09 L 567.41 368.9 L 567.47 345.6 L 567.57 369 L 567.67 352.3 L 567.83 369.19 L 567.99 363.18 L 568.08 369.36 L 568.17 369.18 L 568.24 369.48 L 568.32 369.18 L 568.48 369.57 L 568.64 369.18 L 568.8 369.57 L 568.96 369.18 L 569.13 369.57 L 569.29 369.18 L 569.45 369.57 L 569.61 369.18 L 569.77 369.57 L 569.94 369.18 L 570.1 369.41 L 570.46 369.02 L 570.58 360.35 L 570.72 368.74 L 570.85 351 L 570.88 368.57 L 570.91 347.2 L 571.07 368.56 L 571.23 324.97 L 571.28 368.56 L 571.32 318.9 L 571.44 368.56 L 571.56 328.71 L 571.67 368.56 L 571.79 338.4 L 571.83 368.64 L 571.88 340.49 L 572.04 368.87 L 572.2 347.9 L 572.31 369.16 L 572.42 352.8 L 572.47 369.34 L 572.53 353.46 L 572.69 369.57 L 572.85 355.4 L 573.01 369.57 L 573.18 357.34 L 573.34 369.57 L 573.5 359.29 L 573.66 369.57 L 573.82 361.23 L 573.99 369.57 L 574.15 363.18 L 574.18 369.57 L 574.22 363.6 L 574.34 369.57 L 574.47 365.58 L 574.47 369.57 L 574.47 365.58 L 574.63 369.57 L 574.8 365.58 L 574.96 369.57 L 575.12 365.58 L 575.28 369.57 L 575.44 365.58 L 575.61 369.57 L 575.77 365.58 L 575.93 369.57 L 576.09 365.58 L 576.25 369.57 L 576.42 365.58 L 576.52 369.57 L 576.63 365.58 L 576.68 369.57 L 576.74 360.45 L 576.9 369.56 L 577.06 345.25 L 577.11 369.4 L 577.15 341.1 L 577.27 369.28 L 577.39 339.7 L 577.55 369.07 L 577.71 337.77 L 577.87 368.87 L 578.04 335.84 L 578.14 368.87 L 578.25 334.56 L 578.3 368.87 L 578.36 335.45 L 578.52 368.87 L 578.68 338.07 L 578.85 368.99 L 579.01 340.7 L 579.09 369.17 L 579.17 342 L 579.25 369.29 L 579.33 344.18 L 579.49 369.48 L 579.66 348.5 L 579.82 369.57 L 579.98 352.82 L 580.14 369.57 L 580.3 357.14 L 580.41 369.57 L 580.52 360 L 580.57 369.57 L 580.63 363.99 L 580.7 369.57 L 580.77 369.18 L 580.86 369.57 L 580.95 369.18 L 581.11 369.57 L 581.28 369.18 L 581.44 369.57 L 581.6 369.18 L 581.76 369.57 L 581.92 369.18 L 582.09 369.57 L 582.25 369.18 L 582.41 369.49 L 582.57 369.18 L 582.73 369.27 L 583.06 369.06 L 583.18 342 L 583.2 368.97 L 583.22 341.75 L 583.38 368.96 L 583.54 339.59 L 583.6 368.96 L 583.65 338.88 L 583.76 368.96 L 583.87 340.23 L 584.03 368.96 L 584.19 342.25 L 584.35 369.13 L 584.52 344.27 L 584.68 369.35 L 584.84 346.29 L 584.93 369.51 L 585.02 347.4 L 585.09 369.57 L 585.16 350.79 L 585.33 369.57 L 585.49 358.35 L 585.6 369.57 L 585.72 363.78 L 585.77 369.57 L 585.81 363.78 L 585.97 369.57 L 586.14 363.78 L 586.3 369.57 L 586.46 363.78 L 586.62 369.57 L 586.78 363.78 L 586.95 369.57 L 587.11 363.78 L 587.27 369.57 L 587.43 363.78 L 587.59 369.57 L 587.76 363.78 L 587.82 369.57 L 587.88 363.78 L 587.98 369.57 L 588.08 362.81 L 588.24 369.57 L 588.4 361.24 L 588.57 369.57 L 588.73 359.68 L 588.88 369.57 L 589.03 358.2 L 589.04 369.57 L 589.05 357.93 L 589.21 369.57 L 589.38 353.39 L 589.54 369.38 L 589.7 348.86 L 589.82 369.17 L 589.93 345.6 L 589.98 369.04 L 590.02 344.01 L 590.19 368.88 L 590.35 338.37 L 590.51 368.83 L 590.67 332.76 L 590.67 368.83 L 590.67 332.77 L 590.83 368.83 L 591 336.03 L 591.16 368.88 L 591.32 339.29 L 591.48 369.13 L 591.64 342.55 L 591.71 369.31 L 591.77 343.8 L 591.87 369.44 L 591.97 351.01 L 592.13 369.57 L 592.29 362.72 L 592.38 369.57 L 592.47 369.18 L 592.54 369.57 L 592.62 369.18 L 592.78 369.57 L 592.94 369.18 L 593.1 369.57 L 593.26 369.18 L 593.43 369.57 L 593.59 369.18 L 593.75 369.53 L 593.91 369.18 L 594.24 369.18 L 594.4 368.82 L 594.56 369.18 L 594.65 368.55 L 594.68 341.98 L 594.78 368.55 L 594.88 329.97 L 594.98 368.55 L 595.08 318.63 L 595.14 368.55 L 595.21 320.65 L 595.37 368.55 L 595.53 325.8 L 595.69 368.75 L 595.86 330.95 L 596.02 369.1 L 596.18 336.09 L 596.22 369.33 L 596.27 337.5 L 596.39 369.5 L 596.5 340.56 L 596.67 369.57 L 596.83 344.77 L 596.99 369.57 L 597.15 348.98 L 597.16 369.57 L 597.17 349.2 L 597.32 369.57 L 597.48 353.03 L 597.64 369.57 L 597.8 357.08 L 597.96 369.57 L 598.12 361.12 L 598.29 369.57 L 598.45 365.16 L 598.61 369.57 L 598.77 369.18 L 598.77 369.57 L 598.77 369.18 L 598.93 369.57 L 599.1 369.18 L 599.26 369.57 L 599.42 369.18 L 599.58 369.57 L 599.74 369.18 L 599.91 369.57 L 600.07 369.18 L 600.23 369.57 L 600.39 369.18 L 600.55 369.57 L 600.72 369.18 L 600.82 369.57 L 600.93 369.18 L 600.98 369.51 L 601.04 363.48 L 601.2 369.33 L 601.36 346.61 L 601.41 369.16 L 601.45 342 L 601.57 369.02 L 601.69 338.73 L 601.85 368.79 L 602.01 334.24 L 602.15 368.79 L 602.28 330.51 L 602.31 368.79 L 602.34 331.64 L 602.5 368.79 L 602.66 338.27 L 602.82 368.88 L 602.98 344.89 L 603 369.03 L 603.02 345.6 L 603.16 369.16 L 603.31 347.25 L 603.47 369.42 L 603.63 349.11 L 603.64 369.56 L 603.65 349.2 L 603.77 369.57 L 603.9 369.18 L 603.93 369.57 L 603.96 369.18 L 604.12 369.57 L 604.28 369.18 L 604.44 369.57 L 604.6 369.18 L 604.77 369.57 L 604.93 369.18 L 605.09 369.57 L 605.25 369.18 L 605.41 369.57 L 605.58 369.18 L 605.74 369.57 L 605.9 369.18 L 605.98 369.57 L 606.06 369.18 L 606.14 369.57 L 606.22 366.26 L 606.39 369.57 L 606.55 360.48 L 606.71 369.57 L 606.87 354.7 L 607.03 369.57 L 607.2 348.91 L 607.34 369.57 L 607.48 343.8 L 607.5 369.57 L 607.52 343.64 L 607.68 369.57 L 607.84 342.27 L 608.01 369.32 L 608.17 340.9 L 608.33 369.01 L 608.49 339.53 L 608.63 368.72 L 608.76 338.4 L 608.79 368.66 L 608.82 336.19 L 608.97 368.66 L 609.12 324.03 L 609.13 368.66 L 609.14 324.92 L 609.3 368.66 L 609.46 339.86 L 609.53 368.66 L 609.59 345.6 L 609.69 368.79 L 609.79 347.02 L 609.95 369.05 L 610.11 349.34 L 610.16 369.26 L 610.22 350.1 L 610.33 369.41 L 610.44 352.11 L 610.6 369.57 L 610.76 355.1 L 610.84 369.57 L 610.92 356.58 L 611 369.57 L 611.08 356.58 L 611.25 369.57 L 611.41 356.58 L 611.57 369.57 L 611.73 356.58 L 611.89 369.57 L 612.06 356.58 L 612.22 369.57 L 612.38 356.58 L 612.54 369.57 L 612.7 356.58 L 612.87 369.57 L 613.03 356.58 L 613.05 369.57 L 613.08 356.58 L 613.22 369.41 L 613.35 350.25 L 613.43 369.18 L 613.51 346.5 L 613.59 369.01 L 613.68 341.78 L 613.84 368.75 L 614 332.42 L 614.16 368.58 L 614.32 323.06 L 614.38 368.58 L 614.43 319.98 L 614.54 368.58 L 614.65 333.56 L 614.77 368.58 L 614.9 349.2 L 614.93 368.66 L 614.97 349.57 L 615.13 368.87 L 615.3 351.19 L 615.46 369.21 L 615.62 352.8 L 615.62 369.38 L 615.62 352.83 L 615.78 369.55 L 615.94 360.39 L 616.11 369.57 L 616.27 367.95 L 616.29 369.57 L 616.32 369.18 L 616.46 369.57 L 616.59 369.18 L 616.75 369.57 L 616.92 369.18 L 617.08 369.57 L 617.24 369.18 L 617.4 369.57 L 617.56 369.18 L 617.73 369.57 L 617.89 369.18 L 618.05 369.43 L 618.21 369.18 L 618.48 369.18 L 618.51 369.14 L 618.54 365.77 L 618.63 369.05 L 618.73 353.7 L 618.8 368.97 L 618.86 349.84 L 619.02 368.97 L 619.18 340.01 L 619.19 368.97 L 619.2 339.51 L 619.31 368.97 L 619.42 348.48 L 619.46 368.97 L 619.51 348.48 L 619.67 368.99 L 619.83 348.48 L 619.99 369.2 L 620.16 348.48 L 620.32 369.41 L 620.48 348.48 L 620.64 369.41 L 620.8 348.48 L 620.97 369.23 L 621.13 348.48 L 621.29 369.05 L 621.45 348.48 L 621.45 369.05 L 621.45 348.45 L 621.59 369.05 L 621.72 343.38 L 621.75 369.05 L 621.78 344.92 L 621.94 369.05 L 622.1 353.94 L 622.14 369.05 L 622.19 356.4 L 622.31 369.13 L 622.42 362.56 L 622.42 362.56" clip-path="url(#pd76dfbb8c1)" style="fill: none; stroke: #1f77b4; stroke-width: 1.75; stroke-linecap: square"/></g><g id="patch_13"><path d="M 90.36 374.04 L 90.36 289.08" style="fill: none; stroke: #000000; stroke-width: 0.8; stroke-linejoin: miter; stroke-linecap: square"/></g><g id="patch_14"><path d="M 648.36 374.04 L 648.36 289.08" style="fill: none; stroke: #000000; stroke-width: 0.8; stroke-linejoin: miter; stroke-linecap: square"/></g><g id="patch_15"><path d="M 90.36 374.04 L 648.36 374.04" style="fill: none; stroke: #000000; stroke-width: 0.8; stroke-linejoin: miter; stroke-linecap: square"/></g><g id="patch_16"><path d="M 90.36 289.08 L 648.36 289.08" style="fill: none; stroke: #000000; stroke-width: 0.8; stroke-linejoin: miter; stroke-linecap: square"/></g></g><g id="axes_4"><g id="patch_17"><path d="M 90 474.7 L 648 474.7 L 648 390.29 L 90 390.29 z" style="fill: #ffffff"/></g><g id="matplotlib.axis_7"><g id="xtick_28"><g id="line2d_42"><g><use href="#m1504cfccaf" x="145.8" y="474.84" style="stroke: #000000; stroke-width: 0.8"/></g></g><g id="text_44"><g transform="translate(0 0.9)"><text style="font-size: 10px; font-family: 'DejaVu Sans', 'Liberation Sans', sans-serif" transform="translate(122.111965 501.008888) rotate(-30)">2020</text></g></g></g><g id="xtick_29"><g id="line2d_43"><g><use href="#m1504cfccaf" x="205.56" y="474.84" style="stroke: #000000; stroke-width: 0.8"/></g></g><g id="text_45"><g transform="translate(0 0.9)"><text style="font-size: 10px; font-family: 'DejaVu Sans', 'Liberation Sans', sans-serif" transform="translate(181.801682 501.008888) rotate(-30)">2030</text></g></g></g><g id="xtick_30"><g id="line2d_44"><g><use href="#m1504cfccaf" x="264.6" y="474.84" style="stroke: #000000; stroke-width: 0.8"/></g></g><g id="text_46"><g transform="translate(0 0.9)"><text style="font-size: 10px; font-family: 'DejaVu Sans', 'Liberation Sans', sans-serif" transform="translate(241.475059 501.008888) rotate(-30)">2040</text></g></g></g><g id="xtick_31"><g id="line2d_45"><g><use href="#m1504cfccaf" x="324.36" y="474.84" style="stroke: #000000; stroke-width: 0.8"/></g></g><g id="text_47"><g transform="translate(0.18 0.9)"><text style="font-size: 10px; font-family: 'DejaVu Sans', 'Liberation Sans', sans-serif" transform="translate(301.164777 501.008888) rotate(-30)">2050</text></g></g></g><g id="xtick_32"><g id="line2d_46"><g><use href="#m1504cfccaf" x="384.12" y="474.84" style="stroke: #000000; stroke-width: 0.8"/></g></g><g id="text_48"><g transform="translate(-0.36 0.9)"><text style="font-size: 10px; font-family: 'DejaVu Sans', 'Liberation Sans', sans-serif" transform="translate(360.838154 501.008888) rotate(-30)">2060</text></g></g></g><g id="xtick_33"><g id="line2d_47"><g><use href="#m1504cfccaf" x="443.88" y="474.84" style="stroke: #000000; stroke-width: 0.8"/></g></g><g id="text_49"><g transform="translate(-0.36 0.9)"><text style="font-size: 10px; font-family: 'DejaVu Sans', 'Liberation Sans', sans-serif" transform="translate(420.527871 501.008888) rotate(-30)">2070</text></g></g></g><g id="xtick_34"><g id="line2d_48"><g><use href="#m1504cfccaf" x="503.64" y="474.84" style="stroke: #000000; stroke-width: 0.8"/></g></g><g id="text_50"><g transform="translate(-0.36 0.9)"><text style="font-size: 10px; font-family: 'DejaVu Sans', 'Liberation Sans', sans-serif" transform="translate(480.201249 501.008888) rotate(-30)">2080</text></g></g></g><g id="xtick_35"><g id="line2d_49"><g><use href="#m1504cfccaf" x="563.4" y="474.84" style="stroke: #000000; stroke-width: 0.8"/></g></g><g id="text_51"><g transform="translate(-0.18 0.9)"><text style="font-size: 10px; font-family: 'DejaVu Sans', 'Liberation Sans', sans-serif" transform="translate(539.890966 501.008888) rotate(-30)">2090</text></g></g></g><g id="xtick_36"><g id="line2d_50"><g><use href="#m1504cfccaf" x="623.16" y="474.84" style="stroke: #000000; stroke-width: 0.8"/></g></g><g id="text_52"><g transform="translate(-0.18 0.9)"><text style="font-size: 10px; font-family: 'DejaVu Sans', 'Liberation Sans', sans-serif" transform="translate(599.564343 501.008888) rotate(-30)">2100</text></g></g></g></g><g id="matplotlib.axis_8"><g id="ytick_12"><g id="line2d_51"><g><use href="#m5d545ce8f8" x="90.36" y="471.24" style="stroke: #000000; stroke-width: 0.8"/></g></g><g id="text_53"><g transform="translate(-0.72 0)"><text style="font-size: 10px; font-family: 'DejaVu Sans', 'Liberation Sans', sans-serif; text-anchor: end" x="83" y="474.665676" transform="rotate(-0 83 474.665676)">−0.05</text></g></g></g><g id="ytick_13"><g id="line2d_52"><g><use href="#m5d545ce8f8" x="90.36" y="433.08" style="stroke: #000000; stroke-width: 0.8"/></g></g><g id="text_54"><g transform="translate(0.36 0)"><text style="font-size: 10px; font-family: 'DejaVu Sans', 'Liberation Sans', sans-serif; text-anchor: end" x="83" y="436.29577" transform="rotate(-0 83 436.29577)">0.00</text></g></g></g><g id="ytick_14"><g id="line2d_53"><g><use href="#m5d545ce8f8" x="90.36" y="394.2" style="stroke: #000000; stroke-width: 0.8"/></g></g><g id="text_55"><g transform="translate(0.36 0)"><text style="font-size: 10px; font-family: 'DejaVu Sans', 'Liberation Sans', sans-serif; text-anchor: end" x="83" y="397.925865" transform="rotate(-0 83 397.925865)">0.05</text></g></g></g><g id="text_56"><g transform="translate(0.36 1.8)"><text style="font-size: 10px; font-family: 'DejaVu Sans', 'Liberation Sans', sans-serif; text-anchor: middle" x="46.275" y="432.496552" transform="rotate(-90 46.275 432.496552)">nummasked</text></g></g></g><g id="line2d_54"><path d="M 115.36 432.72 L 622.64 432.72" clip-path="url(#pb10cee9d41)" style="fill: none; stroke: #1f77b4; stroke-width: 1.5; stroke-linecap: square"/></g><g id="patch_18"><path d="M 90.36 474.84 L 90.36 390.6" style="fill: none; stroke: #000000; stroke-width: 0.8; stroke-linejoin: miter; stroke-linecap: square"/></g><g id="patch_19"><path d="M 648.36 474.84 L 648.36 390.6" style="fill: none; stroke: #000000; stroke-width: 0.8; stroke-linejoin: miter; stroke-linecap: square"/></g><g id="patch_20"><path d="M 90.36 474.84 L 648.36 474.84" style="fill: none; stroke: #000000; stroke-width: 0.8; stroke-linejoin: miter; stroke-linecap: square"/></g><g id="patch_21"><path d="M 90.36 390.6 L 648.36 390.6" style="fill: none; stroke: #000000; stroke-width: 0.8; stroke-linejoin: miter; stroke-linecap: square"/></g></g><g id="axes_5"><g id="patch_22"><path d="M 90 576 L 648 576 L 648 491.59 L 90 491.59 z" style="fill: #ffffff"/></g><g id="matplotlib.axis_9"><g id="xtick_37"><g id="line2d_55"><g><use href="#m1504cfccaf" x="145.8" y="576.36" style="stroke: #000000; stroke-width: 0.8"/></g></g><g id="text_57"><g transform="translate(0 0.9)"><text style="font-size: 10px; font-family: 'DejaVu Sans', 'Liberation Sans', sans-serif" transform="translate(122.111965 602.30544) rotate(-30)">2020</text></g></g></g><g id="xtick_38"><g id="line2d_56"><g><use href="#m1504cfccaf" x="205.56" y="576.36" style="stroke: #000000; stroke-width: 0.8"/></g></g><g id="text_58"><g transform="translate(0 0.9)"><text style="font-size: 10px; font-family: 'DejaVu Sans', 'Liberation Sans', sans-serif" transform="translate(181.801682 602.30544) rotate(-30)">2030</text></g></g></g><g id="xtick_39"><g id="line2d_57"><g><use href="#m1504cfccaf" x="264.6" y="576.36" style="stroke: #000000; stroke-width: 0.8"/></g></g><g id="text_59"><g transform="translate(0 0.9)"><text style="font-size: 10px; font-family: 'DejaVu Sans', 'Liberation Sans', sans-serif" transform="translate(241.475059 602.30544) rotate(-30)">2040</text></g></g></g><g id="xtick_40"><g id="line2d_58"><g><use href="#m1504cfccaf" x="324.36" y="576.36" style="stroke: #000000; stroke-width: 0.8"/></g></g><g id="text_60"><g transform="translate(0.18 0.9)"><text style="font-size: 10px; font-family: 'DejaVu Sans', 'Liberation Sans', sans-serif" transform="translate(301.164777 602.30544) rotate(-30)">2050</text></g></g></g><g id="xtick_41"><g id="line2d_59"><g><use href="#m1504cfccaf" x="384.12" y="576.36" style="stroke: #000000; stroke-width: 0.8"/></g></g><g id="text_61"><g transform="translate(-0.36 0.9)"><text style="font-size: 10px; font-family: 'DejaVu Sans', 'Liberation Sans', sans-serif" transform="translate(360.838154 602.30544) rotate(-30)">2060</text></g></g></g><g id="xtick_42"><g id="line2d_60"><g><use href="#m1504cfccaf" x="443.88" y="576.36" style="stroke: #000000; stroke-width: 0.8"/></g></g><g id="text_62"><g transform="translate(-0.36 0.9)"><text style="font-size: 10px; font-family: 'DejaVu Sans', 'Liberation Sans', sans-serif" transform="translate(420.527871 602.30544) rotate(-30)">2070</text></g></g></g><g id="xtick_43"><g id="line2d_61"><g><use href="#m1504cfccaf" x="503.64" y="576.36" style="stroke: #000000; stroke-width: 0.8"/></g></g><g id="text_63"><g transform="translate(-0.36 0.9)"><text style="font-size: 10px; font-family: 'DejaVu Sans', 'Liberation Sans', sans-serif" transform="translate(480.201249 602.30544) rotate(-30)">2080</text></g></g></g><g id="xtick_44"><g id="line2d_62"><g><use href="#m1504cfccaf" x="563.4" y="576.36" style="stroke: #000000; stroke-width: 0.8"/></g></g><g id="text_64"><g transform="translate(-0.18 0.9)"><text style="font-size: 10px; font-family: 'DejaVu Sans', 'Liberation Sans', sans-serif" transform="translate(539.890966 602.30544) rotate(-30)">2090</text></g></g></g><g id="xtick_45"><g id="line2d_63"><g><use href="#m1504cfccaf" x="623.16" y="576.36" style="stroke: #000000; stroke-width: 0.8"/></g></g><g id="text_65"><g transform="translate(-0.18 0.9)"><text style="font-size: 10px; font-family: 'DejaVu Sans', 'Liberation Sans', sans-serif" transform="translate(599.564343 602.30544) rotate(-30)">2100</text></g></g></g><g id="text_66"><g transform="translate(-0.72 0.72)"><text style="font-size: 10px; font-family: 'DejaVu Sans', 'Liberation Sans', sans-serif; text-anchor: middle" x="369" y="615.70494" transform="rotate(-0 369 615.70494)">validtime</text></g></g></g><g id="matplotlib.axis_10"><g id="ytick_15"><g id="line2d_64"><g><use href="#m5d545ce8f8" x="90.36" y="572.76" style="stroke: #000000; stroke-width: 0.8"/></g></g><g id="text_67"><g transform="translate(-0.72 0)"><text style="font-size: 10px; font-family: 'DejaVu Sans', 'Liberation Sans', sans-serif; text-anchor: end" x="83" y="575.962228" transform="rotate(-0 83 575.962228)">−0.05</text></g></g></g><g id="ytick_16"><g id="line2d_65"><g><use href="#m5d545ce8f8" x="90.36" y="533.88" style="stroke: #000000; stroke-width: 0.8"/></g></g><g id="text_68"><g transform="translate(0.36 0)"><text style="font-size: 10px; font-family: 'DejaVu Sans', 'Liberation Sans', sans-serif; text-anchor: end" x="83" y="537.592322" transform="rotate(-0 83 537.592322)">0.00</text></g></g></g><g id="ytick_17"><g id="line2d_66"><g><use href="#m5d545ce8f8" x="90.36" y="495.72" style="stroke: #000000; stroke-width: 0.8"/></g></g><g id="text_69"><g transform="translate(0.36 0.72)"><text style="font-size: 10px; font-family: 'DejaVu Sans', 'Liberation Sans', sans-serif; text-anchor: end" x="83" y="499.222416" transform="rotate(-0 83 499.222416)">0.05</text></g></g></g><g id="text_70"><g transform="translate(0.36 1.8)"><text style="font-size: 10px; font-family: 'DejaVu Sans', 'Liberation Sans', sans-serif; text-anchor: middle" x="46.275" y="533.793103" transform="rotate(-90 46.275 533.793103)">numnan</text></g></g></g><g id="line2d_67"><path d="M 115.36 533.52 L 622.64 533.52" clip-path="url(#p0ddc7ec383)" style="fill: none; stroke: #1f77b4; stroke-width: 1.5; stroke-linecap: square"/></g><g id="patch_23"><path d="M 90.36 576.36 L 90.36 492.12" style="fill: none; stroke: #000000; stroke-width: 0.8; stroke-linejoin: miter; stroke-linecap: square"/></g><g id="patch_24"><path d="M 648.36 576.36 L 648.36 492.12" style="fill: none; stroke: #000000; stroke-width: 0.8; stroke-linejoin: miter; stroke-linecap: square"/></g><g id="patch_25"><path d="M 90.36 576.36 L 648.36 576.36" style="fill: none; stroke: #000000; stroke-width: 0.8; stroke-linejoin: miter; stroke-linecap: square"/></g><g id="patch_26"><path d="M 90.36 492.12 L 648.36 492.12" style="fill: none; stroke: #000000; stroke-width: 0.8; stroke-linejoin: miter; stroke-linecap: square"/></g></g></g><defs><clipPath id="p4f396495b8"><rect x="90" y="86.4" width="558" height="84.413793"/></clipPath><clipPath id="p700bc494e0"><rect x="90" y="187.696552" width="558" height="84.413793"/></clipPath><clipPath id="pd76dfbb8c1"><rect x="90" y="288.993103" width="558" height="84.413793"/></clipPath><clipPath id="pb10cee9d41"><rect x="90" y="390.289655" width="558" height="84.413793"/></clipPath><clipPath id="p0ddc7ec383"><rect x="90" y="491.586207" width="558" height="84.413793"/></clipPath></defs></svg>

</body></html>
